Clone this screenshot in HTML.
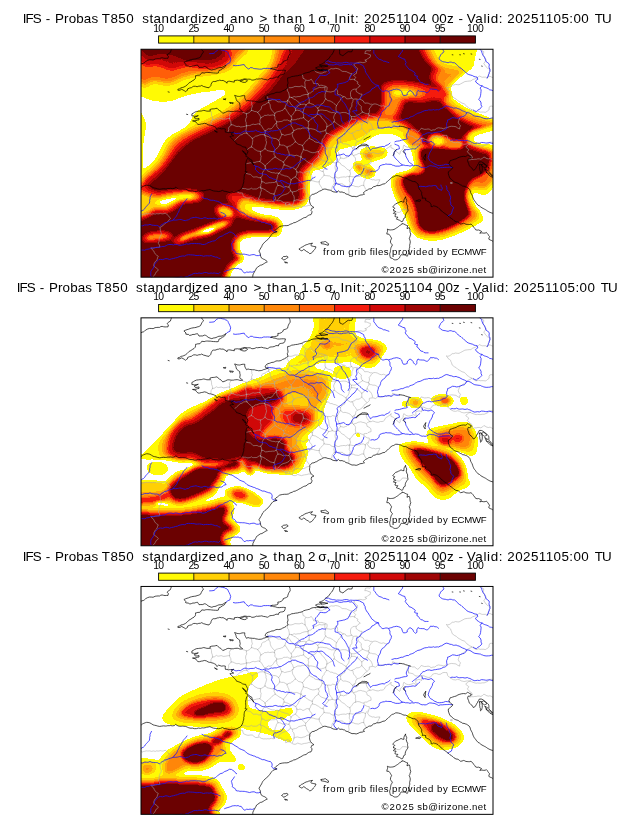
<!DOCTYPE html>
<html><head><meta charset="utf-8">
<style>
html,body{margin:0;padding:0;background:#fff;}
body{width:630px;height:828px;position:relative;overflow:hidden;font-family:"Liberation Sans",sans-serif;color:#000;}
.t{position:absolute;left:0;width:634px;text-align:center;font-size:13.2px;line-height:16px;white-space:pre;letter-spacing:0.62px;}
.tk{font-size:10.4px;}
.tt{font-size:13.4px;}
svg{position:absolute;left:0;top:0;will-change:transform;}
.wm{font-size:9.6px;}
</style></head><body>
<svg width="630" height="828" viewBox="0 0 630 828">
<defs>
<filter id="cm" color-interpolation-filters="sRGB" x="0" y="0" width="100%" height="100%" filterUnits="objectBoundingBox">
<feComponentTransfer>
<feFuncR type="discrete" tableValues="1.0000 1.0000 1.0000 1.0000 1.0000 1.0000 1.0000 1.0000 1.0000 1.0000 1.0000 1.0000 1.0000 1.0000 0.9608 0.9608 0.8157 0.8157 0.6196 0.4235"/>
<feFuncG type="discrete" tableValues="1.0000 1.0000 0.9804 0.9804 0.9804 0.8157 0.8157 0.8157 0.6471 0.6471 0.5294 0.5294 0.3725 0.3725 0.1098 0.1098 0.0314 0.0314 0.0157 0.0078"/>
<feFuncB type="discrete" tableValues="1.0000 1.0000 0.0196 0.0196 0.0196 0.0196 0.0196 0.0196 0.0392 0.0392 0.0392 0.0392 0.0392 0.0392 0.0549 0.0549 0.0314 0.0314 0.0157 0.0078"/>
</feComponentTransfer>
</filter>

<filter id="b1_0" color-interpolation-filters="sRGB" x="-50%" y="-50%" width="200%" height="200%"><feGaussianBlur stdDeviation="1.0"/></filter>
<filter id="b1_2" color-interpolation-filters="sRGB" x="-50%" y="-50%" width="200%" height="200%"><feGaussianBlur stdDeviation="1.2"/></filter>
<filter id="b1_4" color-interpolation-filters="sRGB" x="-50%" y="-50%" width="200%" height="200%"><feGaussianBlur stdDeviation="1.4"/></filter>
<filter id="b1_5" color-interpolation-filters="sRGB" x="-50%" y="-50%" width="200%" height="200%"><feGaussianBlur stdDeviation="1.5"/></filter>
<filter id="b1_6" color-interpolation-filters="sRGB" x="-50%" y="-50%" width="200%" height="200%"><feGaussianBlur stdDeviation="1.6"/></filter>
<filter id="b1_8" color-interpolation-filters="sRGB" x="-50%" y="-50%" width="200%" height="200%"><feGaussianBlur stdDeviation="1.8"/></filter>
<filter id="b2_0" color-interpolation-filters="sRGB" x="-50%" y="-50%" width="200%" height="200%"><feGaussianBlur stdDeviation="2.0"/></filter>
<filter id="b2_2" color-interpolation-filters="sRGB" x="-50%" y="-50%" width="200%" height="200%"><feGaussianBlur stdDeviation="2.2"/></filter>
<filter id="b2_3" color-interpolation-filters="sRGB" x="-50%" y="-50%" width="200%" height="200%"><feGaussianBlur stdDeviation="2.3"/></filter>
<filter id="b2_4" color-interpolation-filters="sRGB" x="-50%" y="-50%" width="200%" height="200%"><feGaussianBlur stdDeviation="2.4"/></filter>
<filter id="b2_5" color-interpolation-filters="sRGB" x="-50%" y="-50%" width="200%" height="200%"><feGaussianBlur stdDeviation="2.5"/></filter>
<clipPath id="cp"><rect x="0" y="0" width="352" height="227.9"/></clipPath>
<g id="ln" fill="none" stroke-linejoin="round" stroke-linecap="round">
<g stroke="#a8a8a8" stroke-width="0.55">
<path d="M161.2 25.3 L161.8 27.1 L162.0 29.0 L163.3 29.6 L164.7 30.8 L166.5 31.2 L168.3 31.1 L170.3 30.0 L171.1 31.2 L171.8 32.0 L172.6 34.3 L174.8 34.3 L177.1 34.4 L178.1 36.5 L179.6 36.0 L181.0 36.0 L182.4 36.5 L183.9 36.8 L185.1 37.3 L186.1 37.8 L186.1 39.9 L185.4 42.2 L187.7 42.5 L189.9 42.8 L191.8 42.2 L193.6 41.9 L194.2 40.6 L195.2 39.4 L196.4 41.1 L196.7 43.0 L196.4 44.9 L198.1 45.6 L199.7 45.6 L201.0 46.7 L201.9 47.1 L204.2 47.6 L205.3 49.4 L206.6 49.6 L207.9 49.5 L209.1 49.3 L210.5 48.7"/>
<path d="M210.5 48.7 L209.7 47.2 L209.5 45.6 L209.5 43.4 L210.2 41.8 L211.7 40.3 L213.5 39.9 L215.2 39.9 L215.1 41.2 L215.5 42.6 L216.6 43.2 L217.8 44.1 L219.4 44.8 L221.1 44.9 L220.6 46.2 L219.7 47.7 L218.8 49.9 L217.2 50.2 L215.5 49.7 L214.0 49.7 L212.5 50.0 L210.5 48.7"/>
<path d="M218.8 49.9 L220.4 50.6 L222.3 51.7 L222.8 52.8 L223.8 54.0 L225.1 53.8 L226.3 53.8 L227.7 54.1 L229.1 55.0 L230.4 54.9 L231.7 55.2 L233.0 54.7 L234.3 54.7 L236.4 55.2 L238.1 56.2 L240.4 56.9 L242.6 56.4 L244.6 57.3 L246.8 57.5"/>
<path d="M237.2 78.5 L235.8 79.7 L234.3 80.8 L232.9 80.1 L231.3 80.0 L229.8 80.2 L228.3 80.5 L228.3 82.8 L227.4 83.8 L226.1 85.0 L224.3 86.1 L223.0 87.6 L221.9 89.0 L221.0 90.1 L220.0 90.8 L218.5 91.7 L217.2 92.0 L215.9 92.6 L215.0 93.7 L214.6 95.0 L214.7 96.4 L213.5 97.8 L212.8 99.4 L212.6 100.5 L213.9 100.4 L215.2 100.3 L216.6 99.7 L217.8 98.7 L217.0 97.9"/>
<path d="M225.3 96.6 L225.3 98.5 L226.1 100.5 L227.1 102.1 L227.8 102.7 L228.9 103.7"/>
<path d="M228.9 103.7 L226.8 104.5 L225.3 105.8 L225.9 107.2 L226.1 108.5 L228.1 109.4 L229.8 110.8 L230.0 112.3 L230.1 113.8 L228.1 114.3 L227.0 114.8 L226.1 115.7 L224.4 115.6 L222.7 116.1 L223.4 117.7 L224.5 119.1 L226.3 120.0 L228.3 120.2 L228.3 122.2 L227.8 123.3 L227.5 124.7 L226.5 126.7 L227.5 128.1 L228.3 129.3 L229.9 129.9 L231.2 130.6 L232.8 130.4 L234.3 131.0 L236.6 130.6 L238.9 130.5 L238.3 132.0 L237.4 133.3 L237.0 134.5 L236.3 136.0"/>
<path d="M96.0 142.6 L97.1 143.0 L98.3 143.7 L100.0 143.7 L101.7 144.1 L101.9 145.6 L102.5 147.2 L104.1 148.0 L105.4 148.5 L107.0 148.9 L108.5 148.7 L110.0 148.5 L111.5 148.7 L112.7 149.7 L114.5 151.0 L116.4 151.1 L118.3 150.5 L119.4 151.3 L120.5 152.0 L122.8 152.5 L124.1 152.3 L125.5 152.5 L126.8 152.2 L128.1 152.5 L130.4 151.8 L132.6 152.5 L133.4 150.2 L135.6 151.0 L137.5 151.6 L139.4 151.3 L140.9 152.1 L142.1 153.1 L143.5 153.6 L144.7 154.0"/>
<path d="M144.7 154.0 L146.2 153.2 L147.5 153.6 L148.9 154.0 L148.9 155.5 L146.8 155.4 L144.7 156.3 L144.7 154.0"/>
<path d="M148.9 155.5 L150.7 156.8 L151.9 157.4 L153.0 157.8 L154.8 157.7 L156.7 156.6 L158.7 157.3 L160.5 157.8 L162.0 157.3 L163.5 157.0 L165.8 156.7 L168.0 156.0 L169.2 156.3 L170.6 156.6"/>
<path d="M173.5 21.1 L174.6 22.3 L175.6 22.9 L177.1 23.4 L178.7 23.9 L180.1 24.0 L181.6 23.7 L183.1 22.8 L184.5 22.7 L185.6 21.7 L186.9 21.1 L188.2 20.7 L189.1 19.9 L190.4 19.4 L191.7 19.6 L193.0 19.6 L194.4 19.1 L196.3 19.3 L198.2 19.9 L199.5 20.8 L201.2 22.1 L203.4 22.2 L205.7 22.5 L206.8 23.2 L208.1 23.7 L209.6 24.4 L211.0 24.4 L209.6 26.2 L208.7 28.2 L208.7 30.3 L209.9 30.4 L211.1 30.0 L212.3 30.1 L213.5 30.5"/>
<path d="M213.5 30.5 L213.9 29.4 L214.7 28.2 L213.9 27.3 L212.5 25.9 L214.1 24.8 L215.5 24.1 L215.5 22.8 L215.8 21.5 L216.5 20.4 L216.6 19.1 L215.7 18.5 L214.3 17.4 L213.5 16.4 L212.8 15.3 L214.3 14.2 L216.3 13.5 L218.2 13.0 L220.0 13.0 L221.9 13.5 L223.8 13.1 L225.7 12.0 L223.8 10.8 L225.1 10.6 L226.4 9.9 L227.6 8.7 L229.1 8.1 L229.4 6.8 L229.4 5.5 L228.0 5.2 L226.6 4.6 L225.2 4.1 L223.8 4.3 L224.2 2.9 L224.5 1.7 L226.8 1.4 L229.1 1.7 L230.0 0.6 L230.5 -0.5 L231.3 -2.1"/>
<path d="M213.5 30.5 L214.6 31.1 L215.4 32.0 L217.0 32.8 L216.3 34.3 L218.1 35.6 L219.3 36.8 L218.2 37.3 L217.0 38.2 L216.3 39.1 L215.2 39.9"/>
<path d="M237.2 78.5 L238.3 79.0 L239.5 79.3 L241.9 78.8 L243.2 78.7 L244.4 78.2 L246.7 77.9 L248.5 78.1 L250.2 78.5 L251.2 76.8 L251.7 75.2 L252.9 75.8 L254.1 76.4 L256.2 76.7 L258.5 77.0"/>
<path d="M268.2 79.4 L267.3 80.9 L266.7 82.8 L267.5 84.6 L267.5 86.4 L269.9 86.8 L272.0 87.3 L273.5 88.7 L275.0 89.6 L276.4 89.6 L277.8 89.6 L279.2 89.7 L280.6 89.3"/>
<path d="M269.5 79.7 L271.4 80.5 L273.5 80.5 L275.2 81.8 L276.5 82.8 L277.8 82.1 L278.7 80.9 L279.6 80.1 L280.3 79.0 L282.1 79.7 L283.7 80.1 L285.4 80.0 L287.1 79.7 L288.7 80.1 L290.1 81.3 L292.0 80.6 L293.9 80.6 L295.6 79.1 L297.6 78.5 L299.8 78.9 L301.0 78.9 L302.2 79.6 L303.2 79.2 L304.5 78.7 L306.7 78.2 L308.4 77.4 L310.4 77.0 L312.8 77.2 L315.0 77.5 L316.8 78.9 L318.7 79.7 L318.7 78.1 L319.5 76.4 L318.0 74.8 L317.2 72.9 L317.6 71.8 L318.1 70.6 L318.7 68.4 L320.1 67.8 L321.8 66.7 L322.6 66.1 L323.9 65.3 L325.5 63.8 L326.6 62.7 L327.7 62.2 L329.3 61.5 L330.8 60.5"/>
<path d="M330.8 60.5 L329.7 59.8 L328.6 59.3 L327.3 58.3 L326.3 57.8 L325.2 56.3 L324.4 55.6 L323.2 54.5 L321.0 53.9 L319.8 53.1 L318.7 52.5 L316.9 51.5 L315.3 49.9 L313.2 48.8 L312.0 47.8 L311.2 47.2 L310.5 44.9 L309.9 43.7 L309.7 42.6 L308.4 41.5 L307.0 40.6 L306.4 39.2 L305.2 38.1 L306.7 38.4 L308.2 38.1 L309.8 37.1 L311.2 35.8 L312.8 35.8 L314.5 35.1 L316.2 35.4 L318.0 35.5 L319.7 34.6 L321.0 33.9 L321.9 33.4 L323.9 32.3 L326.3 32.0 L328.1 31.8 L329.9 31.7 L331.7 30.3 L333.8 29.7 L335.8 28.6 L337.0 28.0 L338.3 26.7 L340.4 27.7 L341.6 28.0 L342.8 27.9 L344.6 27.9 L346.2 28.7"/>
<path d="M330.8 60.5 L332.6 61.6 L334.6 62.8 L336.0 62.9 L337.6 62.3 L339.1 62.9 L340.6 62.8 L342.4 62.8 L344.3 63.1 L345.5 62.6 L346.4 61.7 L348.1 60.5 L348.1 58.6 L348.9 57.0 L350.8 56.8 L352.7 57.6 L354.5 58.0 L355.0 57.9"/>
<path d="M346.2 28.7 L347.5 27.5 L348.9 27.0 L350.9 28.0 L352.3 28.4 L353.4 29.0 L354.9 29.8 L355.0 29.8"/>
<path d="M346.2 28.7 L347.1 26.6 L347.4 25.4 L348.1 24.4 L348.3 23.3 L349.0 22.1 L348.9 19.9 L346.7 19.1 L345.1 17.6 L343.9 15.9 L342.8 14.3 L344.1 12.5 L345.1 10.5 L344.4 9.6 L343.5 8.3 L342.8 7.0 L342.1 5.5 L342.6 4.0 L342.8 2.4 L341.1 1.4 L339.2 0.3 L337.5 -0.9 L336.1 -1.3"/>
<path d="M228.9 103.7 L230.2 103.8 L231.6 103.2 L233.0 103.5 L234.3 104.0 L236.0 104.4 L237.8 104.4 L239.3 103.7 L241.1 103.7 L242.4 103.3 L243.4 102.5 L244.1 100.7 L245.6 99.4 L246.5 98.9 L247.6 98.1 L249.2 97.0 L250.2 95.7 L249.8 97.2 L250.2 98.7 L252.3 99.3 L253.9 101.0 L255.4 102.5 L256.8 103.4 L258.5 105.0 L259.2 103.8 L259.2 102.5 L260.4 101.2 L261.2 100.3 L262.2 99.4 L262.2 97.6 L263.0 95.7 L264.2 97.1 L266.0 97.9 L267.6 98.2 L269.2 98.0 L271.0 97.5 L272.8 96.7 L274.2 97.9 L275.8 98.7 L275.3 97.5 L274.8 96.1 L274.8 94.7 L275.0 93.4 L276.4 93.4 L277.8 93.0 L279.2 93.3 L280.6 94.1 L280.7 92.9 L280.8 91.7 L281.0 90.5 L280.6 89.3"/>
<path d="M280.6 89.3 L282.8 89.3 L284.8 90.3 L287.1 91.0 L289.3 90.8 L290.8 89.0 L291.6 87.8 L293.7 87.1 L295.7 87.2 L297.8 88.0 L299.9 87.6 L301.3 86.5 L303.0 86.0 L304.5 86.1 L305.9 86.1 L306.3 87.6 L306.7 89.1 L307.6 90.2 L308.6 90.8 L310.4 92.2 L312.3 93.2 L314.5 93.5 L316.6 92.9 L318.7 93.4 L320.2 94.4 L321.4 94.7 L322.7 95.0 L323.9 95.0 L325.2 94.6 L326.6 94.5 L327.9 94.5 L329.3 94.6"/>
<path d="M329.3 94.6 L327.7 95.1 L326.6 96.1 L325.5 96.7 L324.8 97.9 L326.1 98.9 L327.8 100.2 L327.2 101.4 L326.3 102.5 L327.8 104.0 L328.8 105.3 L330.3 106.0 L331.0 107.3 L331.5 108.5 L329.6 108.5"/>
<path d="M329.3 94.6 L330.8 95.4 L332.0 95.8 L333.7 96.4 L335.2 96.8 L336.7 96.5 L338.2 96.7 L339.8 96.7 L341.3 96.4 L343.2 96.4 L345.1 95.6 L347.1 94.7 L347.8 93.7 L348.9 92.9 L350.8 92.9 L352.6 93.4 L354.6 93.3 L355.0 93.0"/>
<path d="M327.8 110.5 L329.3 110.5 L330.7 110.2 L332.3 110.3 L333.8 110.0 L335.3 110.0 L336.8 109.6 L338.4 109.6 L339.8 110.0 L341.6 109.0 L342.8 107.8 L344.0 108.1 L345.0 109.0 L347.3 109.7 L348.5 109.4 L349.7 109.6 L350.9 110.2 L351.9 110.8 L352.6 110.0 L353.5 109.0 L354.1 107.0 L355.0 106.3"/>
<path d="M-3.0 161.7 L-2.7 161.6 L-0.8 161.6 L-0.4 163.8 L0.8 165.8 L2.2 165.1 L3.8 164.8 L5.3 164.4 L6.8 164.6 L8.6 164.4 L10.5 164.9 L12.4 164.5 L14.3 164.9 L15.6 164.4 L16.9 164.6 L18.0 164.6 L19.4 164.1 L20.6 164.5 L21.7 164.6 L22.8 164.4 L24.1 163.8 L25.6 164.7 L27.1 166.3 L28.5 167.9 L29.4 169.2 L28.2 170.5 L27.4 171.6 L26.3 172.8 L24.9 173.7 L23.3 175.0 L22.0 176.2 L20.2 177.6 L18.8 178.2 L19.3 179.8 L19.3 181.4 L19.9 182.8 L20.3 184.3 L20.1 185.7 L19.3 186.8 L18.7 188.3 L18.1 189.6 L18.1 191.9 L17.3 194.2 L18.5 195.9 L18.8 197.9 L16.5 198.1 L14.3 198.4 L12.1 198.9 L9.8 198.7 L11.1 200.3 L12.8 201.7 L13.3 203.2 L14.5 205.0 L15.7 206.0 L17.3 207.0 L16.5 208.6 L16.2 210.0 L15.5 211.3 L14.3 212.3 L13.5 213.6 L13.0 214.6 L12.8 216.9 L14.1 217.8 L15.1 218.6 L16.3 219.4 L17.3 220.7 L16.5 221.9 L15.3 222.6 L14.3 224.5 L13.5 226.0 L11.8 227.5 L10.6 229.0 L9.8 230.5"/>
<path d="M309.7 133.5 L311.2 133.1 L311.2 134.3 L309.7 134.3 L309.7 133.5"/>
<path d="M266.0 83.2 L267.5 84.3 L267.5 86.4"/>
<path d="M225.4 84.5 L224.6 83.2 L223.0 81.8 L221.9 80.4 L220.7 79.2"/>
<path d="M216.1 92.1 L215.1 91.0 L214.6 89.8 L213.5 88.7 L212.8 88.0 L212.2 86.3 L212.0 85.0 L211.1 84.0"/>
<path d="M220.7 79.2 L219.6 80.4 L218.4 81.0 L217.1 81.4 L215.7 81.3 L214.8 81.8 L213.8 82.7 L212.4 83.2 L211.1 84.0"/>
<path d="M199.7 92.6 L199.6 91.1 L199.5 89.6"/>
<path d="M199.7 92.6 L200.8 93.9 L202.4 94.7 L204.0 94.5 L205.7 94.9 L207.2 95.4 L208.9 96.1 L209.9 97.4 L211.5 98.9"/>
<path d="M199.5 89.6 L200.5 88.5 L201.0 87.5 L202.5 86.7 L203.6 86.2 L203.9 85.0 L203.8 83.9 L204.3 82.6 L205.4 81.5"/>
<path d="M211.5 98.9 L212.7 98.1 L213.4 97.0"/>
<path d="M211.1 84.0 L209.4 84.1 L207.9 83.2 L206.8 82.6 L205.4 81.5"/>
<path d="M184.7 49.6 L184.0 48.1 L184.1 46.7 L184.0 45.2 L184.6 43.7 L184.7 42.2 L183.8 40.8 L183.8 39.4 L184.1 37.8"/>
<path d="M184.7 49.6 L186.2 50.9 L187.3 51.4 L189.1 51.7 L190.7 52.6 L191.8 53.1 L192.8 54.2 L194.4 55.3 L195.5 56.3"/>
<path d="M195.5 56.3 L196.4 55.2 L196.7 54.2 L197.5 53.4 L198.2 52.2 L199.4 51.0 L199.8 49.5 L201.0 48.3 L202.4 47.7"/>
<path d="M106.0 84.0 L104.4 83.9 L102.8 84.0 L101.1 85.3 L99.3 85.8 L98.4 86.6 L97.3 87.6 L95.8 88.9 L94.7 90.1 L93.7 91.0"/>
<path d="M106.0 84.0 L105.0 82.3 L105.0 80.3 L105.4 78.6 L105.6 76.6"/>
<path d="M105.6 76.6 L105.5 76.4"/>
<path d="M105.5 76.4 L103.7 77.2 L101.6 77.5 L99.7 77.8 L97.9 77.0 L95.9 77.3 L93.9 76.6 L92.0 75.6 L90.2 75.5"/>
<path d="M90.2 75.5 L89.6 76.5 L88.6 77.1 L87.5 78.8 L87.8 80.6 L87.0 82.5"/>
<path d="M224.6 105.4 L223.0 104.7 L221.3 104.5 L219.9 103.9 L218.4 104.2 L217.0 104.4 L215.8 105.3 L214.0 105.7 L212.4 106.5"/>
<path d="M222.6 117.4 L221.7 116.6 L220.6 116.2 L218.8 115.4 L216.7 115.1 L214.6 115.6"/>
<path d="M214.6 115.6 L214.7 114.4 L214.7 113.3 L214.3 112.1 L214.5 111.0 L214.6 109.8 L214.2 108.5 L213.5 107.5 L212.4 106.5"/>
<path d="M211.5 98.9 L211.9 100.5 L211.4 102.0 L211.8 103.6 L211.2 105.2"/>
<path d="M211.2 105.2 L212.4 106.5"/>
<path d="M222.7 136.2 L221.0 136.0 L219.3 136.8 L217.6 137.6 L215.9 137.4 L214.1 137.2 L212.4 136.4 L210.8 136.1 L209.1 136.2"/>
<path d="M222.7 136.2 L222.8 134.1 L222.9 132.9 L223.4 131.8 L224.1 130.7 L224.3 129.6 L224.4 128.3 L224.4 127.1"/>
<path d="M224.4 127.1 L222.4 126.1 L220.4 126.2 L218.5 127.1 L216.4 127.1 L214.5 127.5 L212.5 127.7 L210.5 127.4 L208.5 127.1"/>
<path d="M209.1 136.2 L208.9 135.1 L209.3 134.0 L209.0 133.0 L208.2 131.7 L208.5 129.6 L208.3 127.5"/>
<path d="M208.5 127.1 L208.3 127.5"/>
<path d="M225.2 140.3 L224.1 139.3 L223.7 138.0 L222.7 136.2"/>
<path d="M207.6 144.7 L208.1 143.0 L207.8 141.3 L207.6 139.6 L208.2 138.1"/>
<path d="M208.2 138.1 L209.1 136.2"/>
<path d="M226.5 124.5 L225.3 125.8 L224.4 127.1"/>
<path d="M214.6 115.6 L212.7 116.4 L211.4 118.2 L210.7 119.2 L209.9 120.0 L208.8 121.3"/>
<path d="M208.8 121.3 L209.0 122.7 L209.5 124.2 L209.2 125.7 L208.5 127.1"/>
<path d="M117.4 149.8 L117.9 148.6 L118.5 147.2 L119.3 145.7 L119.3 144.3 L119.5 143.0 L120.3 141.6 L120.2 140.1 L119.8 138.8"/>
<path d="M101.3 139.1 L103.4 139.4 L104.6 139.4 L105.8 139.9 L107.0 140.0 L108.1 139.9 L109.2 139.7 L110.3 138.9 L111.6 139.7 L112.7 139.8 L113.9 139.7 L115.1 139.8 L116.1 139.5 L117.0 138.8 L118.3 138.0 L119.5 137.9"/>
<path d="M119.8 138.8 L119.5 137.9"/>
<path d="M199.7 92.6 L198.4 94.3 L197.6 95.6 L197.2 96.5 L196.5 97.6"/>
<path d="M211.2 105.2 L209.7 105.6 L208.4 106.4 L206.8 107.4 L205.8 108.3 L204.2 108.8 L202.6 109.4 L201.0 108.9 L199.5 108.8"/>
<path d="M196.5 97.6 L196.6 99.0 L196.4 100.5 L196.6 102.0 L197.5 103.2 L197.8 104.8 L199.0 106.3 L199.2 107.5 L199.5 108.8"/>
<path d="M208.8 121.3 L207.6 120.7 L206.1 120.0 L205.3 119.1 L204.5 118.2 L203.1 117.0 L201.8 116.4 L200.4 115.6 L199.7 114.7 L199.2 113.7 L198.1 113.2 L197.2 112.7"/>
<path d="M199.5 108.8 L198.7 109.7 L198.0 110.5 L197.8 111.5 L197.2 112.7"/>
<path d="M193.0 72.4 L192.0 73.8 L190.6 74.8 L188.7 75.9 L187.2 76.9 L185.8 77.6"/>
<path d="M193.0 72.4 L194.2 72.9 L195.2 73.8 L196.8 75.1 L198.1 75.9 L199.4 76.7 L200.9 77.2 L202.4 78.3 L203.9 79.3 L205.1 80.1"/>
<path d="M199.5 89.6 L198.2 89.0 L196.4 87.9 L194.7 86.9 L192.7 86.6 L191.0 85.7 L189.4 85.7 L188.6 85.2 L187.3 84.2 L185.5 84.0"/>
<path d="M185.5 84.0 L184.8 82.3 L184.7 80.7"/>
<path d="M205.1 80.1 L205.4 81.5"/>
<path d="M185.8 77.6 L185.5 79.3 L184.7 80.7"/>
<path d="M185.5 84.0 L184.5 85.4 L183.3 87.0 L183.0 88.3 L182.0 89.3 L181.2 90.5 L181.1 91.6 L181.0 92.9 L180.8 94.3"/>
<path d="M196.5 97.6 L195.4 98.3 L194.0 98.3 L192.8 98.0 L191.6 97.7 L190.5 98.5 L189.1 98.9 L187.9 98.5 L186.7 98.9"/>
<path d="M186.7 98.9 L185.4 98.4 L184.3 98.6 L182.8 97.5 L181.3 96.8"/>
<path d="M181.3 96.8 L180.9 95.6 L180.8 94.3"/>
<path d="M220.7 79.2 L220.8 77.3 L220.8 75.4"/>
<path d="M205.1 80.1 L205.8 78.8 L207.0 77.5 L207.9 75.8 L208.2 74.1 L208.6 72.8 L209.0 71.7 L210.0 70.9 L210.6 69.8"/>
<path d="M220.8 75.4 L219.8 74.5 L218.6 73.5 L217.7 72.2 L216.1 71.4 L214.8 70.4 L213.2 69.9 L211.9 69.9 L210.6 69.8"/>
<path d="M231.4 79.2 L231.4 78.0 L230.9 76.7 L230.5 75.7 L229.8 74.4 L228.5 73.6 L227.8 72.6 L227.0 71.6 L226.1 70.8"/>
<path d="M220.8 75.4 L222.0 74.5 L223.1 73.8 L223.9 73.0 L224.7 72.4 L226.1 70.8"/>
<path d="M237.2 69.4 L236.5 69.0 L235.3 68.0 L234.3 67.5 L233.2 67.3 L231.8 67.3 L230.5 66.8 L229.3 66.7 L228.1 66.0"/>
<path d="M226.1 70.8 L226.4 69.7 L226.7 68.7 L227.8 67.4 L228.1 66.0"/>
<path d="M231.4 55.7 L230.3 56.8 L229.3 58.3 L228.0 59.9 L228.5 61.0 L228.4 62.2 L228.2 63.3 L227.5 64.5"/>
<path d="M228.1 66.0 L227.5 64.5"/>
<path d="M164.4 31.5 L163.7 33.3 L164.0 35.0 L164.0 36.7 L164.1 38.4"/>
<path d="M148.0 38.4 L150.0 38.5 L152.1 38.0 L154.0 37.1 L156.0 37.3 L158.0 37.4 L159.1 37.3 L160.1 36.7 L162.0 37.0 L162.8 38.0 L164.1 38.4"/>
<path d="M184.1 37.8 L182.2 38.4 L180.4 38.4 L178.5 38.1 L176.6 38.9 L175.1 39.7 L173.7 39.8 L172.5 40.8 L171.6 41.7 L170.6 42.9 L169.7 43.6 L168.5 43.8 L167.3 44.3"/>
<path d="M164.1 38.4 L164.8 39.7 L165.8 41.1 L166.3 42.7 L167.3 44.3"/>
<path d="M90.1 62.9 L89.0 64.5 L88.3 65.8 L88.8 67.5 L88.5 69.2"/>
<path d="M88.5 69.2 L87.4 69.2 L86.3 69.4 L84.2 69.8 L82.1 70.0 L80.9 69.3 L79.9 69.2 L78.8 69.5 L77.6 69.7 L76.6 69.6 L75.5 68.9 L74.6 69.5 L73.4 70.3 L71.5 70.6"/>
<path d="M70.0 62.2 L70.5 64.3 L70.6 66.5 L71.4 68.5 L71.5 70.6"/>
<path d="M105.5 64.5 L105.4 66.0 L105.8 67.6 L104.9 69.1 L104.6 70.5 L104.6 71.9 L105.2 73.4 L105.2 75.0 L105.5 76.4"/>
<path d="M105.5 64.5 L103.5 63.7 L101.8 63.1"/>
<path d="M90.2 75.5 L89.9 73.8 L89.8 72.1 L88.8 70.5 L88.5 69.2"/>
<path d="M69.9 75.4 L70.0 74.1 L70.1 72.8 L70.9 71.6 L71.5 70.6"/>
<path d="M120.8 132.4 L120.5 133.8 L119.7 135.3 L119.9 136.6 L119.5 137.9"/>
<path d="M120.8 132.4 L120.5 130.3 L119.7 128.4"/>
<path d="M119.7 128.4 L117.8 128.5 L116.0 127.6 L114.1 127.7 L112.3 127.9 L111.2 126.6 L110.4 126.0 L109.4 125.1 L107.4 124.8 L105.4 124.2"/>
<path d="M208.2 138.1 L206.2 137.5 L204.4 136.6 L202.7 135.7 L201.2 134.5 L199.2 134.5 L197.2 134.5 L195.2 134.6 L193.3 134.8"/>
<path d="M190.2 140.5 L191.0 139.2 L191.1 137.9 L191.7 136.4 L192.5 135.6 L193.3 134.8"/>
<path d="M194.6 64.0 L193.8 65.0 L193.2 66.3 L192.6 68.1 L192.8 69.3 L193.4 70.2 L193.5 71.3 L193.0 72.4"/>
<path d="M194.6 64.0 L193.5 63.5 L192.4 63.3 L190.3 63.4 L189.2 62.8 L187.9 62.6 L186.8 61.9 L185.7 61.3 L183.6 61.2 L181.5 60.8 L179.3 60.8 L177.3 61.3"/>
<path d="M185.8 77.6 L186.0 75.6 L185.5 74.5 L184.9 73.6 L184.0 72.1 L183.2 71.4 L182.5 70.4 L181.0 68.9 L180.3 67.9 L179.9 66.8 L178.7 66.2 L178.0 65.4 L176.4 65.1"/>
<path d="M176.4 65.1 L176.4 63.3 L177.3 61.3"/>
<path d="M194.6 64.0 L195.8 62.6"/>
<path d="M184.7 49.6 L183.8 50.8 L183.0 52.4 L181.8 54.2 L179.9 55.1 L179.4 56.1 L178.6 57.3 L177.6 58.3 L176.7 58.9"/>
<path d="M195.8 62.6 L195.0 61.0 L195.0 59.5 L195.0 57.9 L195.5 56.3"/>
<path d="M177.3 61.3 L177.2 60.1 L176.7 58.9"/>
<path d="M167.3 44.3 L167.0 45.2"/>
<path d="M167.0 45.2 L167.1 47.3 L167.6 48.6 L168.2 49.5 L168.2 51.6 L168.1 53.6"/>
<path d="M176.7 58.9 L175.6 58.0 L174.5 57.2 L173.8 56.5 L172.9 55.6 L171.6 55.0 L169.7 54.3 L168.1 53.6"/>
<path d="M212.0 50.6 L211.8 52.4 L210.9 53.9 L210.9 55.6 L210.7 57.3 L209.4 58.8 L209.2 59.9 L208.6 61.0 L208.8 62.8 L208.2 64.7"/>
<path d="M215.4 50.5 L216.0 51.3 L216.9 52.4 L217.2 54.4 L218.9 55.9 L220.5 57.3 L220.1 58.7 L220.3 60.1 L220.7 61.4 L221.6 62.8"/>
<path d="M221.6 62.8 L219.8 64.0 L218.1 65.3 L216.9 65.7 L215.4 66.6 L214.3 67.1 L212.9 67.4 L211.7 67.2 L210.4 67.5"/>
<path d="M208.2 64.7 L209.4 66.2 L210.4 67.5"/>
<path d="M195.8 62.6 L197.3 63.4 L199.0 63.9 L200.5 63.4 L202.2 63.2 L203.7 63.3 L205.1 63.4 L206.9 64.5 L208.2 64.7"/>
<path d="M227.5 64.5 L226.1 64.6 L224.7 64.2 L223.1 63.5 L221.6 62.8"/>
<path d="M210.6 69.8 L210.3 68.7 L210.4 67.5"/>
<path d="M146.7 51.2 L147.8 52.0 L149.1 53.1 L149.6 54.5 L150.9 55.8 L151.4 56.4 L152.4 57.5 L153.7 58.2 L154.5 59.5"/>
<path d="M146.7 51.2 L147.7 49.6 L148.4 47.8"/>
<path d="M148.4 47.8 L150.4 48.2"/>
<path d="M150.4 48.2 L151.8 48.9 L152.7 49.9 L154.3 50.3 L155.6 51.4 L156.4 52.0 L157.6 52.7 L158.4 54.0 L159.3 55.1"/>
<path d="M159.3 55.1 L158.0 56.1 L156.5 56.8 L155.6 58.5 L154.5 59.5"/>
<path d="M146.5 39.6 L146.3 40.7 L146.4 41.8 L147.4 42.8 L147.7 43.8 L148.2 45.9 L148.4 47.8"/>
<path d="M167.0 45.2 L165.0 45.2 L163.1 45.5 L161.3 46.1 L160.0 46.7 L159.1 47.3 L157.0 47.3 L155.8 47.5 L154.8 47.8 L153.7 47.3 L152.6 47.5 L151.5 48.1 L150.4 48.2"/>
<path d="M165.1 55.6 L166.4 54.4 L168.1 53.6"/>
<path d="M165.1 55.6 L163.7 54.9 L162.2 55.0 L160.8 55.1 L159.3 55.1"/>
<path d="M126.1 47.3 L126.8 48.5 L126.9 49.4"/>
<path d="M127.6 51.1 L127.7 51.3"/>
<path d="M110.4 52.3 L110.6 53.4 L110.8 54.5 L110.8 55.7 L111.4 56.7 L111.2 57.7 L110.5 58.9 L110.6 60.0 L110.4 61.2"/>
<path d="M110.4 61.2 L111.9 61.4 L113.7 62.3 L115.2 62.3 L116.6 63.1"/>
<path d="M116.6 63.1 L118.3 61.7 L119.6 60.6 L120.4 58.9 L120.7 57.0 L121.5 56.3 L122.5 55.7 L124.1 55.3 L125.6 54.1 L126.7 53.5 L127.7 53.2"/>
<path d="M127.7 51.3 L127.7 53.2"/>
<path d="M146.7 51.2 L146.6 51.3"/>
<path d="M146.6 51.3 L145.3 52.3 L144.2 52.6 L143.0 52.5 L141.8 52.5 L140.7 52.5 L139.5 52.8 L138.3 52.6 L137.1 52.7 L136.0 52.0 L135.0 51.1 L133.7 50.5 L132.4 50.5 L131.3 50.4 L130.1 50.9 L128.9 51.4 L127.7 51.3"/>
<path d="M105.5 64.5 L106.9 64.0 L108.2 63.4 L109.5 62.2 L110.4 61.2"/>
<path d="M146.6 51.3 L146.4 52.4 L146.3 53.5 L145.9 54.5 L145.0 55.6 L144.3 57.5 L143.8 59.2"/>
<path d="M143.8 59.2 L142.5 59.9 L141.7 61.2 L140.4 61.3 L139.1 62.0 L137.9 62.1 L136.5 62.5 L135.1 63.0 L133.8 64.1"/>
<path d="M133.8 64.1 L132.8 63.1 L131.7 62.2 L130.9 61.1 L130.0 59.8 L129.4 58.1 L129.2 56.8 L129.2 55.5 L128.5 54.6 L127.7 53.2"/>
<path d="M133.5 66.2 L131.9 65.6 L130.2 65.9 L128.6 66.1 L127.0 65.6 L125.3 66.2 L123.6 66.1 L122.6 67.0 L121.5 67.5 L119.9 68.5"/>
<path d="M133.5 66.2 L134.0 68.0 L133.8 69.8 L135.1 71.4 L135.7 72.6"/>
<path d="M135.2 74.1 L133.6 75.2 L132.6 76.9 L131.5 78.3 L130.7 79.2 L129.0 79.8 L127.2 79.4 L125.8 80.7 L124.1 81.5"/>
<path d="M135.2 74.1 L135.7 72.6"/>
<path d="M124.1 81.5 L122.7 80.3 L121.8 78.7 L121.1 77.6 L120.5 76.5 L119.8 75.7 L118.7 74.9"/>
<path d="M118.7 74.9 L119.2 73.3 L118.8 71.6 L119.1 70.1 L119.9 68.5"/>
<path d="M133.8 64.1 L133.5 66.2"/>
<path d="M116.6 63.1 L117.9 64.7 L119.0 66.3 L119.4 67.3 L119.9 68.5"/>
<path d="M105.6 76.6 L107.2 76.3 L108.8 76.4 L110.7 75.4 L112.2 74.9 L113.9 75.3 L115.5 75.0 L117.1 74.5 L118.7 74.9"/>
<path d="M120.8 132.4 L122.6 132.8 L124.4 134.0 L126.2 133.9 L128.0 133.5 L129.7 133.5 L131.5 133.3 L133.3 133.3 L135.1 132.4"/>
<path d="M119.8 138.8 L121.1 139.0 L122.5 139.7 L124.2 140.5 L125.1 141.4 L126.0 141.9 L127.8 143.0 L129.2 144.0 L131.2 144.5 L133.0 144.8"/>
<path d="M133.0 144.8 L133.6 143.8 L134.1 142.5 L134.3 141.2 L135.0 140.0 L135.4 138.2 L136.1 137.2 L137.0 136.3"/>
<path d="M135.1 132.4 L136.0 133.6 L136.3 134.5 L137.0 136.3"/>
<path d="M106.0 84.0 L107.0 85.2 L108.5 86.7 L110.1 87.8 L111.2 89.2"/>
<path d="M106.5 100.2 L108.1 98.8 L109.2 98.3 L110.3 97.7"/>
<path d="M111.2 89.2 L111.7 90.2 L111.8 91.4 L111.4 93.5 L111.3 95.5 L110.6 96.5 L110.3 97.7"/>
<path d="M124.1 81.5 L124.4 83.6 L123.6 85.6"/>
<path d="M111.2 89.2 L112.9 88.3 L114.0 87.4 L114.6 86.9 L115.9 86.8 L117.2 86.3 L118.9 85.5 L120.3 85.4 L121.9 85.3 L123.6 85.6"/>
<path d="M140.8 85.1 L140.5 86.5 L139.8 87.4 L139.3 88.5 L138.7 89.9 L137.6 91.0"/>
<path d="M140.8 85.1 L140.0 83.7 L139.4 82.2 L139.1 81.1 L138.2 80.1 L137.1 78.9 L136.4 78.0 L135.8 77.2 L135.9 75.6 L135.2 74.1"/>
<path d="M137.6 91.0 L135.9 89.8 L134.4 89.2 L132.9 89.1 L131.4 88.7 L129.2 88.4 L127.4 87.3 L125.6 86.8 L124.0 86.2"/>
<path d="M123.6 85.6 L124.0 86.2"/>
<path d="M119.7 128.4 L120.8 127.1 L121.4 126.1 L121.3 124.8 L121.5 123.5 L122.2 122.0 L123.3 121.1 L123.7 119.9 L124.5 118.9"/>
<path d="M135.1 132.4 L135.8 130.4 L136.1 128.6 L136.7 127.3 L136.6 126.1 L137.3 125.2 L137.6 124.1"/>
<path d="M137.6 124.1 L136.1 123.7 L134.6 124.0 L133.1 123.5 L131.7 123.5 L129.9 123.1 L128.1 122.2 L127.0 121.9 L125.8 120.9 L125.0 119.9 L124.5 118.9"/>
<path d="M177.4 102.4 L175.5 102.7 L173.7 103.3 L171.8 103.5 L169.9 103.0 L169.0 102.8 L167.9 102.2 L166.8 101.7 L165.9 101.1 L164.1 101.1 L162.4 100.1"/>
<path d="M177.4 102.4 L177.8 103.8 L178.3 105.1 L177.4 106.5 L177.4 107.7"/>
<path d="M177.4 107.7 L176.0 108.9 L174.9 109.4 L174.0 110.5 L173.0 111.9 L172.1 112.9 L171.3 114.9"/>
<path d="M171.3 114.9 L169.5 114.2 L167.9 113.5 L166.6 112.8 L165.5 111.6 L163.8 110.5 L162.6 109.7 L161.1 109.0 L160.0 107.6"/>
<path d="M160.0 107.6 L160.0 105.7 L160.8 103.8 L161.8 102.0 L162.4 100.1"/>
<path d="M182.0 122.2 L182.4 120.8 L183.6 119.5 L184.2 118.3 L185.4 117.1 L186.7 115.4 L187.7 113.7"/>
<path d="M182.0 122.2 L182.8 124.0 L183.1 125.9"/>
<path d="M183.1 125.9 L184.4 126.3 L185.7 126.4 L187.2 126.6 L188.6 126.7 L189.8 127.6 L190.9 128.4 L192.0 128.7 L193.3 128.6"/>
<path d="M187.7 113.7 L189.6 113.4 L191.3 112.8"/>
<path d="M194.4 127.5 L193.3 128.6"/>
<path d="M194.4 127.5 L194.6 125.7 L193.9 124.0 L194.7 122.1 L194.5 120.5 L194.1 118.7 L194.1 117.0 L194.5 116.0 L195.2 115.1 L195.3 113.5"/>
<path d="M195.3 113.5 L193.4 113.5 L191.3 112.8"/>
<path d="M171.5 117.4 L173.1 117.9 L174.6 118.2 L176.1 119.2 L177.6 119.9 L178.4 120.6 L179.8 121.6 L180.9 122.2 L182.0 122.2"/>
<path d="M171.5 117.4 L171.3 116.1 L171.3 114.9"/>
<path d="M177.4 107.7 L178.6 109.0 L179.3 110.0 L180.8 110.8 L182.2 111.3 L183.6 111.8 L185.1 112.2 L186.5 112.7 L187.7 113.7"/>
<path d="M181.4 139.5 L180.5 138.2 L179.4 136.4 L178.3 134.7 L178.2 132.6"/>
<path d="M178.2 132.6 L178.6 131.1 L179.8 129.6 L180.6 128.9 L181.7 127.7 L182.6 126.6 L183.1 125.9"/>
<path d="M193.3 134.8 L193.3 133.2 L192.8 131.7 L193.2 130.1 L193.3 128.6"/>
<path d="M186.7 98.9 L186.8 100.8 L187.7 102.4 L187.8 104.0 L188.0 105.6 L188.2 107.6 L189.2 109.3 L189.9 110.0 L190.7 111.0 L191.3 112.8"/>
<path d="M181.3 96.8 L180.5 98.3 L179.9 100.2 L178.4 101.6 L177.4 102.4"/>
<path d="M208.3 127.5 L206.5 127.1 L204.8 127.9 L203.1 127.6 L201.4 127.8 L199.6 128.0 L197.8 128.7 L196.3 128.5 L194.4 127.5"/>
<path d="M197.2 112.7 L195.3 113.5"/>
<path d="M161.9 63.1 L162.2 64.3 L162.6 65.6 L162.7 66.9 L162.6 68.3"/>
<path d="M161.9 63.1 L160.1 62.3 L158.5 61.3 L156.6 60.9 L154.6 61.1"/>
<path d="M162.6 68.3 L160.9 69.0 L159.4 68.9 L157.9 69.7 L156.3 69.7 L154.8 70.4 L153.3 70.5 L151.9 70.8 L150.5 70.3"/>
<path d="M154.6 61.1 L154.1 62.0 L153.3 63.0 L152.3 64.6 L151.3 66.0 L150.1 67.1"/>
<path d="M150.1 67.1 L150.8 68.6 L150.5 70.3"/>
<path d="M176.4 65.1 L175.3 66.1 L174.2 67.7 L172.7 68.1 L171.0 69.2 L169.9 70.1 L169.2 70.9 L168.5 71.5 L167.4 72.3"/>
<path d="M165.1 55.6 L164.4 57.2 L163.5 58.0 L163.1 59.2 L162.6 61.0 L161.9 63.1"/>
<path d="M167.4 72.3 L166.1 71.7 L165.3 70.8 L163.7 69.9 L162.6 68.3"/>
<path d="M154.5 59.5 L154.6 61.1"/>
<path d="M143.8 59.2 L145.2 60.1 L145.8 61.4 L146.3 62.3 L147.3 63.6 L147.8 64.7 L148.7 65.6 L150.1 67.1"/>
<path d="M149.8 71.8 L150.5 70.3"/>
<path d="M149.8 71.8 L148.2 71.7 L146.4 70.7 L144.5 70.9 L142.8 70.8 L141.7 71.7 L140.8 72.1 L139.1 72.3 L137.4 72.6 L135.7 72.6"/>
<path d="M154.4 92.5 L155.4 93.1 L156.2 93.9 L157.7 95.1 L159.4 95.4 L161.4 96.2"/>
<path d="M154.4 92.5 L154.1 91.5 L153.5 90.5 L152.9 89.4 L151.9 87.9 L151.5 86.7 L151.3 85.5 L151.2 84.2 L151.9 83.0"/>
<path d="M161.4 96.2 L162.0 95.6 L163.0 94.6 L163.6 93.5 L164.5 92.2 L166.0 91.1 L167.0 90.3 L168.2 88.9"/>
<path d="M151.9 83.0 L152.8 81.3"/>
<path d="M152.8 81.3 L154.4 80.7 L156.3 79.7 L158.0 79.5 L159.7 79.6 L161.6 78.8 L163.3 78.8 L165.2 78.7 L167.1 78.8"/>
<path d="M168.2 88.9 L168.6 87.8 L168.4 86.6 L168.4 85.5 L168.4 84.3 L168.1 83.1 L167.4 81.9 L167.7 80.7 L167.7 79.6"/>
<path d="M167.7 79.6 L167.1 78.8"/>
<path d="M180.8 94.3 L179.2 94.3 L177.6 93.3 L176.0 93.1 L174.3 92.7 L173.1 92.0 L172.2 91.0 L171.3 90.6 L169.9 90.0 L168.2 88.9"/>
<path d="M162.4 100.1 L162.2 98.0 L161.4 96.2"/>
<path d="M140.8 85.1 L142.2 85.3 L143.5 86.1 L145.0 85.8 L146.3 85.4 L147.9 85.1 L149.4 84.8 L150.9 83.5 L151.9 83.0"/>
<path d="M149.8 71.8 L150.1 73.0 L150.3 74.3 L150.0 75.5 L150.1 76.7 L151.3 78.0 L151.8 79.1 L152.1 80.2 L152.8 81.3"/>
<path d="M167.4 72.3 L167.2 73.9 L167.8 75.5 L167.4 77.0 L167.1 78.8"/>
<path d="M184.7 80.7 L182.9 81.8 L181.7 81.9 L180.6 82.4 L178.4 82.7 L176.3 82.0 L175.0 80.9 L174.2 80.4 L173.0 80.0 L171.9 79.8 L169.8 79.4 L167.7 79.6"/>
<path d="M137.6 91.0 L138.1 92.0 L138.5 93.3 L138.6 95.4"/>
<path d="M154.4 92.5 L153.3 93.3 L152.3 94.4 L151.6 95.3 L150.5 95.7 L149.5 96.6 L148.2 96.8 L147.0 97.3 L146.1 97.9"/>
<path d="M138.6 95.4 L140.5 95.9 L142.5 95.9 L144.1 96.7 L145.2 97.3 L146.1 97.9"/>
<path d="M159.9 107.7 L160.0 107.6"/>
<path d="M159.9 107.7 L158.3 107.1 L156.9 106.4 L155.4 106.0 L153.9 106.4 L152.5 106.1 L151.1 105.9 L149.7 105.7 L148.3 106.1"/>
<path d="M146.1 97.9 L146.1 98.9 L146.7 100.0 L147.0 101.2 L147.7 102.3 L148.1 104.1 L148.3 106.1"/>
<path d="M133.0 144.8 L133.4 146.1 L133.8 147.2 L134.3 148.5 L134.4 149.7"/>
<path d="M151.5 156.1 L151.9 154.8 L152.5 153.7 L153.0 151.6"/>
<path d="M168.0 148.6 L165.9 149.0 L164.1 150.3 L162.1 150.7 L160.1 151.3 L158.2 151.0 L156.6 150.5 L154.8 150.8 L153.0 151.6"/>
<path d="M171.5 117.4 L170.2 118.5 L169.6 120.1 L169.2 121.3 L168.2 122.6"/>
<path d="M178.2 132.6 L176.2 132.7 L174.2 132.3 L172.3 131.7 L170.3 131.3"/>
<path d="M170.3 131.3 L170.9 130.2 L171.1 129.0 L171.0 127.7 L170.5 126.6 L169.6 125.5 L168.8 124.6 L168.2 122.6"/>
<path d="M119.3 102.2 L121.4 101.6 L122.5 100.4 L124.0 99.5"/>
<path d="M119.3 102.2 L119.6 103.4 L119.3 104.6 L119.7 106.0 L120.2 107.2 L119.8 108.4 L119.8 109.6 L119.6 110.9 L118.7 112.2"/>
<path d="M124.0 99.5 L125.3 100.3 L126.1 101.3 L127.5 101.6 L128.9 101.9 L131.1 102.4 L133.1 102.2"/>
<path d="M118.7 112.2 L120.5 113.4 L121.7 114.6 L123.2 115.4 L124.1 116.9"/>
<path d="M124.1 116.9 L124.6 115.9 L125.5 115.0 L127.1 113.9 L128.2 112.7 L129.2 111.7 L130.3 110.9 L130.9 110.0 L132.1 109.1 L133.1 108.5 L134.2 107.7"/>
<path d="M133.1 102.2 L133.1 103.6 L133.0 105.1 L133.9 106.5 L134.2 107.7"/>
<path d="M110.3 97.7 L111.7 98.2 L112.7 99.2 L113.7 100.1 L114.5 100.6 L115.8 101.2 L116.8 101.9 L118.1 101.9 L119.3 102.2"/>
<path d="M124.0 86.2 L124.4 88.0 L125.1 89.5 L124.9 91.2 L125.6 92.8 L125.3 94.4 L124.8 95.9 L124.1 97.8 L124.0 99.5"/>
<path d="M105.9 114.3 L108.0 113.9 L109.1 113.6 L110.2 113.6"/>
<path d="M112.6 113.2 L114.0 113.2 L115.6 112.6 L117.1 112.4 L118.7 112.2"/>
<path d="M138.6 95.4 L138.1 96.5 L137.5 97.5 L136.6 98.4 L135.8 99.0 L135.2 99.8 L134.2 100.6 L133.1 102.2"/>
<path d="M124.5 118.9 L124.1 116.9"/>
<path d="M148.3 106.1 L147.3 106.8 L146.2 107.7 L145.4 109.2 L144.4 110.4 L143.4 111.6 L142.5 112.9"/>
<path d="M142.5 112.9 L141.2 112.4 L140.3 111.3 L139.1 111.0 L138.0 110.3 L136.3 109.1 L135.4 108.5 L134.2 107.7"/>
<path d="M137.6 124.1 L138.3 123.7"/>
<path d="M142.5 112.9 L143.0 114.3 L143.1 115.6"/>
<path d="M143.1 115.6 L142.1 117.3 L141.8 118.9 L140.8 119.8 L140.3 120.9 L139.7 122.1 L138.3 123.7"/>
<path d="M159.9 107.7 L159.5 109.2 L159.4 110.6 L158.9 112.2 L159.2 113.7 L158.3 114.5 L157.7 115.8 L156.8 117.7 L155.5 119.2 L154.8 120.2"/>
<path d="M143.1 115.6 L144.4 115.9 L145.6 116.4 L147.2 116.9 L148.5 117.7 L150.1 118.2 L151.5 118.1 L153.0 119.2 L154.8 120.2"/>
<path d="M168.2 122.6 L166.7 122.1 L165.2 122.4 L163.7 123.3 L162.0 124.1 L160.3 123.0 L158.9 122.6 L157.4 123.1 L155.8 122.6"/>
<path d="M154.8 120.2 L155.4 121.4 L155.8 122.6"/>
<path d="M147.8 137.8 L148.6 136.3 L149.3 134.6 L149.6 132.7 L150.1 130.7"/>
<path d="M147.8 137.8 L148.7 138.8 L149.1 139.8 L149.5 141.5"/>
<path d="M150.1 130.7 L150.9 129.7 L152.0 128.9 L153.2 128.3 L154.4 127.6"/>
<path d="M154.4 127.6 L155.4 128.6 L156.6 129.8 L157.8 130.9 L158.8 131.5 L159.9 132.4 L161.2 133.5 L162.6 135.0 L163.9 136.1 L164.7 136.8"/>
<path d="M164.3 139.2 L162.7 138.8 L161.1 139.4 L159.4 139.8 L157.9 140.1 L157.1 140.6 L156.1 141.5 L154.6 142.1 L153.0 142.3 L151.2 142.9"/>
<path d="M164.3 139.2 L164.6 138.0 L164.7 136.8"/>
<path d="M149.5 141.5 L150.4 142.0 L151.2 142.9"/>
<path d="M137.0 136.3 L138.2 136.2 L139.4 136.5 L140.9 137.2 L142.2 138.0 L143.6 137.6 L145.0 137.2 L146.3 137.8 L147.8 137.8"/>
<path d="M138.3 123.7 L139.6 124.9 L140.6 125.6 L142.1 125.9 L143.8 126.7 L145.5 126.9 L147.3 127.7 L148.9 129.0 L150.1 130.7"/>
<path d="M136.9 150.3 L137.8 149.0 L139.2 147.7 L140.9 146.4 L142.1 145.8 L143.2 145.5 L144.3 145.2 L146.3 144.5 L148.0 143.4 L148.9 142.4 L149.5 141.5"/>
<path d="M155.8 122.6 L155.9 123.7 L155.8 124.9 L155.3 126.2 L154.4 127.6"/>
<path d="M170.3 131.3 L168.7 132.5 L167.7 133.7 L167.1 134.3 L166.2 135.4 L164.7 136.8"/>
<path d="M168.4 146.9 L168.0 146.1 L167.1 145.1 L166.3 144.0 L165.4 142.4 L165.4 140.9 L164.3 139.2"/>
<path d="M153.0 151.6 L153.3 149.5 L153.1 147.5 L152.7 146.2 L151.5 145.1 L151.6 144.0 L151.2 142.9"/>
<path d="M252.4 162.3 L253.9 162.7 L255.5 162.7 L257.0 163.2 L258.5 163.1 L259.5 162.4 L260.3 161.8 L261.5 160.1 L262.7 160.2 L264.0 160.2 L265.2 160.4 L266.7 161.3"/>
</g><g stroke="#1414ff" stroke-width="0.75">
<path d="M90.4 83.2 L92.7 83.3 L94.0 84.1 L95.0 84.5 L97.3 84.0 L99.5 84.1 L100.6 83.4 L102.1 82.4 L103.6 81.8 L105.2 81.7 L106.4 82.2 L107.6 82.4 L109.9 82.0 L112.3 82.0 L113.5 81.7 L114.5 80.9 L116.4 82.0 L118.3 82.5 L120.0 83.3 L121.6 83.4 L123.0 82.8 L124.5 82.7 L125.9 82.4 L127.3 82.8 L128.8 82.2 L130.3 81.5 L131.7 81.8 L133.2 81.4 L135.4 81.4 L136.7 81.0 L137.9 80.5 L139.2 80.1 L140.5 79.9 L141.8 78.9 L142.9 78.4 L143.8 77.8 L145.0 77.1 L146.0 76.5 L146.9 75.5 L149.1 75.2 L150.3 74.4 L151.5 73.7 L152.9 73.8 L154.3 73.7 L156.0 74.7 L157.5 75.2 L158.8 75.8 L160.0 76.1 L161.3 76.5 L162.5 77.0 L163.4 77.9 L164.7 79.1 L165.6 80.1 L166.8 81.1 L167.8 83.0 L168.8 85.0 L169.6 86.5 L170.4 87.5 L171.6 88.1 L172.6 89.0 L173.8 89.5 L175.0 89.9 L176.2 91.0 L177.0 92.0 L178.0 92.7 L179.3 93.4 L181.3 94.1 L182.8 95.2 L183.2 96.9 L184.3 98.4 L184.1 100.1 L184.2 101.9 L184.3 103.2 L184.6 104.5 L185.2 105.8 L186.1 107.0 L186.3 108.5 L186.9 110.0 L185.6 112.0 L184.6 113.8 L183.9 115.0 L182.9 115.7 L181.6 116.9 L182.5 117.8 L183.6 118.9 L184.8 119.6 L186.1 119.9"/>
<path d="M125.8 50.2 L128.1 49.7 L130.4 49.7 L132.7 50.1 L134.9 50.6 L137.0 50.4 L139.1 50.3 L139.9 51.6 L140.9 52.5 L142.5 52.9 L143.9 53.2 L145.4 54.3 L146.2 55.8 L147.3 56.5 L148.7 57.2 L150.8 57.2 L153.0 57.3 L154.5 58.5 L156.4 58.7 L158.2 59.1 L159.3 60.6 L160.5 61.6 L161.4 62.7 L162.9 64.0 L165.1 64.7 L166.1 65.4 L167.3 66.4 L168.2 66.0 L169.4 65.3 L171.8 65.3 L173.6 65.5 L175.6 64.7 L177.8 65.1 L180.1 64.6 L181.2 64.9 L182.5 65.6 L183.3 66.4 L184.3 67.6 L185.4 68.7 L186.7 69.4 L188.4 70.6 L189.8 72.1 L190.7 73.3 L191.7 74.3 L192.4 75.9 L192.7 77.2 L193.0 78.4 L193.6 79.7"/>
<path d="M159.3 59.7 L160.9 59.5 L162.8 59.0 L164.6 57.9 L166.2 57.6 L168.3 57.9 L170.3 57.8 L172.1 57.4 L174.1 56.4 L176.3 55.7 L178.6 55.9 L180.5 56.2 L182.3 56.4 L184.0 57.1 L185.5 57.3 L187.0 57.6 L188.5 57.6 L190.1 59.4 L191.0 60.4 L191.8 61.2 L193.1 61.6 L194.5 62.3 L196.0 62.7 L197.4 62.5 L198.4 64.5 L199.7 66.1 L200.2 68.3 L200.3 70.5 L201.2 72.6 L202.1 73.4 L203.1 74.3"/>
<path d="M154.5 57.0 L155.9 56.2 L157.5 54.7 L158.9 54.0 L160.5 52.9 L161.8 52.5 L163.0 52.3 L163.9 51.3 L165.3 50.6 L166.6 49.7 L168.0 48.7 L169.2 48.7 L170.4 48.4 L171.6 48.0 L172.6 47.2 L174.0 46.3 L175.1 45.0 L176.4 44.4 L177.5 43.4 L179.3 43.1 L181.0 42.2 L182.9 42.6 L184.6 42.6"/>
<path d="M167.3 66.4 L168.3 67.0 L169.5 67.4 L170.9 68.1 L172.3 69.1 L173.4 70.9 L174.1 72.5 L175.1 73.8 L176.6 75.2 L176.8 76.7 L176.3 78.2 L175.9 80.3 L176.7 81.4 L177.7 82.0 L178.7 83.2 L180.1 84.3"/>
<path d="M112.7 115.7 L113.8 116.4 L114.8 117.0 L114.8 118.6 L114.2 120.0 L115.8 121.6 L116.8 122.9 L118.0 123.7 L119.1 124.4 L120.6 124.3 L122.2 124.9 L123.7 124.9 L125.2 125.2 L127.0 126.8 L128.1 128.2 L130.0 128.6 L131.1 129.1 L132.2 129.7 L134.3 130.1 L135.5 131.1 L136.4 131.6 L137.8 131.9 L139.4 132.2 L140.8 133.8 L141.5 134.8 L142.4 135.8 L143.1 137.5 L144.5 138.8 L143.2 140.1 L142.4 141.9 L141.2 143.4 L140.4 144.4 L139.3 145.0 L137.1 145.7 L135.5 146.4 L133.7 146.3 L132.9 147.3 L132.2 148.7 L132.8 150.3 L133.4 151.7"/>
<path d="M114.8 117.0 L116.8 117.4 L118.0 118.1 L119.2 118.8 L121.1 120.0 L122.8 120.2 L124.6 120.6 L126.4 120.2 L128.2 119.9 L130.1 119.9 L131.7 119.9 L133.2 119.2 L134.8 119.0 L136.4 119.6 L137.6 119.9 L138.8 119.7 L140.0 119.7 L141.2 120.2 L143.2 119.9 L145.1 119.1 L146.5 119.2 L147.8 119.7 L149.1 119.5 L150.4 118.8 L151.5 118.2 L152.6 117.3 L154.5 116.1 L155.6 114.6 L157.0 113.6 L158.7 112.3 L160.5 111.6 L162.2 110.1 L164.3 109.3"/>
<path d="M139.4 131.3 L141.2 131.4 L143.2 132.5 L144.9 133.1 L146.9 134.3 L148.8 134.7 L150.7 134.3 L152.9 134.6 L154.1 134.4 L155.2 133.8 L156.4 133.8 L157.8 133.2 L159.2 133.1 L160.5 132.8 L162.8 132.2 L164.8 131.7 L167.1 131.1 L169.2 131.3 L170.4 130.1 L171.4 129.0 L172.6 128.6 L174.1 127.8"/>
<path d="M124.0 84.1 L125.3 84.4 L126.4 84.7 L128.3 85.8 L129.6 87.3 L130.1 88.6 L131.1 90.0 L131.0 91.7 L130.4 93.4 L131.3 95.1 L131.9 96.4 L133.1 98.1 L133.7 99.4 L133.6 100.8 L132.9 102.3 L134.6 103.0 L136.4 104.3 L137.7 104.1 L139.1 104.4 L140.5 105.1 L141.8 105.0 L143.1 105.4 L144.3 106.0 L145.6 105.6 L146.9 105.8 L149.1 106.2 L150.2 106.3 L151.5 107.0 L153.7 107.8"/>
<path d="M195.6 106.3 L195.3 104.4 L194.4 102.5 L194.7 101.3 L194.6 100.0 L195.6 97.9 L195.8 96.0 L196.7 94.1 L196.7 92.4 L195.9 90.6 L197.5 89.1 L198.9 88.1 L200.1 87.2 L201.2 86.6 L202.4 85.2 L204.0 84.4 L204.7 83.3 L205.7 82.5 L206.4 81.6 L207.1 80.5 L208.9 79.3 L210.2 77.9 L211.5 76.2 L213.2 75.2 L214.3 73.8 L215.0 72.8 L215.8 71.7 L216.3 70.6"/>
<path d="M195.9 142.9 L195.0 141.4 L193.6 140.4 L193.1 139.1 L192.6 137.6 L193.7 136.5 L194.3 135.6 L195.2 133.5 L194.5 132.0 L194.4 130.7 L193.9 129.1 L193.6 127.5 L193.7 125.9 L194.0 124.3 L194.6 122.9 L195.9 121.4 L196.1 120.1 L196.4 118.7 L195.4 116.6 L195.2 114.6 L195.5 113.5 L196.1 112.3 L196.1 111.0 L196.2 109.7 L195.5 107.9 L195.6 106.3 L197.7 105.9 L199.7 105.5 L201.2 105.1 L202.7 104.7 L203.8 105.4 L205.0 106.7 L206.4 106.6 L208.0 107.0 L208.9 105.6 L210.2 104.7 L210.7 103.1 L211.4 102.0 L212.5 100.7 L213.8 99.7 L215.5 99.4"/>
<path d="M227.1 96.4 L227.4 97.5 L228.0 98.7 L229.0 99.9 L229.4 101.0 L230.4 100.2 L231.3 99.4 L232.6 99.0 L233.7 99.0 L236.0 98.7 L238.1 97.9 L239.4 97.6 L240.6 97.3 L242.0 97.2 L243.2 97.6 L244.8 96.3 L246.4 95.7 L247.7 95.0 L249.0 93.8"/>
<path d="M194.4 134.0 L195.5 134.2 L196.7 134.8 L198.8 135.4 L200.6 136.6 L202.7 137.0 L204.2 137.2 L205.7 137.5 L207.6 137.2 L209.5 136.9 L210.2 135.8 L211.0 134.3 L211.3 133.1 L212.0 132.0 L212.3 129.7 L213.5 128.5 L214.7 126.7 L216.3 126.5 L217.8 125.7 L219.4 125.2 L220.8 124.3 L221.2 122.9 L222.3 121.4 L222.9 119.1"/>
<path d="M184.6 13.8 L186.5 14.7 L188.1 15.6 L190.1 15.6 L192.1 15.8 L193.6 15.4 L195.2 15.1 L196.7 15.2 L198.2 15.8 L200.5 15.9 L202.7 15.3 L205.0 15.3 L207.2 15.0 L209.1 15.6 L211.0 15.3 L211.9 16.2 L213.2 17.6 L214.4 19.2 L215.8 21.1 L214.2 22.6 L212.9 23.8 L211.6 24.6 L210.2 25.9 L209.3 27.6 L208.6 29.0 L207.6 30.6 L206.8 32.2 L205.3 32.6 L203.8 33.4 L202.5 33.6 L201.2 34.0 L199.9 34.2 L198.6 34.4 L197.4 34.9 L196.2 34.9 L196.8 36.3 L196.8 37.9 L195.5 39.7 L194.9 41.2 L194.0 42.6 L194.1 44.0 L194.0 45.3 L195.7 45.9 L197.3 46.4 L198.6 47.6 L200.4 48.7 L200.8 50.2 L201.2 51.7 L202.8 53.3 L203.9 54.6 L204.8 56.2 L205.7 57.8 L206.3 59.2 L207.1 60.6 L207.8 62.1 L208.1 63.6 L208.4 65.3 L208.6 66.9 L208.3 68.3 L208.6 69.8 L207.9 71.2 L207.2 72.6"/>
<path d="M237.4 36.4 L235.2 37.0 L234.1 37.8 L232.8 38.8 L230.9 39.6 L229.9 41.4 L228.3 42.6 L226.7 43.4 L225.3 44.1 L224.2 44.9 L222.9 45.5 L221.5 46.5 L220.0 47.9 L218.8 49.9 L217.5 50.9 L215.8 51.5 L215.4 53.4 L216.0 55.2 L215.6 56.9 L214.7 58.5 L215.5 60.2 L216.0 61.7 L213.8 61.4 L211.6 61.9 L212.9 63.2 L214.7 64.6 L216.1 66.3 L217.8 67.6 L218.8 68.6 L220.0 69.6 L221.3 71.0 L223.0 72.2 L224.6 72.7 L226.5 73.8"/>
<path d="M184.6 11.8 L186.0 11.8 L187.4 11.6 L188.9 12.5 L190.3 12.8 L191.5 13.2 L192.7 13.2 L193.9 13.4 L195.2 13.8 L196.7 13.6 L198.2 13.7 L199.7 13.8 L201.2 13.8 L203.4 13.2 L205.7 13.1 L207.1 13.5 L208.4 13.9 L209.8 13.7 L211.3 13.8 L213.0 13.9 L214.7 13.8 L217.0 14.1 L218.5 14.4 L220.0 15.3 L221.2 15.9 L222.6 16.7 L223.1 18.6 L224.2 20.2 L224.2 21.6 L224.8 23.2 L225.5 24.5 L226.1 25.5 L227.1 26.3 L227.7 27.6 L228.7 29.2 L229.8 30.8 L230.6 32.3 L232.1 33.5 L233.4 34.6 L234.7 35.6 L236.0 35.9 L237.4 36.4 L237.8 37.6 L238.1 38.8 L239.6 40.6 L240.8 41.7 L241.9 42.3 L243.4 41.9 L244.9 41.5 L246.2 41.6 L247.4 41.9 L248.3 43.4 L249.0 44.9 L248.9 46.2 L249.0 47.5 L249.5 48.5 L250.5 49.6 L250.3 50.9 L250.0 52.2 L249.0 53.5 L248.7 54.7 L247.9 56.6 L246.6 57.1 L245.3 58.1 L244.3 59.8 L242.6 61.2 L241.2 62.1 L240.4 63.4 L239.7 64.5 L239.6 65.6 L238.9 67.6 L237.6 69.4 L237.1 71.7 L236.5 73.5 L236.6 75.2 L237.2 77.0 L237.2 78.8 L239.5 78.8 L241.9 78.8 L243.1 78.5 L244.2 78.0 L245.5 78.3 L246.7 77.9 L248.4 77.8 L250.2 78.5 L251.5 77.8 L252.9 76.7 L254.9 77.3 L256.9 77.5 L258.5 77.0"/>
<path d="M268.2 79.4 L267.5 81.3 L267.1 82.8 L266.0 84.3 L265.2 86.6 L265.6 88.1 L266.4 89.6 L264.7 90.2 L263.0 90.3 L260.7 90.9 L258.5 91.6 L256.3 91.9 L255.1 92.0 L253.9 92.6"/>
<path d="M247.9 41.9 L249.4 41.4 L250.9 41.1 L252.2 40.4 L253.6 40.2 L255.7 39.8 L257.7 40.3 L259.4 41.0 L260.7 42.2 L261.1 43.6 L261.5 44.9 L262.4 46.4 L264.4 46.3 L266.3 45.5 L266.2 44.2 L266.7 43.1 L268.0 42.0 L269.0 41.1 L270.0 41.8 L271.3 42.6 L272.1 43.7 L272.5 45.0 L273.7 46.2 L274.6 46.9 L275.9 45.8 L275.9 44.6 L275.8 43.4 L276.4 42.2 L277.0 41.1 L278.2 41.9 L279.5 42.1 L281.8 42.2 L283.1 42.2 L284.2 42.9 L285.4 43.4 L286.6 43.4 L287.5 42.4 L288.6 41.1 L289.6 39.6 L291.0 40.0 L292.4 39.7 L293.9 40.3 L295.4 40.3 L296.6 41.0 L297.6 41.9"/>
<path d="M250.9 72.9 L252.0 72.8 L253.2 72.2 L255.4 72.2 L256.9 72.0 L258.5 71.4 L260.1 70.8 L261.8 70.8 L263.3 70.0 L264.6 69.5 L266.0 69.0 L267.5 69.1 L268.9 67.9 L270.5 67.4 L271.8 67.0 L273.4 66.1 L274.4 65.2 L275.6 64.7 L276.8 63.9 L278.0 63.8 L279.8 63.2 L281.8 62.2 L283.4 61.5 L285.3 61.2 L286.5 61.1 L287.7 60.6 L290.1 60.8 L291.3 60.7 L292.5 60.3 L293.7 60.8 L294.9 60.6 L296.3 60.4 L297.7 60.6 L299.1 59.7 L300.6 59.3 L302.0 58.5 L303.0 57.7 L305.2 56.7 L307.1 57.0 L308.9 57.8 L310.6 58.0 L312.3 58.8 L313.7 58.8 L315.1 58.6 L316.7 59.3 L318.1 59.6 L320.0 60.7 L321.7 61.6 L323.7 62.3 L325.7 63.5 L327.9 63.6 L330.0 64.6 L331.1 65.4 L332.1 66.1 L333.8 66.9 L336.0 67.2 L338.2 67.5 L339.4 67.6 L340.6 68.3 L341.7 68.6 L342.8 69.1 L345.1 69.5 L347.4 69.4 L348.9 69.3 L350.3 68.8 L351.9 68.8 L353.4 68.4"/>
<path d="M325.7 63.5 L324.8 65.3 L323.3 66.9 L321.4 67.3 L319.2 68.2 L317.4 68.8 L315.7 69.1 L313.6 68.6 L311.5 68.4 L310.1 69.2 L309.0 69.8 L307.8 70.4 L306.7 70.6 L306.5 72.3 L305.6 74.3 L305.7 76.4 L306.2 78.5 L305.5 79.5 L304.5 80.2 L303.4 80.7 L302.2 80.9 L300.4 82.0 L298.7 82.5 L296.6 82.8 L294.6 83.2 L293.1 83.3 L291.6 83.8 L290.1 84.0 L288.6 83.5 L286.6 83.6 L284.8 84.3 L283.5 85.1 L282.1 85.2 L280.6 86.6 L279.5 88.1 L278.4 89.8 L276.5 91.1 L275.3 92.0 L273.5 93.4 L272.5 94.0 L271.3 95.2"/>
<path d="M301.4 -2.1 L301.9 0.0 L302.3 1.2 L302.9 2.4 L301.9 3.7 L300.7 4.4 L299.6 5.7 L299.1 7.0 L298.3 8.2 L298.1 9.6 L299.6 11.2 L301.4 12.3 L302.9 12.7 L304.2 12.8 L305.7 13.2 L307.1 13.5 L308.8 12.8 L310.3 12.9 L311.8 13.5 L313.5 13.5 L315.1 14.8 L316.5 16.1 L317.3 17.2 L318.7 18.2 L320.0 18.9 L320.9 19.8 L322.1 20.7 L323.3 22.0 L324.6 22.9 L325.8 24.3 L327.8 25.3 L329.9 25.9 L331.6 26.4 L333.0 27.3 L334.6 27.6 L336.1 27.9 L336.8 30.0 L335.4 31.0 L334.4 31.8 L335.8 33.8 L337.3 34.8 L338.5 35.7 L339.7 36.3 L340.9 36.5 L342.2 37.4 L343.3 38.0 L344.6 38.4 L345.9 38.8 L347.5 39.6 L348.7 40.6 L350.3 40.8 L351.9 41.4 L354.1 41.1 L355.0 41.2"/>
<path d="M340.9 36.5 L340.2 37.6 L339.1 38.8 L340.1 40.6 L340.0 42.4 L339.8 44.1 L339.6 46.0 L339.1 47.9 L338.4 49.2 L337.6 50.2 L339.2 51.6 L340.1 53.7 L340.0 55.6 L340.9 57.5 L340.0 58.5 L338.6 59.9 L336.7 61.0 L335.3 62.3 L333.6 61.6 L332.3 60.8"/>
<path d="M336.8 -2.1 L337.8 -1.6 L338.8 -0.5 L339.4 0.7 L340.6 1.7 L340.8 2.9 L341.2 4.1 L342.1 6.2 L343.5 7.9 L344.3 10.0 L345.1 12.3 L346.9 13.6 L348.1 14.6 L348.3 15.9 L348.0 17.2 L348.2 18.6 L348.9 19.9 L348.9 22.1 L348.3 23.2 L348.1 24.4 L347.5 25.6 L347.3 26.7 L346.2 28.7"/>
<path d="M261.9 -2.4 L261.8 -0.3 L261.5 1.8 L260.4 3.1 L259.2 4.7 L258.4 6.2 L257.2 7.1 L258.6 7.9 L260.0 8.5 L261.8 9.5 L263.9 10.0 L264.2 11.7 L265.2 13.1 L264.2 15.0 L265.1 16.3 L266.0 17.6 L267.4 18.8 L268.2 20.3 L270.1 20.8 L272.0 22.1 L273.1 22.8 L274.3 23.8 L273.5 25.9 L275.0 26.7 L276.5 26.7 L275.8 29.0 L277.2 29.8 L278.0 31.2 L279.0 32.1 L279.8 33.2 L281.9 33.6 L282.8 34.5 L284.1 35.0 L285.6 35.0 L287.1 35.0"/>
<path d="M232.1 -2.1 L232.6 -0.6 L232.8 0.9 L232.8 2.4 L232.8 4.0 L234.1 5.4 L235.1 7.0 L236.5 8.8 L238.1 10.0 L240.2 10.6 L241.5 11.3 L242.6 12.0 L244.0 11.9 L245.2 12.5 L246.6 12.9 L247.9 13.4"/>
<path d="M182.3 20.9 L184.6 21.5 L186.9 21.1 L187.8 22.5 L189.1 23.4 L187.4 24.3 L186.1 25.5 L184.2 26.3 L182.3 26.2 L180.6 26.0 L178.9 25.9 L178.1 27.4 L177.1 29.0 L176.0 30.0 L175.1 30.9 L174.1 32.8 L175.1 34.8 L175.9 36.4 L174.2 38.1 L172.9 38.6 L171.8 39.1 L172.5 40.5 L172.6 41.9"/>
<path d="M130.4 19.4 L128.5 19.2 L126.6 19.1 L124.7 19.2 L122.8 19.1 L120.6 19.9 L118.3 19.9 L116.1 19.6 L113.8 19.4 L112.5 19.2 L111.4 18.5 L109.3 18.4 L107.8 19.9 L105.9 18.6 L104.9 17.7 L104.0 16.8 L103.2 15.3 L101.0 15.6 L98.7 16.1 L96.5 16.3 L94.2 16.5 L92.4 16.1"/>
<path d="M85.1 15.8 L86.1 14.8 L87.1 14.2 L88.9 13.5 L89.2 11.8 L89.7 10.0 L89.0 8.0 L88.2 6.2 L87.3 4.6 L86.9 3.4 L85.9 2.4 L84.7 2.1 L83.5 1.3 L81.4 0.9 L79.6 0.5 L77.6 0.2 L76.4 1.1 L75.3 1.7 L74.1 3.1 L73.1 4.0 L70.9 4.3 L68.6 4.4"/>
<path d="M311.2 118.1 L309.7 118.2 L308.2 117.9 L306.7 118.1 L305.2 118.1 L303.2 118.2 L301.3 118.4 L299.4 118.4 L297.6 119.1 L296.3 118.3 L295.2 117.7 L293.1 116.9 L291.6 116.8 L290.1 116.5 L288.5 116.5 L287.1 117.2 L285.5 118.2 L284.0 118.5 L282.5 118.2 L281.1 118.4 L279.3 117.7 L277.4 116.5 L275.8 116.3 L274.3 116.1 L272.9 116.6 L271.6 116.4 L270.3 116.4 L269.0 116.9 L267.4 116.4 L265.9 116.3 L264.4 116.3 L263.0 115.8 L261.4 115.8 L259.9 116.3 L258.3 116.9 L256.9 116.9 L254.7 116.9 L252.4 116.1 L251.4 115.9 L250.2 115.1 L247.9 115.0 L246.4 115.0 L244.9 114.7 L243.4 115.3 L241.9 115.4 L240.3 116.0 L238.9 116.6 L238.2 117.8 L238.1 119.1 L237.2 120.4 L235.8 121.4 L233.6 122.2 L231.7 121.8 L229.8 122.2"/>
<path d="M261.5 115.7 L259.7 114.4 L258.5 113.4 L257.7 112.3 L256.7 111.4 L255.8 110.4 L254.6 109.4 L253.9 108.5 L253.2 107.5 L252.7 106.3 L252.9 104.8 L253.2 103.2 L254.3 101.4 L256.2 100.2 L258.5 99.4 L258.2 98.0 L257.7 96.4 L255.7 95.7 L253.9 94.9"/>
<path d="M271.7 115.7 L270.6 114.5 L269.4 113.9 L268.6 113.3 L267.5 112.3 L267.2 111.0 L266.4 109.9 L265.9 108.8 L265.2 107.8 L264.7 106.3 L264.5 104.7 L263.9 103.5 L263.0 102.5 L264.0 101.4 L264.5 100.2 L265.8 100.3 L267.1 100.4 L268.4 100.0 L269.8 99.9 L271.0 99.6 L272.4 99.5 L273.7 99.8 L275.0 99.4 L275.8 98.3 L276.9 97.4 L277.8 96.4 L278.8 95.7"/>
<path d="M308.2 115.4 L306.3 115.2 L304.5 115.0 L302.6 115.8 L300.6 116.1 L298.7 116.3 L296.7 116.2 L295.0 115.3 L293.1 114.6 L292.3 113.8 L291.2 113.0 L289.7 112.3 L288.6 111.1 L287.9 109.6 L287.1 108.5 L287.7 106.4 L288.1 105.3 L288.6 104.0 L289.1 102.7 L290.1 101.4 L290.6 100.2 L291.3 99.2 L291.6 97.2 L292.4 95.9 L293.6 94.9 L292.3 93.8 L290.9 92.3 L289.5 92.3 L288.2 92.9 L286.9 93.0 L285.6 92.6 L283.7 92.2 L281.8 92.6 L281.1 90.3"/>
<path d="M277.6 137.6 L279.7 137.0 L281.8 137.3 L283.2 137.2 L284.5 137.6 L285.7 137.3 L287.1 136.9 L288.4 136.6 L289.8 136.8 L291.0 136.7 L292.4 136.3 L293.9 136.3 L295.4 136.6 L296.0 138.0 L296.9 139.6 L298.9 140.3 L300.6 141.1 L301.4 138.8 L300.3 137.3 L299.9 135.8"/>
<path d="M307.0 166.6 L308.6 165.6 L310.4 164.6 L310.9 163.0 L311.2 161.6 L311.9 159.9 L312.7 158.5 L311.5 157.0 L309.7 155.5 L309.8 153.7 L308.9 151.7 L309.4 149.9 L309.7 147.9 L308.7 145.8 L308.2 144.7 L308.2 143.4 L307.3 142.1 L305.9 140.4 L305.9 138.5 L305.2 136.6"/>
<path d="M355.0 95.0 L354.6 94.8 L352.7 94.3 L350.8 94.0 L348.9 93.4 L347.3 93.4 L345.9 93.8 L344.4 93.7 L342.8 93.4 L340.5 93.2 L338.3 94.1 L336.6 93.8 L334.9 94.1 L333.2 94.2 L331.5 93.4 L330.3 92.8 L328.9 92.0 L327.7 91.8 L326.3 91.1 L324.0 91.6 L321.7 91.1 L320.2 91.2 L318.6 91.3 L317.2 91.1 L315.7 90.3 L314.2 90.9 L312.6 90.9 L311.1 90.7 L309.7 91.1"/>
<path d="M135.9 182.5 L133.8 182.5 L131.9 181.6 L130.7 180.5 L131.1 179.0 L131.1 177.5 L130.6 176.4 L129.6 175.2 L127.4 174.8 L126.3 174.4 L125.1 174.0 L123.2 173.2 L121.3 173.2 L119.5 172.3 L118.0 171.6 L116.6 170.9 L115.3 170.7 L113.7 169.7 L112.2 169.4 L111.0 168.8 L109.6 168.4 L108.2 167.8 L106.9 167.2 L105.7 166.4 L104.7 165.4 L103.2 164.1 L101.9 163.6 L100.2 162.9 L98.7 162.3 L97.6 161.5 L96.2 160.4 L94.2 159.3 L93.0 158.6 L92.1 157.8 L90.9 157.2 L89.7 157.0 L87.7 156.3 L85.9 156.0 L83.7 155.4 L81.4 154.8 L79.9 153.5 L78.4 152.9 L76.4 152.0 L74.6 151.7 L72.3 151.0 L70.1 151.0 L68.0 150.6 L66.9 149.7 L65.6 149.5 L63.2 149.3 L62.0 148.3 L61.0 147.9"/>
<path d="M-2.3 176.0 L-0.3 176.5 L1.5 176.6 L3.3 175.8 L5.3 175.7 L7.1 175.8 L9.0 175.0 L10.9 175.9 L12.8 176.0 L14.1 176.2 L15.4 176.1 L16.8 176.4 L18.4 177.5 L19.7 176.2 L21.1 175.2 L22.2 174.7 L23.7 173.5 L25.0 173.5 L26.4 172.9 L27.7 172.3 L29.2 171.8 L30.7 171.4 L32.4 170.7 L34.3 170.9 L36.2 170.7 L37.5 170.4 L38.8 170.1 L40.1 170.3 L41.4 170.7 L42.9 171.2 L44.5 171.4 L45.9 170.8 L47.5 170.7 L48.3 169.9 L49.6 169.0 L50.8 168.7 L52.0 168.4 L53.5 168.2 L55.0 167.9 L56.5 168.4 L58.0 168.8 L59.5 169.3 L61.1 169.4 L62.5 168.7 L64.0 168.4 L65.6 168.9 L67.1 169.5 L68.6 169.1 L70.1 169.2 L71.5 169.3 L73.0 168.8 L74.6 169.4 L76.1 169.9 L78.3 169.2 L80.6 169.2 L81.8 168.5 L82.7 167.6 L84.0 166.9 L85.1 166.9 L84.5 165.8 L83.6 164.6 L81.8 163.8 L79.9 163.1"/>
<path d="M32.4 170.7 L32.9 169.7 L34.0 168.5 L35.4 166.9 L36.2 165.4 L36.6 164.2 L37.4 163.0 L38.1 161.5 L38.4 160.1 L39.6 158.6 L40.6 156.9 L41.6 155.4 L42.2 154.0 L43.1 152.9 L44.2 151.8 L45.0 150.8 L46.0 149.5"/>
<path d="M-2.3 163.1 L-1.1 162.6 L-0.0 162.2 L1.0 161.3 L2.3 160.8 L3.7 159.5 L4.5 158.1 L5.6 156.9 L6.4 156.1 L7.2 155.2 L8.3 154.0 L8.7 152.5 L8.6 151.0 L9.1 149.4 L9.0 147.9 L9.7 146.5 L10.5 144.9"/>
<path d="M-2.3 201.7 L-0.8 201.1 L0.8 200.8 L2.3 200.8 L3.8 201.0 L5.4 200.1 L7.0 199.9 L8.3 199.7 L9.8 198.7 L11.7 198.8 L13.6 198.4 L15.5 198.0 L17.3 198.2 L18.9 197.7 L20.4 197.5 L21.9 197.2 L23.4 197.2 L25.4 196.3 L26.5 195.6 L27.8 195.3 L30.1 195.2 L32.4 195.7 L34.3 195.1 L36.2 195.3 L38.0 196.0 L39.9 196.0 L41.8 195.7 L43.6 195.3 L45.5 194.6 L47.5 194.9 L49.0 194.5 L50.5 194.3 L52.0 194.4 L53.5 194.2 L55.5 194.4 L57.5 194.4 L59.6 194.6 L61.8 195.4 L63.6 195.1 L65.5 194.5 L67.0 193.4 L68.6 192.9 L70.1 192.4 L71.7 191.8 L73.2 191.7 L74.6 191.1 L75.5 190.2 L76.4 189.3 L77.9 188.3 L79.1 187.3 L81.4 186.7 L82.5 185.9 L83.6 185.1 L85.9 184.3 L87.1 183.7 L88.2 182.8 L90.5 183.0 L91.5 183.7 L92.7 184.3 L94.0 186.0 L95.7 187.3"/>
<path d="M10.5 228.3 L9.7 226.0 L9.8 223.7 L9.9 222.2 L10.6 220.9 L11.9 219.3 L12.8 217.6 L13.4 216.4 L13.7 215.1 L14.4 213.8 L15.8 212.3 L16.8 211.4 L17.8 210.4 L19.6 210.1 L21.5 210.4 L23.1 209.9 L24.9 209.3 L26.8 209.6 L28.6 210.3 L30.5 209.6 L32.4 209.3 L34.4 208.7 L36.4 208.3 L38.0 207.5 L39.9 207.0 L41.9 206.7 L43.8 206.9 L45.6 205.8 L47.5 205.5 L49.4 205.6 L51.2 205.7 L53.1 205.8 L55.0 206.3 L56.9 206.2 L58.7 206.1 L60.7 206.4 L62.5 207.0 L64.4 206.6 L66.3 206.5 L68.2 206.7 L70.1 206.3 L71.5 206.9 L73.2 207.4 L74.6 207.9 L76.1 207.8 L77.6 208.9 L79.1 209.3"/>
<path d="M30.9 229.8 L32.3 229.0 L33.7 228.9 L35.4 228.2 L36.9 228.3 L38.5 228.1 L39.9 227.8 L41.4 228.0 L42.9 228.3 L44.8 227.5 L46.8 227.2 L48.8 226.0 L50.5 225.5 L52.3 224.4 L54.4 224.0 L56.3 224.3 L58.0 223.7 L59.9 224.2 L61.8 223.9 L63.7 223.3 L65.6 223.4 L67.2 224.0 L68.6 224.0 L70.1 223.8 L71.6 224.0 L73.1 223.7 L74.6 224.0 L76.0 224.1 L77.6 224.5 L79.1 223.0"/>
<path d="M119.4 205.8 L117.3 206.4 L115.3 206.3 L113.1 205.3 L110.8 205.5 L108.5 206.1 L106.2 205.5 L104.7 205.2 L103.2 204.9 L101.7 204.9 L100.2 204.8 L98.9 204.9 L97.6 204.5 L96.3 204.5 L94.9 204.0 L94.5 202.8 L93.5 201.6 L92.2 201.0 L91.2 200.2 L91.5 198.9 L91.1 197.6 L90.8 196.2 L90.4 194.9 L91.0 193.6 L92.0 192.7 L92.6 191.7 L93.4 190.4"/>
<path d="M113.0 222.2 L111.6 222.9 L110.3 222.9 L109.0 222.6 L107.8 223.0 L105.5 222.8 L104.3 223.5 L103.2 223.7 L102.3 222.7 L101.6 221.9 L100.2 219.9 L98.6 219.9 L97.1 219.1 L95.7 219.4 L94.2 219.2 L92.7 219.3 L91.2 219.5 L89.8 220.1 L88.2 220.7 L86.1 221.3 L84.9 221.7 L83.6 222.2"/>
</g><g stroke="#000" stroke-width="0.7">
<path d="M-3.0 15.9 L-2.3 15.8 L-1.3 15.3 L-0.1 15.0 L1.0 14.3 L2.3 14.1 L3.4 13.4 L4.5 12.3 L6.3 11.3 L8.3 10.6 L10.2 10.6 L12.1 10.8 L14.1 9.8 L15.8 9.6 L17.1 9.5 L18.4 9.6 L19.7 8.8 L21.1 8.5 L22.6 8.9 L24.1 9.1 L25.5 9.0 L27.0 9.0 L27.4 7.0 L26.1 5.8 L26.8 4.9 L27.8 4.2 L29.4 3.2 L29.8 1.9 L30.3 0.5 L30.6 -0.8 L30.9 -2.1"/>
<path d="M61.0 -2.1 L60.3 -0.3 L61.2 1.2 L62.5 2.4 L61.9 3.6 L61.0 4.7 L60.3 6.1 L59.5 7.8 L58.2 8.5 L57.2 8.9 L56.1 9.1 L55.0 9.6 L53.5 9.8 L52.0 10.0 L50.5 10.3 L49.1 10.7 L47.5 11.4 L46.0 11.8 L44.4 12.4 L42.9 13.1 L44.0 14.2 L45.2 15.3 L44.5 16.1 L45.9 16.6 L47.5 16.5 L48.5 17.6 L50.3 17.2 L52.0 16.5 L53.1 16.7 L54.2 16.3 L55.4 16.0 L56.5 15.8 L57.3 17.0 L58.0 18.2 L59.9 18.1 L61.8 18.1 L63.3 17.3 L64.5 17.5 L65.6 18.1 L67.1 19.4 L69.1 20.3 L70.8 20.8 L72.9 20.0 L73.9 20.0 L75.0 19.7 L76.4 19.0 L77.9 18.4 L80.0 18.3 L81.1 18.1 L82.1 17.6 L83.6 16.6 L85.1 15.8 L84.3 16.9 L83.3 18.4 L82.3 19.0 L81.4 19.4 L79.8 20.6 L77.9 21.4 L77.7 22.5 L77.3 23.7 L76.0 23.9 L74.6 23.8 L72.5 23.7 L70.5 23.5 L69.3 23.3 L68.0 23.3 L66.8 23.2 L65.6 23.2 L64.3 23.4 L63.1 23.8 L62.0 23.5 L60.7 23.5 L60.0 24.6 L59.2 25.6 L58.1 26.0 L56.9 25.9 L55.8 26.3 L54.6 26.4 L54.5 27.9 L54.3 29.3 L53.0 30.7 L51.2 31.7 L49.9 32.7 L48.2 33.5 L47.4 34.4 L46.3 35.5 L44.6 36.9 L42.9 37.8 L41.6 38.2 L40.2 38.5 L38.6 39.5 L36.9 40.0 L36.8 40.9 L38.0 41.1 L39.2 40.8 L40.7 40.0 L42.1 40.8 L43.4 41.5 L44.5 42.5 L45.3 41.6 L46.4 41.1 L46.7 39.6 L48.6 38.8 L50.5 38.4 L51.7 37.5 L52.7 37.0 L54.4 37.0 L56.1 37.5 L57.8 36.9 L59.5 36.8 L60.7 36.2 L62.4 37.2 L64.0 37.6 L65.9 38.2 L68.0 38.5 L68.8 37.5 L69.8 36.5 L70.1 35.0 L70.7 33.8 L71.6 32.5 L72.7 32.2 L73.8 32.3 L75.0 32.1 L76.1 31.5 L77.4 31.4 L78.7 30.9 L80.4 31.3 L82.1 31.2 L83.9 32.2 L85.4 33.1 L85.9 34.0 L86.2 32.5 L87.4 32.1 L88.7 32.0 L90.0 32.3 L91.2 32.5 L93.3 32.9 L93.4 31.2 L95.0 31.1 L96.4 30.9 L98.0 31.2 L99.5 30.8 L101.4 30.2 L103.2 29.7 L104.8 29.7 L106.2 30.0 L107.8 29.9 L109.3 30.0 L110.9 30.9 L112.0 30.8 L113.1 30.7 L114.2 30.3 L115.3 29.7 L116.6 29.9 L118.0 29.7 L119.4 29.6 L120.7 29.4 L122.6 30.0 L124.3 30.2 L126.4 30.8 L127.6 30.2 L128.8 29.3 L130.2 29.1 L131.6 29.0 L133.2 28.7 L134.9 27.8 L136.1 27.7 L137.4 28.1 L137.9 26.4 L139.2 25.7 L140.6 25.5 L141.9 25.3 L143.2 24.7 L143.9 23.4 L144.1 22.3 L144.5 21.1 L142.4 20.9 L140.3 21.0 L138.3 21.2 L136.4 21.1 L135.2 20.7 L134.1 20.3 L132.6 20.2 L131.1 19.6 L129.6 19.6 L131.1 18.8 L132.4 18.8 L133.7 18.7 L135.4 18.4 L137.1 17.6 L136.8 15.6 L138.5 15.5 L140.2 14.9 L141.2 14.0 L142.1 13.4 L142.1 12.3 L143.1 11.8 L144.2 11.5 L145.4 11.0 L146.6 10.3 L146.9 8.8 L147.4 7.3 L148.1 5.9 L149.2 4.3 L149.1 3.1 L149.0 2.0 L148.4 0.6 L147.7 -0.6"/>
<path d="M99.2 31.8 L101.2 31.4 L102.2 30.8 L103.2 30.2 L104.9 30.5 L106.5 31.4 L105.2 32.8 L103.2 33.2 L101.2 32.8 L100.1 32.2 L99.2 31.8"/>
<path d="M193.6 -2.1 L193.2 -0.4 L193.0 1.2 L192.3 2.9 L191.4 4.6 L190.5 5.8 L189.2 7.1 L188.3 8.6 L187.2 10.0 L185.8 10.9 L184.6 11.8 L183.4 12.9 L182.3 14.1 L181.3 14.6 L180.3 15.0 L178.6 15.8 L179.7 16.8 L180.8 17.6 L179.7 17.5 L178.6 17.7 L177.4 17.6 L176.3 17.9 L174.5 18.7 L175.6 19.4 L177.1 20.3 L178.3 20.5 L179.7 21.1 L180.4 21.0"/>
<path d="M180.4 21.0 L181.0 21.0 L182.3 20.9 L180.7 21.0 L180.4 21.0"/>
<path d="M180.4 21.0 L179.0 21.3 L177.3 20.8 L175.6 20.9 L173.5 21.1 L172.3 21.2 L171.0 21.5 L169.9 21.9 L168.9 22.7 L166.8 23.2 L165.5 23.5 L164.2 23.8 L162.5 24.4 L161.2 25.3 L160.0 25.7 L158.7 25.9 L156.6 26.5 L154.5 26.7 L152.6 27.1 L150.7 27.3 L149.6 27.9 L148.6 28.4 L146.6 28.7 L146.6 30.8 L146.7 32.0 L147.0 33.3 L146.9 34.5 L146.3 35.8 L146.6 37.2 L147.2 38.5 L146.2 38.8 L145.0 40.0 L143.5 40.9 L141.5 41.7 L140.3 42.5 L139.1 42.9 L137.7 43.1 L136.2 43.0 L134.9 43.2 L133.4 44.0 L132.2 44.5 L130.9 44.5 L129.6 45.0 L128.4 45.5 L127.0 45.8 L125.4 46.7 L124.6 47.8 L124.0 49.1 L125.1 49.9 L126.2 50.3 L127.3 50.3 L126.3 50.6 L125.2 50.9 L123.9 51.5 L122.7 51.7 L121.5 52.3 L120.3 52.7 L119.1 52.8 L117.6 52.9 L116.3 52.6 L114.8 52.4 L113.5 51.9 L111.8 51.9 L110.2 51.7 L108.6 51.6 L107.0 51.1 L105.5 51.9 L104.5 50.1 L104.0 49.2 L103.7 48.1 L103.8 46.4 L102.4 46.4 L101.0 46.5 L99.7 46.9 L98.4 47.2 L97.3 47.1 L96.1 47.0 L94.8 46.4 L93.6 46.1 L94.3 47.4 L94.9 48.7 L95.2 50.1 L95.7 51.4 L97.3 52.7 L98.7 53.7 L98.8 55.4 L99.2 57.0 L99.0 58.2 L98.7 59.4 L99.5 60.9 L100.7 61.5 L101.7 62.3 L100.1 62.6 L98.7 62.5 L97.4 62.0 L96.2 61.8 L94.9 61.9 L93.6 62.0 L92.4 62.3 L91.2 62.3 L90.1 62.3 L88.9 62.1 L87.9 61.9 L86.2 62.1 L84.4 63.1 L83.0 63.6 L81.8 64.1 L80.7 62.9 L79.9 62.0 L78.5 61.3 L77.2 60.3 L76.1 59.0 L74.8 59.2 L73.5 59.5 L72.2 59.6 L70.8 59.7 L68.9 60.3 L69.3 61.9 L68.2 61.9 L67.0 61.9 L65.9 61.9 L64.8 61.6 L62.8 61.1 L61.5 61.4 L60.2 61.8 L58.9 61.8 L57.6 62.0 L55.5 62.2 L53.5 63.1 L52.3 63.9 L50.9 64.6 L50.9 66.7 L52.2 66.7 L53.5 67.0 L55.4 66.8 L57.3 66.4 L56.2 66.9 L55.0 67.6 L53.2 67.9 L54.3 69.6 L56.2 69.5 L58.0 69.1 L58.0 70.6 L56.5 70.8 L55.0 71.4 L53.3 71.5 L51.5 71.6 L53.0 72.0 L54.4 72.2 L55.5 73.8 L57.0 75.2 L58.6 75.2 L60.3 74.7 L61.8 74.5 L63.3 74.0 L65.3 74.4 L67.1 75.5 L68.4 75.9 L69.7 76.0 L70.9 76.4 L72.2 76.7 L73.4 77.3 L74.6 77.8 L75.2 78.8 L75.8 80.0 L76.8 79.4 L77.6 78.7 L79.1 79.2 L80.6 79.7 L82.5 79.4 L84.4 79.7 L84.2 81.3 L84.4 82.9 L85.9 83.0 L87.4 83.4 L88.5 83.2 L89.7 83.2 L91.2 83.3 L92.7 82.8 L91.4 83.8 L90.1 84.7 L91.2 85.8 L92.7 86.6 L90.8 86.8 L88.9 87.3 L90.4 88.8 L91.8 90.4 L92.6 91.0 L93.4 91.9 L94.8 93.3 L95.7 94.9 L96.8 95.0 L97.9 95.5 L99.1 95.8 L100.2 96.4 L101.3 97.3 L103.0 97.8 L104.7 97.9 L105.0 99.0 L105.5 100.0 L106.2 101.2 L107.0 102.5 L106.2 104.0 L105.5 105.6 L104.7 107.0 L105.9 107.5 L107.3 108.2 L108.8 109.8 L109.9 110.3 L110.8 110.8 L111.1 112.1 L111.4 113.4 L112.2 114.6 L112.7 115.7 L111.5 113.8 L110.0 112.6 L108.9 111.3 L108.1 110.3 L106.8 109.0 L105.9 110.3 L105.3 111.6 L105.1 113.0 L104.6 114.6 L104.7 116.1 L104.7 117.6 L104.8 118.8 L104.8 119.9 L104.6 121.1 L104.0 122.2 L105.1 122.5 L106.2 122.5 L105.3 123.3 L104.0 124.4 L103.4 125.8 L103.2 127.2 L103.0 128.5 L103.2 129.7 L102.7 131.1 L102.8 132.4 L102.5 133.8 L102.0 135.1 L101.9 136.2 L101.3 137.5 L100.9 138.4 L100.2 139.6 L99.2 140.5 L98.2 141.2 L97.1 141.5 L96.0 142.3 L94.4 142.5 L93.0 143.1 L91.8 142.9 L90.6 142.8 L89.3 143.2 L88.2 143.2 L86.6 142.6 L84.9 142.2 L83.1 142.0 L81.4 141.1 L79.4 142.0 L77.6 142.3 L75.9 142.0 L74.2 141.9 L72.6 141.7 L70.8 141.1 L68.9 140.2 L67.2 140.6 L65.6 140.8 L64.1 141.3 L62.5 141.5 L61.1 141.4 L59.5 141.9 L57.4 141.6 L55.4 142.2 L53.3 142.2 L51.2 141.6 L50.0 141.8 L48.9 141.6 L47.7 141.3 L46.6 140.8 L44.8 140.0 L42.9 139.8 L41.6 139.7 L40.2 139.8 L38.9 139.8 L37.5 139.6 L35.9 138.9 L34.7 137.9 L33.5 139.1 L31.4 139.4 L29.4 139.1 L28.1 139.3 L26.9 139.2 L25.7 139.5 L24.4 139.6 L22.5 139.4 L20.6 139.7 L18.7 140.0 L16.7 139.6 L15.1 139.1 L13.6 138.8 L12.1 138.4 L10.6 137.4 L8.8 136.4 L7.1 136.0 L5.6 135.9 L4.2 136.3 L2.8 136.9 L1.5 137.3 L0.7 138.2 L-0.1 139.1 L-1.3 139.6 L-2.3 140.4"/>
<path d="M110.8 229.8 L111.3 228.4 L111.8 227.1 L111.9 225.7 L112.6 224.2 L113.4 222.7 L114.5 220.8 L115.1 219.7 L115.6 218.6 L116.8 217.8 L118.0 216.9 L119.3 216.0 L120.9 215.7 L122.2 214.9 L123.6 214.0 L124.9 213.2 L126.3 212.6 L125.5 211.9 L124.6 210.8 L123.7 210.3 L122.5 209.9 L121.6 209.4 L120.6 208.9 L119.8 207.4 L119.4 205.8 L119.1 203.7 L118.4 202.8 L118.0 201.7 L118.9 200.3 L119.8 198.7 L120.6 197.5 L121.2 196.1 L121.9 194.8 L122.8 193.9 L124.2 192.4 L125.8 191.1 L126.8 190.3 L127.5 189.4 L128.8 187.9 L129.9 186.3 L130.9 185.0 L131.9 184.0 L133.0 183.4 L134.0 183.1 L135.9 182.5 L134.7 181.8 L133.7 181.3 L134.9 180.1 L136.6 179.0 L137.6 178.1 L138.6 177.3 L140.1 176.9 L141.7 176.6 L143.7 176.4 L145.9 176.4 L147.8 176.0 L148.8 175.2 L149.9 174.8 L151.4 174.3 L152.6 173.5 L154.2 173.3 L155.7 172.5 L156.7 172.1 L157.9 171.3 L159.7 170.4 L161.2 169.5 L162.5 168.7 L163.7 168.3 L165.0 168.1 L166.1 167.1 L167.3 166.2 L168.7 165.6 L170.0 165.4 L170.8 163.8 L171.0 162.3 L170.0 161.3 L170.3 160.3 L170.7 159.1 L171.9 158.7 L172.9 158.2 L171.6 157.3 L170.6 156.4 L169.5 155.2 L169.0 153.8 L168.6 152.5 L168.5 151.0 L168.8 149.5 L168.8 147.6 L169.9 146.4 L170.6 145.5 L171.8 145.0 L173.0 145.0 L174.2 144.2 L175.6 143.8 L177.2 142.7 L178.6 141.9 L180.4 141.2 L182.0 140.1 L183.5 139.8 L185.1 139.9 L186.2 140.4 L187.2 140.6 L188.4 140.8 L189.6 141.1 L191.0 141.9 L192.1 142.5 L194.0 142.8 L195.9 142.9 L197.4 141.6 L198.9 142.9 L200.0 142.8 L201.1 142.7 L202.2 143.3 L203.4 143.4 L205.0 144.8 L206.1 144.9 L207.2 145.4 L209.1 146.3 L211.0 147.2 L213.1 147.1 L215.2 147.5 L217.1 146.9 L218.8 146.0 L220.0 145.7 L221.2 145.7 L222.3 145.2 L223.5 144.9 L222.3 143.8 L223.5 142.5 L224.4 141.6 L226.4 140.8 L227.4 140.0 L228.6 139.6 L230.3 139.6 L231.1 138.6 L232.4 137.5 L234.1 137.2 L235.8 136.3 L238.0 136.4 L240.1 135.7 L241.9 134.8 L243.8 134.6 L245.1 133.3 L246.7 132.0 L247.7 131.0 L248.8 130.1 L249.8 129.2 L250.6 128.2 L251.7 127.8 L252.7 127.6 L253.8 126.9 L254.7 126.4 L256.0 126.4 L257.4 126.6 L259.4 127.1 L260.6 127.6 L261.6 128.2 L263.1 128.7 L264.5 128.7 L266.3 129.5 L267.3 130.3 L268.2 130.7 L269.7 131.2 L271.1 132.0 L272.5 132.3 L274.0 132.3 L275.3 133.3 L276.2 134.1 L277.1 134.8 L277.2 136.2 L277.6 137.6 L278.0 139.6 L279.0 140.4 L279.7 141.4 L280.1 142.4 L280.8 143.4 L280.6 144.5 L280.7 145.6 L281.2 146.8 L281.5 147.9 L281.1 149.0 L282.9 148.8 L284.8 149.1 L284.5 151.0 L285.6 151.5 L286.5 152.1 L287.6 152.5 L288.6 153.1 L289.5 154.3 L290.1 155.5 L290.1 157.3 L291.6 157.3 L292.4 156.6 L293.5 156.8 L294.6 157.1 L295.7 157.5 L296.9 158.2 L297.7 159.0 L298.7 159.8 L299.7 160.6 L300.3 161.7 L301.4 162.3 L302.4 163.2 L303.5 164.0 L304.4 164.6 L305.7 165.5 L307.0 166.6 L308.0 167.4 L308.8 168.2 L310.4 169.2 L311.8 170.2 L313.0 171.4 L314.0 171.9 L315.0 172.6 L316.1 172.6 L317.2 172.9 L318.5 174.0 L319.5 174.8 L321.0 174.6 L322.5 174.0 L323.7 174.3 L324.9 175.0 L326.1 175.1 L327.3 175.2 L328.7 175.2 L330.0 174.8 L330.9 175.6 L331.7 176.4 L332.7 177.9 L333.8 179.2 L334.6 180.5 L336.1 180.9 L337.6 180.7 L339.2 181.4 L340.6 182.2 L339.6 182.9 L338.8 184.0 L340.8 183.6 L342.8 183.9 L344.2 183.8 L345.4 183.2 L346.1 184.1 L347.0 185.0 L347.6 186.2 L348.6 187.3 L348.0 188.7 L347.8 189.9 L349.1 190.7 L350.3 191.1 L351.6 191.9 L353.1 192.9 L354.7 192.6 L355.0 192.5"/>
<path d="M355.0 164.1 L354.5 164.0 L353.4 163.8 L352.3 164.0 L351.2 163.9 L350.0 163.5 L348.9 163.1 L347.8 162.5 L346.8 162.0 L345.7 161.2 L344.7 160.5 L343.3 159.8 L342.2 159.2 L341.0 158.6 L339.8 157.8 L338.6 156.7 L337.1 156.0 L335.8 154.5 L335.0 153.6 L334.5 152.7 L333.7 151.8 L332.9 150.7 L332.5 149.8 L332.0 148.7 L331.6 147.4 L331.1 145.9 L330.4 144.7 L329.7 143.4 L329.2 141.6 L328.8 140.5 L328.1 139.6 L326.6 138.5 L325.3 137.7 L324.2 137.4 L323.0 136.9 L321.7 136.9 L320.8 136.1 L319.7 135.7 L318.3 134.9 L317.2 134.0 L316.1 133.7 L314.8 133.3 L313.6 132.8 L312.3 131.9 L311.3 131.1 L310.6 130.2 L308.9 129.0 L308.4 127.7 L307.9 126.4 L307.3 124.5 L307.4 122.5 L308.4 121.8 L309.7 120.7 L310.9 119.7 L311.9 118.4 L310.7 117.5 L309.7 116.9 L308.6 115.6 L307.9 114.3 L308.6 112.7 L309.2 111.3 L310.3 111.1 L311.4 110.7 L313.5 110.0 L315.1 109.6 L316.9 108.5 L318.8 107.8 L320.7 107.3 L322.6 107.1 L324.5 107.3 L325.7 106.6 L326.7 105.8 L327.7 106.3 L328.6 107.0 L330.3 107.8 L329.7 109.3 L328.5 109.7 L327.3 109.6 L326.6 111.1 L326.9 112.6 L327.6 114.1 L327.9 115.3 L328.2 116.4 L329.1 117.1 L329.8 118.1 L330.8 118.7 L331.5 119.6 L332.3 121.1 L333.8 120.4 L334.5 119.5 L335.2 118.3 L335.6 117.3 L336.4 116.4 L336.7 115.3 L337.5 114.3 L338.3 112.6 L340.4 112.6 L342.2 113.5 L343.6 114.6 L344.6 115.3 L345.7 116.2 L346.5 117.0 L347.4 117.8 L347.8 118.9 L347.9 120.0 L347.8 122.2 L348.8 123.5 L350.2 124.6 L351.1 125.6 L351.9 126.7 L353.1 127.5 L354.4 128.4 L355.0 128.8"/>
<path d="M340.6 115.4 L341.8 114.9 L342.8 114.3 L343.8 115.1 L344.5 116.0 L345.9 117.2 L344.7 117.9 L343.6 118.4 L342.4 117.7 L341.3 117.2 L340.6 115.4"/>
<path d="M338.3 115.4 L339.8 114.9 L340.2 115.9 L341.0 117.0 L341.3 119.1 L341.2 121.2 L340.9 122.3 L340.6 123.4 L339.5 124.4 L339.4 123.3 L339.4 122.2 L338.9 121.0 L338.8 119.9 L338.6 118.8 L338.8 117.6 L338.7 116.5 L338.3 115.4"/>
<path d="M344.0 119.9 L345.3 120.6 L346.6 121.4 L345.1 122.2 L344.5 121.1 L344.0 119.9"/>
<path d="M345.1 122.9 L346.5 123.6 L347.9 124.0 L349.1 125.1 L350.4 126.0 L351.0 127.0 L351.9 128.2 L350.4 127.5 L348.9 126.7 L347.9 125.7 L347.2 124.8 L346.3 124.0 L345.1 122.9"/>
<path d="M264.5 147.8 L264.8 149.3 L265.7 151.0 L265.6 152.1 L265.2 153.2 L265.8 155.3 L266.7 157.0 L266.5 158.2 L266.6 159.3 L266.9 160.5 L266.9 161.6 L266.2 162.4 L265.6 163.4 L265.0 164.3 L264.5 165.4 L264.2 166.9 L264.2 168.4 L262.7 169.2 L262.3 170.5 L261.8 171.9 L261.0 172.6 L259.8 171.9 L258.5 171.0 L256.9 170.4 L255.4 169.9 L256.0 169.0 L256.9 167.9 L255.4 167.8 L253.9 167.2 L254.3 166.0 L255.1 164.6 L253.8 164.6 L252.4 164.2 L253.4 163.0 L254.7 162.3 L253.4 161.5 L252.0 160.8 L253.0 160.0 L253.9 159.0 L252.7 158.4 L251.7 157.8 L252.4 157.0 L253.2 156.0 L254.7 154.5 L256.1 154.1 L257.4 153.4 L258.6 152.9 L260.0 152.0 L261.4 152.7 L263.0 152.8 L262.9 151.1 L263.4 149.5 L264.5 147.8"/>
<path d="M261.2 174.5 L262.8 174.7 L264.2 175.5 L265.4 176.1 L266.7 176.4 L266.3 177.9 L266.0 179.5 L267.1 178.8 L268.2 178.4 L268.9 180.2 L269.0 182.0 L269.2 183.4 L269.8 184.8 L269.1 186.8 L268.9 187.9 L268.2 188.9 L268.9 190.8 L269.3 192.6 L269.0 194.5 L268.6 196.1 L268.8 197.7 L268.3 199.3 L268.2 201.0 L268.1 202.9 L267.2 204.8 L266.8 205.9 L266.3 207.0 L264.6 206.1 L263.0 205.5 L261.6 205.6 L260.3 205.4 L259.1 207.1 L258.5 208.6 L257.2 209.6 L256.2 210.4 L254.7 210.6 L253.2 210.5 L252.2 209.9 L251.4 209.2 L249.4 208.6 L249.0 207.0 L248.7 205.5 L248.8 204.0 L249.4 202.5 L249.4 201.4 L249.6 200.3 L249.8 199.1 L250.2 197.9 L250.9 196.8 L251.4 195.7 L250.2 194.3 L249.4 192.9 L249.7 191.0 L250.2 190.0 L250.6 188.9 L249.9 187.9 L249.4 187.0 L248.8 186.1 L247.9 184.9 L245.8 184.8 L246.0 183.5 L246.5 182.2 L246.6 181.0 L246.4 179.8 L247.9 180.5 L249.4 180.7 L250.6 180.6 L251.8 180.5 L253.0 180.2 L254.2 179.6 L255.3 178.8 L256.5 178.1 L257.4 177.4 L258.5 176.4 L259.9 175.6 L261.2 174.5"/>
<path d="M275.0 151.7 L276.5 151.1 L278.0 150.5 L280.0 151.0 L278.8 152.2 L276.9 151.9 L275.0 151.7"/>
<path d="M171.2 194.0 L169.8 195.7 L170.6 196.9 L171.7 196.9 L172.8 197.2 L175.0 197.6 L174.4 199.1 L173.5 200.4 L172.4 201.5 L171.5 202.9 L170.2 203.9 L168.8 204.5 L167.3 203.1 L165.5 202.2 L164.0 201.0 L162.8 200.1 L161.8 201.0 L160.8 201.6 L159.3 200.9 L157.9 199.8 L159.4 199.0 L160.5 197.9 L161.8 197.5 L163.4 196.4 L165.2 195.5 L166.3 195.3 L167.3 194.8 L169.3 194.3 L171.2 194.0"/>
<path d="M180.1 193.1 L181.2 192.8 L182.3 192.8 L183.4 192.4 L184.6 192.3 L186.2 193.6 L187.6 194.5 L187.2 196.1 L185.2 195.4 L183.1 194.8 L181.8 194.6 L180.4 194.5 L180.1 193.1"/>
<path d="M140.9 209.0 L141.5 208.2 L142.4 207.3 L144.1 207.3 L145.9 206.9 L147.2 208.1 L145.6 209.1 L144.4 210.1 L142.4 210.8 L141.7 209.8 L140.9 209.0"/>
<path d="M143.9 212.8 L145.3 213.0 L146.6 213.6 L145.5 213.5 L144.4 213.7 L143.9 212.8"/>
<path d="M198.9 -2.1 L198.5 0.0 L198.6 2.1 L198.6 3.7 L198.9 5.2 L200.4 5.8 L201.9 6.5 L203.3 5.3 L205.0 4.0 L206.0 3.2 L207.2 2.4 L209.1 2.6 L211.0 2.4 L211.4 0.9 L211.7 -0.6 L210.2 -1.3 L208.7 -2.1"/>
<path d="M101.7 101.7 L103.0 102.6 L104.4 103.7 L104.7 105.5 L103.8 104.3 L102.8 103.5 L101.7 101.7"/>
<path d="M73.8 81.6 L75.2 82.2 L76.4 82.8 L75.3 82.9 L73.8 81.6"/>
<path d="M88.9 53.2 L90.6 53.3 L92.4 53.5 L91.9 54.4 L90.6 54.1 L89.2 54.3 L88.9 53.2"/>
<path d="M82.6 49.9 L83.7 49.7 L84.8 49.4 L84.4 50.6 L82.6 49.9"/>
<path d="M27.1 42.6 L28.2 42.9"/>
<path d="M45.5 65.0 L46.7 65.3"/>
<path d="M178.6 15.8 L179.7 16.0 L180.9 16.2 L182.0 16.2 L183.1 16.1 L185.0 16.6 L186.9 16.8 L185.0 17.1 L183.1 17.6 L182.0 17.6 L180.8 17.6"/>
<path d="M177.1 20.3 L178.2 20.5 L179.3 20.5 L180.4 20.3 L181.6 19.9 L182.8 20.1 L183.9 20.7 L185.0 20.6 L186.1 20.6 L186.9 21.1 L185.7 21.0 L184.6 21.1 L183.5 21.1 L182.3 20.9"/>
<path d="M215.5 99.4 L216.5 98.3 L217.8 96.9 L218.7 96.5 L219.8 95.9 L221.5 94.9 L222.7 95.0 L223.8 94.9 L224.9 95.2 L226.1 95.3 L227.1 96.4 L225.3 96.6 L224.2 96.3 L223.0 96.4 L221.9 96.4 L220.8 96.4 L218.8 96.9 L217.0 97.9 L215.5 99.4"/>
<path d="M258.5 77.0 L260.0 77.0 L261.5 77.3 L263.0 77.5 L264.5 78.2 L266.3 78.7 L268.2 79.4 L269.5 79.7"/>
<path d="M252.1 106.3 L252.9 104.7 L253.2 103.2 L254.2 101.6 L255.4 100.2"/>
<path d="M264.5 104.7 L263.3 103.7 L262.2 102.5 L262.7 101.4 L263.7 100.2"/>
<path d="M284.1 110.8 L283.2 109.7 L282.6 108.5 L283.5 106.6 L284.2 105.7 L284.8 104.7 L284.5 106.7 L284.4 108.5 L284.0 109.6 L284.1 110.8"/>
<path d="M223.0 90.3 L224.4 89.6 L226.1 88.5 L227.7 87.9 L229.1 87.0"/>
<path d="M311.2 5.5 L311.9 5.6"/>
<path d="M318.7 5.5 L319.5 5.6"/>
<path d="M322.5 4.4 L323.3 4.6"/>
<path d="M330.0 4.7 L330.8 4.9"/>
<path d="M338.3 10.0 L339.1 10.2"/>
<path d="M340.6 16.8 L341.3 17.0"/>
</g></g>
</defs>
<g transform="translate(141,49.25)">
<g clip-path="url(#cp)">
<g filter="url(#cm)">
<rect x="-40" y="-40" width="432" height="307.9" fill="#ffffff"/>
<path d="M-6.0 9.2 C-3.7 -12.6 4.3 7.9 8.0 7.2 C11.7 6.5 13.3 5.5 16.0 5.2 C18.7 4.9 21.3 5.0 24.0 5.2 C26.7 5.4 29.3 5.5 32.0 6.2 C34.7 6.9 37.7 8.2 40.0 9.2 C42.3 10.2 44.0 11.9 46.0 12.2 C48.0 12.5 50.0 11.5 52.0 11.2 C54.0 10.9 55.7 10.2 58.0 10.2 C60.3 10.2 63.7 11.2 66.0 11.2 C68.3 11.2 70.0 10.9 72.0 10.2 C74.0 9.5 76.3 8.4 78.0 7.2 C79.7 6.0 81.2 5.4 82.0 3.2 C82.8 1.0 70.2 -4.3 83.0 -5.8 C95.8 -7.3 146.5 -8.1 159.0 -5.8 C171.5 -3.5 159.2 4.5 158.0 8.2 C156.8 11.9 154.0 13.9 152.0 16.2 C150.0 18.5 148.0 20.2 146.0 22.2 C144.0 24.2 142.0 25.9 140.0 28.2 C138.0 30.5 136.0 33.7 134.0 36.2 C132.0 38.7 130.3 41.2 128.0 43.2 C125.7 45.2 122.3 46.4 120.0 48.2 C117.7 50.0 116.0 51.9 114.0 53.8 C112.0 55.7 110.3 57.6 108.0 59.6 C105.7 61.6 102.7 63.8 100.0 65.6 C97.3 67.4 94.7 68.9 92.0 70.6 C89.3 72.3 86.7 74.1 84.0 75.6 C81.3 77.1 78.7 78.3 76.0 79.6 C73.3 80.9 70.7 81.9 68.0 83.2 C65.3 84.5 62.7 86.0 60.0 87.2 C57.3 88.4 54.3 89.2 52.0 90.6 C49.7 92.0 48.0 93.9 46.0 95.6 C44.0 97.3 42.0 98.8 40.0 100.6 C38.0 102.4 36.0 104.3 34.0 106.6 C32.0 108.9 30.0 111.9 28.0 114.6 C26.0 117.3 24.0 120.3 22.0 122.6 C20.0 124.9 18.0 126.8 16.0 128.6 C14.0 130.4 13.7 132.0 10.0 133.6 C6.3 135.2 -3.3 158.9 -6.0 138.2 C-8.7 117.5 -8.3 31.0 -6.0 9.2Z" fill="#e6e6e6" filter="url(#b2_0)"/>
<path d="M-6.0 20.2 C-4.0 0.9 2.7 18.0 6.0 17.2 C9.3 16.4 11.3 15.2 14.0 15.2 C16.7 15.2 19.3 16.4 22.0 17.2 C24.7 18.0 27.3 20.0 30.0 20.2 C32.7 20.4 35.3 18.9 38.0 18.2 C40.7 17.5 43.3 16.4 46.0 16.2 C48.7 16.0 51.3 16.7 54.0 17.2 C56.7 17.7 59.3 18.9 62.0 19.2 C64.7 19.5 67.3 19.5 70.0 19.2 C72.7 18.9 75.7 18.0 78.0 17.2 C80.3 16.4 82.3 15.4 84.0 14.2 C85.7 13.0 87.0 11.7 88.0 10.2 C89.0 8.7 89.5 7.9 90.0 5.2 C90.5 2.5 82.3 -4.0 91.0 -5.8 C99.7 -7.6 133.7 -8.1 142.0 -5.8 C150.3 -3.5 141.8 4.2 141.0 8.2 C140.2 12.2 138.5 15.2 137.0 18.2 C135.5 21.2 133.8 23.5 132.0 26.2 C130.2 28.9 128.2 31.5 126.0 34.2 C123.8 36.9 121.3 39.7 119.0 42.2 C116.7 44.7 114.3 46.9 112.0 49.2 C109.7 51.5 107.5 53.7 105.0 55.8 C102.5 57.9 99.7 59.9 97.0 61.8 C94.3 63.7 91.7 65.5 89.0 67.2 C86.3 68.9 83.7 70.4 81.0 71.8 C78.3 73.2 75.7 74.5 73.0 75.8 C70.3 77.1 67.7 78.4 65.0 79.6 C62.3 80.8 59.8 81.8 57.0 83.2 C54.2 84.6 50.8 86.5 48.0 88.2 C45.2 89.9 42.3 91.4 40.0 93.2 C37.7 95.0 35.7 97.2 34.0 99.2 C32.3 101.2 31.5 103.0 30.0 105.2 C28.5 107.4 26.7 110.0 25.0 112.2 C23.3 114.4 22.0 116.3 20.0 118.2 C18.0 120.1 15.2 122.1 13.0 123.8 C10.8 125.5 10.2 126.6 7.0 128.2 C3.8 129.8 -3.8 151.2 -6.0 133.2 C-8.2 115.2 -8.0 39.5 -6.0 20.2Z" fill="#9e9e9e" filter="url(#b2_5)"/>
<path d="M-6.0 40.8 C-4.3 25.1 1.3 37.6 4.0 36.2 C6.7 34.8 7.7 32.9 10.0 32.2 C12.3 31.5 15.3 31.9 18.0 32.2 C20.7 32.5 23.3 33.9 26.0 33.8 C28.7 33.7 31.7 32.6 34.0 31.8 C36.3 31.0 37.7 29.7 40.0 28.8 C42.3 27.9 45.7 27.3 48.0 26.6 C50.3 25.9 52.0 25.0 54.0 24.6 C56.0 24.2 57.7 24.6 60.0 24.4 C62.3 24.2 65.3 23.8 68.0 23.4 C70.7 23.0 73.3 22.8 76.0 22.2 C78.7 21.6 81.7 20.9 84.0 20.0 C86.3 19.1 88.3 18.2 90.0 16.8 C91.7 15.4 92.7 13.4 94.0 11.6 C95.3 9.8 96.3 7.8 98.0 6.2 C99.7 4.6 102.3 4.2 104.0 2.2 C105.7 0.2 103.2 -4.5 108.0 -5.8 C112.8 -7.1 128.8 -8.1 133.0 -5.8 C137.2 -3.5 133.5 4.5 133.0 8.2 C132.5 11.9 131.2 13.9 130.0 16.2 C128.8 18.5 127.3 20.5 126.0 22.2 C124.7 23.9 123.7 24.2 122.0 26.2 C120.3 28.2 118.2 31.5 116.0 34.2 C113.8 36.9 111.5 39.5 109.0 42.2 C106.5 44.9 103.7 47.7 101.0 50.2 C98.3 52.7 95.7 55.0 93.0 57.2 C90.3 59.4 87.7 61.4 85.0 63.2 C82.3 65.0 79.7 66.4 77.0 67.8 C74.3 69.2 71.7 70.6 69.0 71.8 C66.3 73.0 63.7 74.0 61.0 75.2 C58.3 76.4 55.7 78.0 53.0 79.2 C50.3 80.4 47.7 81.3 45.0 82.6 C42.3 83.9 39.3 85.6 37.0 87.2 C34.7 88.8 32.7 90.4 31.0 92.2 C29.3 94.0 28.2 96.2 27.0 98.2 C25.8 100.2 25.2 102.2 24.0 104.2 C22.8 106.2 21.3 108.3 20.0 110.2 C18.7 112.1 17.7 114.0 16.0 115.8 C14.3 117.6 12.0 119.5 10.0 121.2 C8.0 122.9 6.7 124.7 4.0 126.2 C1.3 127.7 -4.3 144.4 -6.0 130.2 C-7.7 116.0 -7.7 56.5 -6.0 40.8Z" fill="#333333" filter="url(#b2_5)"/>
<path d="M-6.0 52.6 C-3.3 41.1 5.7 51.2 10.0 51.2 C14.3 51.2 16.7 52.5 20.0 52.6 C23.3 52.7 26.7 52.5 30.0 51.8 C33.3 51.1 36.7 49.3 40.0 48.2 C43.3 47.1 46.7 46.0 50.0 45.2 C53.3 44.4 56.7 43.7 60.0 43.2 C63.3 42.7 66.7 42.6 70.0 42.2 C73.3 41.8 77.5 40.8 80.0 40.6 C82.5 40.4 84.0 40.8 85.0 41.2 C86.0 41.6 86.3 42.4 86.0 43.2 C85.7 44.0 84.3 45.2 83.0 46.2 C81.7 47.2 79.8 48.1 78.0 49.2 C76.2 50.3 74.0 51.4 72.0 52.6 C70.0 53.8 68.0 55.1 66.0 56.2 C64.0 57.3 61.8 58.1 60.0 59.2 C58.2 60.3 56.4 61.3 55.0 62.6 C53.6 63.9 52.6 65.4 51.6 67.2 C50.6 69.0 50.4 71.2 49.0 73.2 C47.6 75.2 45.7 77.4 43.0 79.2 C40.3 81.0 36.0 82.4 33.0 84.2 C30.0 86.0 27.0 88.2 25.0 90.2 C23.0 92.2 22.1 94.2 21.0 96.2 C19.9 98.2 19.5 100.0 18.4 102.2 C17.3 104.4 15.8 107.1 14.4 109.2 C13.0 111.3 11.7 113.0 10.0 114.6 C8.3 116.2 6.7 117.7 4.0 118.6 C1.3 119.5 -4.3 131.2 -6.0 120.2 C-7.7 109.2 -8.7 64.1 -6.0 52.6Z" fill="#000000" filter="url(#b2_5)"/>
<path d="M-4.0 64.2 C-2.9 55.4 0.9 65.4 2.4 67.2 C3.9 69.0 4.7 72.4 5.0 75.2 C5.3 78.0 4.4 81.0 4.0 84.2 C3.6 87.4 2.7 90.2 2.4 94.2 C2.1 98.2 2.1 104.2 2.0 108.2 C1.9 112.2 2.6 116.2 1.6 118.2 C0.6 120.2 -3.1 129.2 -4.0 120.2 C-4.9 111.2 -5.1 73.0 -4.0 64.2Z" fill="#333333" filter="url(#b1_5)"/>
<path d="M286.0 -5.8 C273.3 -3.5 283.3 4.9 284.0 8.2 C284.7 11.5 288.3 12.2 290.0 14.2 C291.7 16.2 294.0 18.2 294.0 20.2 C294.0 22.2 290.3 24.2 290.0 26.2 C289.7 28.2 290.7 30.5 292.0 32.2 C293.3 33.9 296.3 34.9 298.0 36.2 C299.7 37.5 301.7 38.2 302.0 40.2 C302.3 42.2 299.8 45.9 300.0 48.2 C300.2 50.5 301.3 52.2 303.0 54.2 C304.7 56.2 307.8 58.2 310.0 60.2 C312.2 62.2 314.0 64.5 316.0 66.2 C318.0 67.9 319.7 68.9 322.0 70.2 C324.3 71.5 327.3 73.0 330.0 74.2 C332.7 75.4 335.3 76.4 338.0 77.2 C340.7 78.0 342.3 78.8 346.0 79.2 C349.7 79.6 357.7 94.0 360.0 79.8 C362.3 65.6 372.3 8.5 360.0 -5.8 C347.7 -20.1 298.7 -8.1 286.0 -5.8Z" fill="#b8b8b8" filter="url(#b2_5)"/>
<path d="M291.0 -5.8 C279.3 -3.5 288.9 4.8 289.6 8.2 C290.3 11.6 293.1 12.8 295.0 14.6 C296.9 16.4 300.7 17.3 301.0 19.2 C301.3 21.1 297.7 24.0 297.0 26.2 C296.3 28.4 296.2 30.4 297.0 32.2 C297.8 34.0 300.8 35.4 302.0 37.2 C303.2 39.0 304.1 41.0 304.4 43.2 C304.7 45.4 303.2 48.0 303.6 50.2 C304.0 52.4 305.3 54.2 307.0 56.2 C308.7 58.2 311.7 60.4 314.0 62.2 C316.3 64.0 318.7 65.8 321.0 67.2 C323.3 68.6 325.5 69.6 328.0 70.6 C330.5 71.6 333.0 72.3 336.0 73.2 C339.0 74.1 342.0 75.2 346.0 75.8 C350.0 76.4 357.7 90.2 360.0 76.6 C362.3 63.0 371.5 7.9 360.0 -5.8 C348.5 -19.5 302.7 -8.1 291.0 -5.8Z" fill="#808080" filter="url(#b2_3)"/>
<path d="M295.0 -5.8 C284.0 -3.5 293.3 4.7 294.0 8.2 C294.7 11.7 296.7 13.5 299.0 15.2 C301.3 16.9 304.8 17.4 308.0 18.2 C311.2 19.0 315.7 19.2 318.0 20.2 C320.3 21.2 322.3 22.7 322.0 24.2 C321.7 25.7 318.0 27.5 316.0 29.2 C314.0 30.9 311.7 32.4 310.0 34.2 C308.3 36.0 306.6 38.0 306.0 40.2 C305.4 42.4 305.6 44.9 306.4 47.2 C307.2 49.5 309.1 51.9 311.0 53.8 C312.9 55.7 315.7 57.1 318.0 58.6 C320.3 60.1 322.7 61.4 325.0 62.6 C327.3 63.8 329.5 64.8 332.0 65.8 C334.5 66.8 336.7 67.5 340.0 68.6 C343.3 69.7 348.3 71.5 351.6 72.2 C354.9 72.9 358.6 85.6 360.0 72.6 C361.4 59.6 370.8 7.3 360.0 -5.8 C349.2 -18.9 306.0 -8.1 295.0 -5.8Z" fill="#333333" filter="url(#b2_5)"/>
<path d="M338.0 -5.8 C334.0 -4.5 336.7 -0.1 336.0 2.2 C335.3 4.5 334.5 5.9 334.0 8.2 C333.5 10.5 333.7 14.2 333.0 16.2 C332.3 18.2 331.5 18.9 330.0 20.2 C328.5 21.5 326.0 22.9 324.0 24.2 C322.0 25.5 320.0 26.5 318.0 28.2 C316.0 29.9 313.5 32.2 312.0 34.2 C310.5 36.2 309.3 38.2 309.0 40.2 C308.7 42.2 309.2 44.4 310.0 46.2 C310.8 48.0 312.3 49.7 314.0 51.2 C315.7 52.7 318.0 53.9 320.0 55.2 C322.0 56.5 324.0 58.0 326.0 59.2 C328.0 60.4 329.7 61.2 332.0 62.2 C334.3 63.2 337.3 64.2 340.0 65.2 C342.7 66.2 344.7 67.4 348.0 68.2 C351.3 69.0 358.0 82.5 360.0 70.2 C362.0 57.9 363.7 6.9 360.0 -5.8 C356.3 -18.5 342.0 -7.1 338.0 -5.8Z" fill="#000000" filter="url(#b2_0)"/>
<path d="M242.6 35.6 C244.9 34.1 250.5 32.9 255.0 32.5 C259.5 32.2 265.0 33.1 269.5 33.6 C273.9 34.1 278.1 34.8 281.8 35.6 C285.6 36.5 288.4 37.9 292.2 38.7 C295.9 39.6 301.8 39.6 304.5 40.8 C307.3 42.0 309.4 44.4 308.7 46.0 C308.0 47.5 303.5 49.4 300.4 50.1 C297.3 50.8 293.2 49.7 290.1 50.1 C287.0 50.4 284.9 52.0 281.8 52.2 C278.7 52.3 274.6 51.1 271.5 51.1 C268.4 51.1 265.2 50.6 263.3 52.2 C261.4 53.7 261.6 57.5 260.2 60.4 C258.8 63.3 257.3 66.9 255.0 69.7 C252.8 72.4 249.5 74.9 246.8 76.9 C244.0 79.0 241.6 81.0 238.5 82.1 C235.4 83.1 230.6 84.0 228.2 83.1 C225.8 82.2 223.4 79.0 224.1 76.9 C224.8 74.9 229.7 73.1 232.3 70.7 C234.9 68.3 238.0 65.6 239.5 62.5 C241.1 59.4 241.3 55.6 241.6 52.2 C241.9 48.7 241.4 44.6 241.6 41.8 C241.8 39.1 240.4 37.2 242.6 35.6Z" fill="#bfbfbf" filter="url(#b2_2)"/>
<path d="M246.8 39.8 C248.7 38.2 253.3 37.0 257.1 36.7 C260.9 36.4 265.7 37.4 269.5 38.1 C273.2 38.8 277.4 39.8 279.8 40.8 C282.2 41.8 284.3 42.8 283.9 43.9 C283.6 45.0 280.1 46.9 277.7 47.6 C275.3 48.3 272.2 47.8 269.5 48.0 C266.7 48.3 263.3 47.9 261.2 49.1 C259.1 50.3 258.5 52.7 257.1 55.2 C255.7 57.8 254.7 61.8 253.0 64.5 C251.2 67.3 249.2 69.5 246.8 71.8 C244.4 74.0 241.1 76.7 238.5 77.9 C235.9 79.2 232.0 79.8 231.3 79.0 C230.6 78.1 232.7 75.0 234.4 72.8 C236.1 70.6 239.8 68.3 241.6 65.6 C243.4 62.8 244.4 59.5 245.1 56.3 C245.8 53.0 245.5 48.7 245.7 46.0 C246.0 43.2 244.9 41.3 246.8 39.8Z" fill="#808080" filter="url(#b2_0)"/>
<path d="M250.9 41.8 C251.7 40.6 256.0 39.9 259.1 39.8 C262.2 39.7 266.9 40.5 269.5 41.2 C272.0 41.9 274.8 43.1 274.6 43.9 C274.4 44.7 270.8 45.5 268.4 46.0 C266.0 46.4 262.6 46.2 260.2 46.4 C257.8 46.5 255.5 47.8 254.0 47.0 C252.4 46.2 250.0 43.0 250.9 41.8Z" fill="#333333" filter="url(#b1_8)"/>
<path d="M160.0 148.0 C160.5 144.8 159.0 138.3 159.0 134.0 C159.0 129.7 158.8 125.2 160.0 122.0 C161.2 118.8 163.7 117.2 166.0 115.0 C168.3 112.8 171.8 111.5 174.0 109.0 C176.2 106.5 177.3 103.2 179.0 100.0 C180.7 96.8 182.2 92.7 184.0 90.0 C185.8 87.3 187.7 85.8 190.0 84.0 C192.3 82.2 195.3 80.7 198.0 79.0 C200.7 77.3 203.3 75.5 206.0 74.0 C208.7 72.5 211.0 71.2 214.0 70.0 C217.0 68.8 220.7 67.7 224.0 67.0 C227.3 66.3 230.7 66.2 234.0 66.0 C237.3 65.8 240.7 65.5 244.0 66.0 C247.3 66.5 250.7 67.8 254.0 69.0 C257.3 70.2 261.0 71.3 264.0 73.0 C267.0 74.7 269.5 76.7 272.0 79.0 C274.5 81.3 277.0 84.2 279.0 87.0 C281.0 89.8 282.5 92.8 284.0 96.0 C285.5 99.2 285.7 103.2 288.0 106.0 C290.3 108.8 284.3 111.8 298.0 113.0 C311.7 114.2 358.0 90.2 370.0 113.0 C382.0 135.8 417.8 227.2 370.0 250.0 C322.2 272.8 130.8 253.5 83.0 250.0 C35.2 246.5 82.5 234.0 83.0 229.0 C83.5 224.0 84.8 222.5 86.0 220.0 C87.2 217.5 88.2 215.7 90.0 214.0 C91.8 212.3 96.5 211.8 97.0 210.0 C97.5 208.2 93.8 205.8 93.0 203.0 C92.2 200.2 91.3 195.8 92.0 193.0 C92.7 190.2 94.0 187.7 97.0 186.0 C100.0 184.3 105.2 183.5 110.0 183.0 C114.8 182.5 122.2 183.3 126.0 183.0 C129.8 182.7 131.7 182.5 133.0 181.0 C134.3 179.5 135.2 175.5 134.0 174.0 C132.8 172.5 129.3 172.7 126.0 172.0 C122.7 171.3 117.7 170.7 114.0 170.0 C110.3 169.3 107.0 168.8 104.0 168.0 C101.0 167.2 97.7 166.8 96.0 165.0 C94.3 163.2 95.3 159.5 94.0 157.0 C92.7 154.5 89.3 151.7 88.0 150.0 C86.7 148.3 85.0 148.0 86.0 147.0 C87.0 146.0 91.0 144.2 94.0 144.0 C97.0 143.8 100.7 145.0 104.0 146.0 C107.3 147.0 110.3 149.0 114.0 150.0 C117.7 151.0 122.7 151.5 126.0 152.0 C129.3 152.5 131.3 152.7 134.0 153.0 C136.7 153.3 139.3 153.8 142.0 154.0 C144.7 154.2 147.7 154.2 150.0 154.0 C152.3 153.8 154.3 154.0 156.0 153.0 C157.7 152.0 159.5 151.2 160.0 148.0Z" fill="#bfbfbf" filter="url(#b2_5)"/>
<path d="M165.0 148.0 C165.3 145.0 164.0 138.0 164.0 134.0 C164.0 130.0 164.0 126.7 165.0 124.0 C166.0 121.3 167.8 120.0 170.0 118.0 C172.2 116.0 175.8 114.5 178.0 112.0 C180.2 109.5 181.3 106.2 183.0 103.0 C184.7 99.8 186.2 95.7 188.0 93.0 C189.8 90.3 191.7 88.8 194.0 87.0 C196.3 85.2 199.3 83.7 202.0 82.0 C204.7 80.3 207.3 78.5 210.0 77.0 C212.7 75.5 215.0 74.0 218.0 73.0 C221.0 72.0 224.7 71.5 228.0 71.0 C231.3 70.5 234.7 70.0 238.0 70.0 C241.3 70.0 245.0 70.3 248.0 71.0 C251.0 71.7 253.3 72.8 256.0 74.0 C258.7 75.2 261.7 76.3 264.0 78.0 C266.3 79.7 268.2 81.8 270.0 84.0 C271.8 86.2 273.5 88.5 275.0 91.0 C276.5 93.5 277.7 96.2 279.0 99.0 C280.3 101.8 280.2 105.2 283.0 108.0 C285.8 110.8 281.5 114.7 296.0 116.0 C310.5 117.3 357.7 93.7 370.0 116.0 C382.3 138.3 417.3 227.7 370.0 250.0 C322.7 272.3 133.3 253.5 86.0 250.0 C38.7 246.5 85.5 233.8 86.0 229.0 C86.5 224.2 87.8 223.2 89.0 221.0 C90.2 218.8 91.2 217.7 93.0 216.0 C94.8 214.3 99.5 213.2 100.0 211.0 C100.5 208.8 96.8 205.8 96.0 203.0 C95.2 200.2 94.3 196.5 95.0 194.0 C95.7 191.5 97.3 189.4 100.0 188.0 C102.7 186.6 106.7 185.9 111.0 185.5 C115.3 185.1 121.8 185.9 126.0 185.5 C130.2 185.1 134.2 185.1 136.0 183.0 C137.8 180.9 138.7 175.2 137.0 173.0 C135.3 170.8 129.8 170.5 126.0 169.5 C122.2 168.5 117.5 167.8 114.0 167.0 C110.5 166.2 107.5 166.0 105.0 165.0 C102.5 164.0 100.2 162.7 99.0 161.0 C97.8 159.3 97.2 156.8 98.0 155.0 C98.8 153.2 101.3 150.3 104.0 150.0 C106.7 149.7 110.3 152.2 114.0 153.0 C117.7 153.8 122.7 154.5 126.0 155.0 C129.3 155.5 131.3 155.7 134.0 156.0 C136.7 156.3 139.3 156.8 142.0 157.0 C144.7 157.2 147.3 157.2 150.0 157.0 C152.7 156.8 156.0 156.8 158.0 156.0 C160.0 155.2 160.8 153.3 162.0 152.0 C163.2 150.7 164.7 151.0 165.0 148.0Z" fill="#404040" filter="url(#b2_0)"/>
<path d="M168.0 145.0 C168.5 141.3 168.3 135.0 169.0 131.0 C169.7 127.0 169.8 123.0 172.0 121.0 C174.2 119.0 178.3 120.7 182.0 119.0 C185.7 117.3 191.7 114.0 194.0 111.0 C196.3 108.0 194.7 103.0 196.0 101.0 C197.3 99.0 199.7 99.7 202.0 99.0 C204.3 98.3 207.3 97.7 210.0 97.0 C212.7 96.3 215.3 96.0 218.0 95.0 C220.7 94.0 223.7 92.3 226.0 91.0 C228.3 89.7 229.7 88.2 232.0 87.0 C234.3 85.8 237.3 84.5 240.0 84.0 C242.7 83.5 245.3 83.7 248.0 84.0 C250.7 84.3 253.7 85.0 256.0 86.0 C258.3 87.0 260.0 88.3 262.0 90.0 C264.0 91.7 266.3 93.7 268.0 96.0 C269.7 98.3 270.7 101.3 272.0 104.0 C273.3 106.7 273.0 109.5 276.0 112.0 C279.0 114.5 274.3 117.8 290.0 119.0 C305.7 120.2 356.7 97.2 370.0 119.0 C383.3 140.8 417.0 228.2 370.0 250.0 C323.0 271.8 135.0 253.5 88.0 250.0 C41.0 246.5 87.5 233.8 88.0 229.0 C88.5 224.2 89.8 223.3 91.0 221.0 C92.2 218.7 93.0 216.8 95.0 215.0 C97.0 213.2 102.3 212.2 103.0 210.0 C103.7 207.8 99.8 204.7 99.0 202.0 C98.2 199.3 97.5 196.2 98.0 194.0 C98.5 191.8 99.7 190.2 102.0 189.0 C104.3 187.8 108.0 187.3 112.0 187.0 C116.0 186.7 121.7 187.2 126.0 187.0 C130.3 186.8 135.5 188.3 138.0 186.0 C140.5 183.7 142.0 176.2 141.0 173.0 C140.0 169.8 135.2 168.2 132.0 167.0 C128.8 165.8 125.3 166.8 122.0 166.0 C118.7 165.2 114.3 163.3 112.0 162.0 C109.7 160.7 107.7 158.9 108.0 158.0 C108.3 157.1 111.0 156.5 114.0 156.5 C117.0 156.5 122.7 157.6 126.0 158.0 C129.3 158.4 131.3 158.7 134.0 159.0 C136.7 159.3 139.3 159.8 142.0 160.0 C144.7 160.2 147.0 160.3 150.0 160.0 C153.0 159.7 157.3 159.2 160.0 158.0 C162.7 156.8 164.7 155.2 166.0 153.0 C167.3 150.8 167.5 148.7 168.0 145.0Z" fill="#000000" filter="url(#b2_0)"/>
<path d="M275.0 98.0 C271.3 99.3 273.2 105.0 273.0 108.0 C272.8 111.0 275.0 113.7 274.0 116.0 C273.0 118.3 269.7 120.7 267.0 122.0 C264.3 123.3 260.7 123.0 258.0 124.0 C255.3 125.0 252.2 125.7 251.0 128.0 C249.8 130.3 250.4 134.7 251.0 138.0 C251.6 141.3 253.0 144.6 254.5 148.0 C256.0 151.4 258.2 155.2 260.0 158.5 C261.8 161.8 263.7 164.9 265.0 168.0 C266.3 171.1 266.5 174.0 268.0 177.0 C269.5 180.0 271.2 183.7 274.0 186.0 C276.8 188.3 280.8 189.9 285.0 190.7 C289.2 191.5 294.7 191.3 299.0 190.7 C303.3 190.1 307.2 188.3 311.0 187.0 C314.8 185.7 318.7 184.1 322.0 182.6 C325.3 181.1 328.3 179.3 331.0 178.0 C333.7 176.7 336.0 175.9 338.0 174.6 C340.0 173.3 342.8 171.9 343.0 170.0 C343.2 168.1 341.0 165.3 339.4 163.0 C337.8 160.7 335.0 158.7 333.6 156.0 C332.2 153.3 331.5 149.3 331.3 147.0 C331.1 144.7 331.6 142.4 332.5 142.0 C333.4 141.6 335.2 143.8 337.0 144.5 C338.8 145.2 341.0 146.2 343.0 146.0 C345.0 145.8 347.3 144.5 349.0 143.0 C350.7 141.5 350.8 138.3 353.0 137.0 C355.2 135.7 360.5 142.5 362.0 135.0 C363.5 127.5 365.7 99.8 362.0 92.0 C358.3 84.2 346.2 88.0 340.0 88.0 C333.8 88.0 330.0 90.0 325.0 92.0 C320.0 94.0 315.0 98.7 310.0 100.0 C305.0 101.3 300.8 100.3 295.0 100.0 C289.2 99.7 278.7 96.7 275.0 98.0Z" fill="#333333" filter="url(#b2_0)"/>
<path d="M278.0 98.0 C274.8 99.5 276.1 104.9 276.0 108.0 C275.9 111.1 278.4 114.0 277.5 116.5 C276.6 119.0 273.2 121.4 270.5 123.0 C267.8 124.6 263.7 125.0 261.0 126.0 C258.3 127.0 255.7 127.0 254.5 129.0 C253.3 131.0 253.5 134.9 254.0 138.0 C254.5 141.1 256.0 144.2 257.5 147.5 C259.0 150.8 261.2 154.2 263.0 157.5 C264.8 160.8 266.7 163.9 268.0 167.0 C269.3 170.1 269.7 173.2 271.0 176.0 C272.3 178.8 273.4 182.2 276.0 184.0 C278.6 185.8 282.7 186.6 286.5 187.0 C290.3 187.4 295.1 187.2 299.0 186.5 C302.9 185.8 306.5 184.3 310.0 183.0 C313.5 181.7 317.0 180.0 320.0 178.5 C323.0 177.0 325.7 175.4 328.0 174.0 C330.3 172.6 332.5 171.3 334.0 170.0 C335.5 168.7 337.2 167.7 337.0 166.0 C336.8 164.3 334.3 162.0 333.0 160.0 C331.7 158.0 330.0 156.2 329.0 154.0 C328.0 151.8 326.8 149.5 327.0 147.0 C327.2 144.5 328.5 140.5 330.0 139.0 C331.5 137.5 333.8 138.0 336.0 138.0 C338.2 138.0 340.8 139.5 343.0 139.0 C345.2 138.5 347.3 136.8 349.0 135.0 C350.7 133.2 351.8 131.3 353.0 128.0 C354.2 124.7 355.8 119.7 356.0 115.0 C356.2 110.3 355.8 103.7 354.0 100.0 C352.2 96.3 349.0 94.2 345.0 93.0 C341.0 91.8 335.5 92.2 330.0 93.0 C324.5 93.8 317.8 97.0 312.0 98.0 C306.2 99.0 300.7 99.0 295.0 99.0 C289.3 99.0 281.2 96.5 278.0 98.0Z" fill="#999999" filter="url(#b2_0)"/>
<path d="M281.0 99.0 C278.1 100.7 278.3 104.5 278.6 108.0 C278.9 111.5 283.3 117.2 283.0 120.0 C282.7 122.8 279.0 123.8 277.0 124.5 C275.0 125.2 273.1 123.9 271.0 124.2 C268.9 124.5 266.2 125.5 264.5 126.5 C262.8 127.5 261.0 128.9 260.5 130.5 C260.0 132.1 260.7 134.1 261.3 136.0 C261.9 137.9 263.0 140.1 264.3 142.2 C265.6 144.2 268.0 146.3 269.4 148.3 C270.8 150.3 271.5 152.2 272.4 154.4 C273.2 156.6 274.0 159.1 274.5 161.5 C275.0 163.9 275.2 166.4 275.5 168.6 C275.8 170.8 275.8 172.8 276.5 174.7 C277.2 176.5 278.1 178.3 279.5 179.7 C280.9 181.0 282.4 182.1 284.6 182.8 C286.8 183.5 290.0 184.0 292.7 183.8 C295.4 183.6 298.2 182.6 300.8 181.8 C303.4 181.0 305.6 180.4 308.4 179.2 C311.2 178.0 314.9 176.1 317.6 174.6 C320.3 173.1 322.6 171.5 324.5 170.0 C326.4 168.5 328.6 167.7 329.0 165.4 C329.4 163.1 327.6 159.4 326.8 156.3 C326.1 153.2 324.5 150.1 324.5 147.0 C324.5 143.9 325.7 140.7 326.8 138.0 C327.9 135.3 329.0 132.9 331.3 131.0 C333.6 129.1 337.8 128.3 340.5 126.4 C343.2 124.5 345.9 122.2 347.4 119.5 C348.9 116.8 349.7 113.3 349.7 110.3 C349.7 107.2 348.5 103.9 347.4 101.2 C346.2 98.5 344.7 96.0 342.8 94.3 C340.9 92.6 339.5 91.2 336.0 90.8 C332.5 90.4 326.3 90.8 322.0 92.0 C317.7 93.2 314.3 97.0 310.0 98.0 C305.7 99.0 300.8 97.8 296.0 98.0 C291.2 98.2 283.9 97.3 281.0 99.0Z" fill="#ffffff" filter="url(#b1_5)"/>
<path d="M265.0 84.0 C266.0 82.3 269.7 81.7 272.0 82.0 C274.3 82.3 277.8 84.0 279.0 86.0 C280.2 88.0 280.2 92.2 279.0 94.0 C277.8 95.8 274.2 97.3 272.0 97.0 C269.8 96.7 267.2 94.2 266.0 92.0 C264.8 89.8 264.0 85.7 265.0 84.0Z" fill="#8c8c8c" filter="url(#b1_8)"/>
<path d="M288.0 88.0 C289.2 86.3 293.2 85.0 296.0 85.0 C298.8 85.0 302.3 87.0 305.0 88.0 C307.7 89.0 309.5 90.3 312.0 91.0 C314.5 91.7 318.5 90.8 320.0 92.0 C321.5 93.2 322.3 96.8 321.0 98.0 C319.7 99.2 315.0 99.2 312.0 99.0 C309.0 98.8 305.7 97.3 303.0 97.0 C300.3 96.7 298.3 97.3 296.0 97.0 C293.7 96.7 290.3 96.5 289.0 95.0 C287.7 93.5 286.8 89.7 288.0 88.0Z" fill="#808080" filter="url(#b1_8)"/>
<path d="M292.0 90.0 C292.8 89.1 296.2 88.3 298.0 88.5 C299.8 88.7 302.8 89.9 303.0 91.0 C303.2 92.1 300.7 94.5 299.0 95.0 C297.3 95.5 294.2 94.8 293.0 94.0 C291.8 93.2 291.2 90.9 292.0 90.0Z" fill="#1a1a1a" filter="url(#b1_4)"/>
<path d="M360.0 72.2 C357.7 67.5 350.3 74.9 346.0 76.2 C341.7 77.5 337.3 78.8 334.0 80.2 C330.7 81.6 327.9 83.0 326.0 84.6 C324.1 86.2 322.3 87.9 322.4 89.8 C322.5 91.7 324.1 94.4 326.4 96.2 C328.7 98.0 332.7 99.4 336.0 100.6 C339.3 101.8 342.0 102.6 346.0 103.2 C350.0 103.8 357.7 109.4 360.0 104.2 C362.3 99.0 362.3 76.9 360.0 72.2Z" fill="#b8b8b8" filter="url(#b2_0)"/>
<path d="M360.0 76.2 C356.7 72.4 345.0 78.0 340.0 79.2 C335.0 80.4 332.3 81.5 330.0 83.2 C327.7 84.9 326.4 87.3 326.4 89.2 C326.4 91.1 328.1 93.2 330.0 94.6 C331.9 96.0 335.3 96.9 338.0 97.8 C340.7 98.7 342.3 99.1 346.0 99.8 C349.7 100.5 357.7 105.7 360.0 101.8 C362.3 97.9 363.3 80.0 360.0 76.2Z" fill="#333333" filter="url(#b1_8)"/>
<path d="M360.0 81.2 C357.0 79.4 346.3 83.2 342.0 84.2 C337.7 85.2 335.7 86.2 334.0 87.2 C332.3 88.2 331.7 89.2 332.0 90.2 C332.3 91.2 334.0 92.5 336.0 93.2 C338.0 93.9 340.0 94.3 344.0 94.6 C348.0 94.9 357.3 97.4 360.0 95.2 C362.7 93.0 363.0 83.0 360.0 81.2Z" fill="#000000" filter="url(#b1_5)"/>
<path d="M-6.0 136.6 C-3.7 131.3 4.3 139.1 8.0 140.2 C11.7 141.3 13.0 142.9 16.0 143.2 C19.0 143.5 22.7 142.5 26.0 142.2 C29.3 141.9 32.7 141.4 36.0 141.2 C39.3 141.0 42.7 141.0 46.0 141.2 C49.3 141.4 53.3 141.4 56.0 142.2 C58.7 143.0 61.7 144.7 62.0 146.2 C62.3 147.7 60.0 150.2 58.0 151.2 C56.0 152.2 52.7 151.9 50.0 152.2 C47.3 152.5 44.3 152.4 42.0 153.2 C39.7 154.0 38.0 155.9 36.0 157.2 C34.0 158.5 32.3 160.2 30.0 161.2 C27.7 162.2 24.7 163.0 22.0 163.2 C19.3 163.4 16.3 161.7 14.0 162.2 C11.7 162.7 10.3 165.0 8.0 166.2 C5.7 167.4 2.3 168.2 0.0 169.2 C-2.3 170.2 -5.0 177.6 -6.0 172.2 C-7.0 166.8 -8.3 141.9 -6.0 136.6Z" fill="#b8b8b8" filter="url(#b2_0)"/>
<path d="M-6.0 144.2 C-4.0 140.9 2.3 145.5 6.0 146.2 C9.7 146.9 12.7 148.1 16.0 148.2 C19.3 148.3 22.3 147.2 26.0 146.6 C29.7 146.0 34.0 145.0 38.0 144.6 C42.0 144.2 46.8 143.9 50.0 144.2 C53.2 144.5 56.8 145.7 57.0 146.6 C57.2 147.5 53.8 148.7 51.0 149.4 C48.2 150.1 43.2 149.7 40.0 150.6 C36.8 151.5 34.3 153.3 32.0 154.6 C29.7 155.9 28.2 157.5 26.0 158.2 C23.8 158.9 21.3 158.4 19.0 158.6 C16.7 158.8 14.2 158.4 12.0 159.2 C9.8 160.0 9.0 162.0 6.0 163.2 C3.0 164.4 -4.0 169.4 -6.0 166.2 C-8.0 163.0 -8.0 147.5 -6.0 144.2Z" fill="#404040" filter="url(#b2_0)"/>
<path d="M18.0 151.2 C19.7 150.2 24.3 149.4 28.0 148.6 C31.7 147.8 36.3 147.0 40.0 146.6 C43.7 146.2 47.9 145.9 50.0 146.0 C52.1 146.1 52.7 147.0 52.4 147.4 C52.1 147.8 50.4 148.2 48.0 148.6 C45.6 149.0 41.0 148.9 38.0 149.8 C35.0 150.7 32.5 152.7 30.0 153.8 C27.5 154.9 25.0 156.1 23.0 156.2 C21.0 156.3 18.8 155.4 18.0 154.6 C17.2 153.8 16.3 152.2 18.0 151.2Z" fill="#0d0d0d" filter="url(#b1_5)"/>
<path d="M33.0 190.8 C34.3 189.4 38.8 186.7 42.0 185.2 C45.2 183.7 48.8 183.0 52.0 181.8 C55.2 180.6 58.0 179.4 61.0 178.2 C64.0 177.0 66.8 176.0 70.0 174.8 C73.2 173.6 77.0 172.1 80.0 171.2 C83.0 170.3 86.2 169.3 88.0 169.6 C89.8 169.9 91.3 171.9 91.0 173.2 C90.7 174.5 88.0 176.0 86.0 177.2 C84.0 178.4 81.3 179.0 79.0 180.2 C76.7 181.4 74.5 183.1 72.0 184.2 C69.5 185.3 66.7 186.1 64.0 186.8 C61.3 187.5 58.7 187.6 56.0 188.2 C53.3 188.8 50.7 189.4 48.0 190.2 C45.3 191.0 42.3 192.6 40.0 193.2 C37.7 193.8 35.2 194.2 34.0 193.8 C32.8 193.4 31.7 192.2 33.0 190.8Z" fill="#b8b8b8" filter="url(#b2_0)"/>
<path d="M39.0 190.2 C39.5 189.5 43.3 187.4 46.0 186.2 C48.7 185.0 52.2 184.3 55.0 183.2 C57.8 182.1 60.3 180.7 63.0 179.6 C65.7 178.5 68.2 177.4 71.0 176.4 C73.8 175.4 77.5 174.1 80.0 173.6 C82.5 173.1 85.7 172.7 86.0 173.2 C86.3 173.7 83.8 175.7 82.0 176.8 C80.2 177.9 77.2 178.5 75.0 179.6 C72.8 180.7 71.5 182.3 69.0 183.2 C66.5 184.1 63.0 184.6 60.0 185.2 C57.0 185.8 53.8 186.0 51.0 186.8 C48.2 187.6 45.0 189.6 43.0 190.2 C41.0 190.8 38.5 190.9 39.0 190.2Z" fill="#333333" filter="url(#b1_8)"/>
<path d="M61.0 182.2 C61.3 181.5 64.0 179.9 66.0 179.2 C68.0 178.5 71.6 177.7 73.0 177.8 C74.4 177.9 74.9 178.9 74.4 179.6 C73.9 180.3 71.7 181.5 70.0 182.2 C68.3 182.9 65.5 183.6 64.0 183.6 C62.5 183.6 60.7 182.9 61.0 182.2Z" fill="#000000" filter="url(#b1_2)"/>
<path d="M2.0 188.2 C2.5 187.0 5.7 185.6 8.0 184.8 C10.3 184.0 13.3 183.5 16.0 183.2 C18.7 182.9 21.5 182.8 24.0 183.2 C26.5 183.6 30.3 184.7 31.0 185.8 C31.7 186.9 29.8 188.8 28.0 189.6 C26.2 190.4 22.7 190.5 20.0 190.8 C17.3 191.1 14.5 191.4 12.0 191.6 C9.5 191.8 6.7 192.8 5.0 192.2 C3.3 191.6 1.5 189.4 2.0 188.2Z" fill="#b8b8b8" filter="url(#b2_0)"/>
<path d="M6.0 188.2 C6.7 187.5 9.7 186.3 12.0 185.8 C14.3 185.3 17.5 185.0 20.0 185.2 C22.5 185.4 26.7 186.2 27.0 186.8 C27.3 187.4 24.2 188.3 22.0 188.8 C19.8 189.3 16.3 189.4 14.0 189.6 C11.7 189.8 9.3 190.4 8.0 190.2 C6.7 190.0 5.3 188.9 6.0 188.2Z" fill="#808080" filter="url(#b1_8)"/>
<path d="M74.4 159.2 C75.4 157.8 79.2 155.7 82.0 155.6 C84.8 155.5 88.8 157.2 91.0 158.8 C93.2 160.4 95.3 163.4 95.0 165.2 C94.7 167.0 91.5 169.2 89.0 169.6 C86.5 170.0 82.2 168.5 80.0 167.6 C77.8 166.7 76.9 165.6 76.0 164.2 C75.1 162.8 73.4 160.6 74.4 159.2Z" fill="#b8b8b8" filter="url(#b2_0)"/>
<path d="M78.0 160.2 C78.3 159.0 81.2 158.0 83.0 158.2 C84.8 158.4 87.7 160.0 89.0 161.2 C90.3 162.4 91.3 164.3 91.0 165.2 C90.7 166.1 88.7 166.8 87.0 166.8 C85.3 166.8 82.5 166.3 81.0 165.2 C79.5 164.1 77.7 161.4 78.0 160.2Z" fill="#404040" filter="url(#b1_8)"/>
<path d="M220.0 101.2 C221.0 99.4 225.0 98.6 228.0 98.2 C231.0 97.8 235.0 98.1 238.0 98.6 C241.0 99.1 245.0 99.8 246.0 101.2 C247.0 102.6 245.7 105.7 244.0 107.2 C242.3 108.7 238.7 109.4 236.0 110.2 C233.3 111.0 230.3 112.4 228.0 112.2 C225.7 112.0 223.3 111.0 222.0 109.2 C220.7 107.4 219.0 103.0 220.0 101.2Z" fill="#4c4c4c" filter="url(#b2_0)"/>
<path d="M223.0 105.2 C223.3 104.1 227.5 102.9 229.0 103.2 C230.5 103.5 232.3 106.1 232.0 107.2 C231.7 108.3 228.5 110.1 227.0 109.8 C225.5 109.5 222.7 106.3 223.0 105.2Z" fill="#8c8c8c" filter="url(#b1_5)"/>
<path d="M212.4 114.2 C213.4 112.7 217.4 111.9 220.0 112.2 C222.6 112.5 225.7 114.7 228.0 116.2 C230.3 117.7 233.3 119.4 234.0 121.2 C234.7 123.0 233.5 126.0 232.0 127.2 C230.5 128.4 227.2 128.9 225.0 128.6 C222.8 128.3 220.8 126.4 219.0 125.2 C217.2 124.0 215.1 123.0 214.0 121.2 C212.9 119.4 211.4 115.7 212.4 114.2Z" fill="#4c4c4c" filter="url(#b2_0)"/>
<path d="M215.0 116.2 C215.3 115.2 218.0 114.5 219.0 115.2 C220.0 115.9 221.3 119.2 221.0 120.2 C220.7 121.2 218.0 121.9 217.0 121.2 C216.0 120.5 214.7 117.2 215.0 116.2Z" fill="#8c8c8c" filter="url(#b1_5)"/>
<path d="M224.0 120.2 C224.7 119.3 228.8 119.1 230.0 119.8 C231.2 120.5 231.7 123.3 231.0 124.2 C230.3 125.1 227.2 125.9 226.0 125.2 C224.8 124.5 223.3 121.1 224.0 120.2Z" fill="#8c8c8c" filter="url(#b1_5)"/>
</g>
<use href="#ln"/>
<text class="wm" x="181.9" y="205.6" textLength="21.6" lengthAdjust="spacing">from</text>
<text class="wm" x="207.2" y="205.6" textLength="17.9" lengthAdjust="spacing">grib</text>
<text class="wm" x="228.7" y="205.6" textLength="18.8" lengthAdjust="spacing">files</text>
<text class="wm" x="251.1" y="205.6" textLength="41.2" lengthAdjust="spacing">provided</text>
<text class="wm" x="295.9" y="205.6" textLength="11.0" lengthAdjust="spacing">by</text>
<text class="wm" x="310.5" y="205.6" textLength="35.0" lengthAdjust="spacing">ECMWF</text>
<text class="wm" x="240.4" y="223.9" textLength="32.4" lengthAdjust="spacing">©2025</text>
<text class="wm" x="276.3" y="223.9" textLength="68.8" lengthAdjust="spacing">sb@irizone.net</text>
</g>
<rect x="0" y="0" width="352" height="227.9" fill="none" stroke="#000" stroke-width="1"/>
</g>
<rect x="158.60" y="35.90" width="35.30" height="7.2" fill="rgb(255,250,5)"/>
<rect x="193.80" y="35.90" width="35.30" height="7.2" fill="rgb(255,208,5)"/>
<rect x="229.00" y="35.90" width="35.30" height="7.2" fill="rgb(255,165,10)"/>
<rect x="264.20" y="35.90" width="35.30" height="7.2" fill="rgb(255,135,10)"/>
<rect x="299.40" y="35.90" width="35.30" height="7.2" fill="rgb(255,95,10)"/>
<rect x="334.60" y="35.90" width="35.30" height="7.2" fill="rgb(245,28,14)"/>
<rect x="369.80" y="35.90" width="35.30" height="7.2" fill="rgb(208,8,8)"/>
<rect x="405.00" y="35.90" width="35.30" height="7.2" fill="rgb(158,4,4)"/>
<rect x="440.20" y="35.90" width="35.30" height="7.2" fill="rgb(108,2,2)"/>
<line x1="193.80" y1="35.90" x2="193.80" y2="43.10" stroke="#000" stroke-width="0.8"/>
<line x1="229.00" y1="35.90" x2="229.00" y2="43.10" stroke="#000" stroke-width="0.8"/>
<line x1="264.20" y1="35.90" x2="264.20" y2="43.10" stroke="#000" stroke-width="0.8"/>
<line x1="299.40" y1="35.90" x2="299.40" y2="43.10" stroke="#000" stroke-width="0.8"/>
<line x1="334.60" y1="35.90" x2="334.60" y2="43.10" stroke="#000" stroke-width="0.8"/>
<line x1="369.80" y1="35.90" x2="369.80" y2="43.10" stroke="#000" stroke-width="0.8"/>
<line x1="405.00" y1="35.90" x2="405.00" y2="43.10" stroke="#000" stroke-width="0.8"/>
<line x1="440.20" y1="35.90" x2="440.20" y2="43.10" stroke="#000" stroke-width="0.8"/>
<rect x="158.60" y="35.90" width="316.8" height="7.2" fill="none" stroke="#000" stroke-width="0.9"/>
<g transform="translate(141,317.85)">
<g clip-path="url(#cp)">
<g filter="url(#cm)">
<rect x="-40" y="-40" width="432" height="307.9" fill="#000000"/>
<path d="M-5.0 138.0 C-3.8 137.2 0.2 137.4 2.0 136.5 C3.8 135.6 4.3 134.2 6.0 132.5 C7.7 130.8 10.0 128.5 12.0 126.5 C14.0 124.5 16.0 122.5 18.0 120.5 C20.0 118.5 22.0 116.5 24.0 114.5 C26.0 112.5 28.2 110.5 30.0 108.5 C31.8 106.5 33.3 104.5 35.0 102.5 C36.7 100.5 38.2 98.2 40.0 96.5 C41.8 94.8 43.7 93.8 46.0 92.5 C48.3 91.2 51.0 89.8 54.0 88.5 C57.0 87.2 59.7 86.5 64.0 84.5 C68.3 82.5 75.0 79.0 80.0 76.5 C85.0 74.0 89.3 71.7 94.0 69.5 C98.7 67.3 103.7 65.2 108.0 63.5 C112.3 61.8 116.0 61.2 120.0 59.5 C124.0 57.8 127.7 54.7 132.0 53.0 C136.3 51.3 142.7 51.0 146.0 49.5 C149.3 48.0 149.7 45.2 152.0 44.0 C154.3 42.8 157.3 41.8 160.0 42.0 C162.7 42.2 165.7 43.6 168.0 45.0 C170.3 46.4 171.7 49.2 174.0 50.5 C176.3 51.8 179.3 51.7 182.0 52.5 C184.7 53.3 188.2 54.2 190.0 55.5 C191.8 56.8 193.5 58.7 193.0 60.5 C192.5 62.3 187.8 64.2 187.0 66.5 C186.2 68.8 188.6 72.2 188.4 74.5 C188.2 76.8 186.7 78.2 186.0 80.5 C185.3 82.8 184.7 86.5 184.0 88.5 C183.3 90.5 182.2 90.5 182.0 92.5 C181.8 94.5 183.3 98.2 183.0 100.5 C182.7 102.8 181.5 104.8 180.0 106.5 C178.5 108.2 175.8 109.2 174.0 110.5 C172.2 111.8 170.3 113.0 169.0 114.5 C167.7 116.0 166.8 117.8 166.0 119.5 C165.2 121.2 164.0 122.7 164.0 124.5 C164.0 126.3 165.5 128.5 166.0 130.5 C166.5 132.5 167.3 134.5 167.0 136.5 C166.7 138.5 164.8 140.5 164.0 142.5 C163.2 144.5 162.7 146.7 162.0 148.5 C161.3 150.3 161.7 152.2 160.0 153.5 C158.3 154.8 154.7 156.2 152.0 156.5 C149.3 156.8 147.0 155.8 144.0 155.5 C141.0 155.2 137.0 154.9 134.0 154.5 C131.0 154.1 129.2 153.7 126.0 153.0 C122.8 152.3 118.5 151.2 115.0 150.5 C111.5 149.8 108.3 149.4 105.0 149.0 C101.7 148.6 98.3 148.4 95.0 148.0 C91.7 147.6 89.2 147.0 85.0 146.5 C80.8 146.0 75.0 145.4 70.0 145.0 C65.0 144.6 60.0 144.2 55.0 144.0 C50.0 143.8 45.0 143.8 40.0 143.5 C35.0 143.2 30.0 142.3 25.0 142.0 C20.0 141.7 15.0 141.7 10.0 141.5 C5.0 141.3 -2.5 141.6 -5.0 141.0 C-7.5 140.4 -6.2 138.8 -5.0 138.0Z" fill="#383838" filter="url(#b2_4)"/>
<path d="M22.3 138.4 C27.5 138.9 45.7 138.8 52.0 139.5 C58.3 140.2 54.7 141.5 60.0 142.5 C65.3 143.5 77.3 145.3 84.0 145.5 C90.7 145.7 93.0 142.3 100.0 143.5 C107.0 144.7 120.0 150.8 126.0 152.5 C132.0 154.2 132.7 153.3 136.0 153.5 C139.3 153.7 143.0 154.0 146.0 153.5 C149.0 153.0 151.7 152.0 154.0 150.5 C156.3 149.0 158.7 146.8 160.0 144.5 C161.3 142.2 162.0 138.8 162.0 136.5 C162.0 134.2 161.0 132.5 160.0 130.5 C159.0 128.5 156.3 126.3 156.0 124.5 C155.7 122.7 157.0 121.2 158.0 119.5 C159.0 117.8 160.3 116.0 162.0 114.5 C163.7 113.0 166.3 112.2 168.0 110.5 C169.7 108.8 170.7 108.2 172.0 104.5 C173.3 100.8 173.8 92.8 176.0 88.5 C178.2 84.2 183.2 81.8 185.0 78.5 C186.8 75.2 187.2 71.5 187.0 68.5 C186.8 65.5 186.2 62.5 184.0 60.5 C181.8 58.5 178.0 57.3 174.0 56.5 C170.0 55.7 164.7 55.5 160.0 55.5 C155.3 55.5 153.0 54.7 146.0 56.5 C139.0 58.3 122.7 64.3 118.0 66.2 C113.3 68.0 119.6 67.0 118.0 67.5 C116.4 68.0 112.5 68.1 108.5 69.3 C104.5 70.5 102.9 70.6 94.0 74.5 C85.1 78.4 62.8 89.2 55.0 92.9 C47.2 96.6 49.3 95.5 47.0 96.9 C44.7 98.3 45.2 97.4 41.0 101.5 C36.8 105.6 25.4 116.4 21.9 121.6 C18.5 126.7 20.6 129.8 20.5 132.2 C20.4 134.6 20.9 135.1 21.2 136.2 C21.5 137.2 17.2 137.8 22.3 138.4Z" fill="#808080" filter="url(#b2_5)"/>
<path d="M78.3 79.3 C71.4 83.2 57.5 95.7 51.7 99.4 C45.9 103.1 46.1 100.4 43.5 101.6 C40.9 102.8 38.4 104.5 36.1 106.6 C33.9 108.7 31.6 111.3 30.1 114.0 C28.6 116.7 27.6 119.5 26.9 122.6 C26.1 125.6 25.6 130.3 25.5 132.3 C25.4 134.4 25.7 134.1 26.1 134.9 C26.4 135.7 26.4 136.0 27.7 136.9 C29.1 137.9 31.5 139.9 34.2 140.7 C36.9 141.5 41.3 141.9 43.8 142.0 C46.4 142.1 46.3 140.3 49.4 141.2 C52.6 142.0 59.3 145.9 63.0 146.9 C66.7 147.9 67.5 146.5 71.7 147.0 C75.8 147.5 83.1 150.0 87.8 150.0 C92.5 150.0 95.8 146.9 99.8 147.2 C103.9 147.5 110.0 163.9 112.0 151.6 C114.0 139.4 115.1 86.5 112.0 73.9 C108.9 61.3 99.0 75.1 93.4 76.0 C87.8 76.9 85.3 75.4 78.3 79.3Z" fill="#d1d1d1" filter="url(#b2_3)"/>
<path d="M143.0 76.5 C144.8 74.7 150.5 73.7 154.0 73.5 C157.5 73.3 161.5 74.0 164.0 75.5 C166.5 77.0 168.5 80.0 169.0 82.5 C169.5 85.0 168.8 88.8 167.0 90.5 C165.2 92.2 161.2 92.5 158.0 92.5 C154.8 92.5 150.5 91.8 148.0 90.5 C145.5 89.2 143.8 86.8 143.0 84.5 C142.2 82.2 141.2 78.3 143.0 76.5Z" fill="#5c5c5c" filter="url(#b2_0)"/>
<path d="M86.0 79.5 C85.7 78.2 88.7 77.7 92.0 76.5 C95.3 75.3 101.3 73.7 106.0 72.5 C110.7 71.3 115.3 69.8 120.0 69.5 C124.7 69.2 130.5 69.7 134.0 70.5 C137.5 71.3 139.5 72.7 141.0 74.5 C142.5 76.3 143.8 79.3 143.0 81.5 C142.2 83.7 137.8 85.5 136.0 87.5 C134.2 89.5 132.5 91.0 132.0 93.5 C131.5 96.0 133.7 100.2 133.0 102.5 C132.3 104.8 129.7 105.7 128.0 107.5 C126.3 109.3 124.5 111.5 123.0 113.5 C121.5 115.5 120.8 118.7 119.0 119.5 C117.2 120.3 113.8 121.3 112.0 118.5 C110.2 115.7 109.7 107.5 108.0 102.5 C106.3 97.5 104.3 91.5 102.0 88.5 C99.7 85.5 96.7 86.0 94.0 84.5 C91.3 83.0 86.3 80.8 86.0 79.5Z" fill="#dbdbdb" filter="url(#b2_2)"/>
<path d="M80.0 84.5 C83.0 83.3 88.7 82.3 94.0 81.5 C99.3 80.7 106.7 80.3 112.0 79.5 C117.3 78.7 122.0 77.3 126.0 76.5 C130.0 75.7 134.0 73.8 136.0 74.5 C138.0 75.2 138.7 78.8 138.0 80.5 C137.3 82.2 135.0 83.5 132.0 84.5 C129.0 85.5 123.8 85.5 120.0 86.5 C116.2 87.5 111.3 88.5 109.0 90.5 C106.7 92.5 106.3 95.5 106.0 98.5 C105.7 101.5 106.3 105.5 107.0 108.5 C107.7 111.5 108.2 114.7 110.0 116.5 C111.8 118.3 115.3 119.0 118.0 119.5 C120.7 120.0 123.3 119.7 126.0 119.5 C128.7 119.3 131.3 118.3 134.0 118.5 C136.7 118.7 140.0 119.5 142.0 120.5 C144.0 121.5 145.5 122.8 146.0 124.5 C146.5 126.2 144.3 128.8 145.0 130.5 C145.7 132.2 148.5 133.2 150.0 134.5 C151.5 135.8 153.5 136.8 154.0 138.5 C154.5 140.2 154.0 142.7 153.0 144.5 C152.0 146.3 150.2 148.3 148.0 149.5 C145.8 150.7 142.7 151.2 140.0 151.5 C137.3 151.8 134.3 151.5 132.0 151.5 C129.7 151.5 128.3 152.0 126.0 151.5 C123.7 151.0 120.7 149.7 118.0 148.5 C115.3 147.3 113.0 145.7 110.0 144.5 C107.0 143.3 102.7 141.8 100.0 141.5 C97.3 141.2 96.0 142.4 94.0 142.9 C92.0 143.4 90.3 144.6 88.0 144.5 C85.7 144.4 82.7 143.0 80.0 142.5 C77.3 142.0 74.7 141.7 72.0 141.5 C69.3 141.3 66.3 142.0 64.0 141.5 C61.7 141.0 60.3 139.5 58.0 138.5 C55.7 137.5 52.3 135.8 50.0 135.5 C47.7 135.2 46.3 136.5 44.0 136.5 C41.7 136.5 38.2 136.2 36.0 135.5 C33.8 134.8 31.7 134.3 31.0 132.5 C30.3 130.7 31.3 127.2 32.0 124.5 C32.7 121.8 33.7 118.8 35.0 116.5 C36.3 114.2 38.2 112.2 40.0 110.5 C41.8 108.8 43.7 107.5 46.0 106.5 C48.3 105.5 51.7 105.5 54.0 104.5 C56.3 103.5 57.7 102.2 60.0 100.5 C62.3 98.8 65.3 96.5 68.0 94.5 C70.7 92.5 74.0 90.2 76.0 88.5 C78.0 86.8 77.0 85.7 80.0 84.5Z" fill="#ffffff" filter="url(#b2_2)"/>
<path d="M142.0 92.5 C144.7 90.8 151.5 90.3 156.0 90.5 C160.5 90.7 166.2 91.8 169.0 93.5 C171.8 95.2 173.0 98.2 173.0 100.5 C173.0 102.8 171.5 106.0 169.0 107.5 C166.5 109.0 161.8 109.5 158.0 109.5 C154.2 109.5 149.0 109.0 146.0 107.5 C143.0 106.0 140.7 103.0 140.0 100.5 C139.3 98.0 139.3 94.2 142.0 92.5Z" fill="#bfbfbf" filter="url(#b2_0)"/>
<path d="M151.0 96.5 C152.0 95.0 155.7 95.0 158.0 94.9 C160.3 94.8 163.4 95.2 165.0 96.1 C166.6 97.0 167.6 99.0 167.6 100.5 C167.6 102.0 166.6 104.0 165.0 104.9 C163.4 105.8 160.2 106.2 158.0 106.1 C155.8 106.0 153.2 105.7 152.0 104.1 C150.8 102.5 150.0 98.0 151.0 96.5Z" fill="#ededed" filter="url(#b1_6)"/>
<path d="M163.0 119.5 C163.6 118.9 166.3 119.4 167.0 120.1 C167.7 120.8 167.6 122.9 167.0 123.5 C166.4 124.1 164.3 124.2 163.6 123.5 C162.9 122.8 162.4 120.1 163.0 119.5Z" fill="#333333" filter="url(#b1_0)"/>
<path d="M215.0 115.5 C215.6 114.9 218.3 115.4 219.0 116.1 C219.7 116.8 219.6 118.9 219.0 119.5 C218.4 120.1 216.3 120.2 215.6 119.5 C214.9 118.8 214.4 116.1 215.0 115.5Z" fill="#333333" filter="url(#b1_0)"/>
<path d="M176.0 -3.5 C182.4 -5.5 205.8 -5.5 212.0 -3.5 C218.2 -1.5 212.7 5.2 213.0 8.5 C213.3 11.8 212.8 14.5 214.0 16.5 C215.2 18.5 217.3 19.5 220.0 20.5 C222.7 21.5 227.0 22.0 230.0 22.5 C233.0 23.0 235.7 22.7 238.0 23.5 C240.3 24.3 242.7 26.2 244.0 27.5 C245.3 28.8 246.7 29.8 246.0 31.5 C245.3 33.2 241.3 35.5 240.0 37.5 C238.7 39.5 239.0 41.7 238.0 43.5 C237.0 45.3 236.0 47.5 234.0 48.5 C232.0 49.5 228.7 49.7 226.0 49.5 C223.3 49.3 220.3 48.5 218.0 47.5 C215.7 46.5 214.0 44.2 212.0 43.5 C210.0 42.8 208.0 43.3 206.0 43.5 C204.0 43.7 202.0 44.3 200.0 44.5 C198.0 44.7 196.3 44.6 194.0 44.5 C191.7 44.4 188.7 44.0 186.0 44.1 C183.3 44.2 180.3 44.4 178.0 44.9 C175.7 45.4 174.0 46.3 172.0 46.9 C170.0 47.5 168.3 47.9 166.0 48.5 C163.7 49.1 160.7 50.2 158.0 50.5 C155.3 50.8 152.0 50.8 150.0 50.5 C148.0 50.2 146.2 49.7 146.0 48.5 C145.8 47.3 147.7 44.8 149.0 43.5 C150.3 42.2 152.3 41.7 154.0 40.5 C155.7 39.3 157.9 38.2 159.0 36.5 C160.1 34.8 159.2 32.5 160.4 30.5 C161.6 28.5 164.2 26.8 166.0 24.5 C167.8 22.2 169.7 19.2 171.0 16.5 C172.3 13.8 172.8 11.8 173.6 8.5 C174.4 5.2 169.6 -1.5 176.0 -3.5Z" fill="#404040" filter="url(#b2_2)"/>
<path d="M194.0 49.5 C195.6 48.3 199.5 48.3 202.0 48.5 C204.5 48.7 207.7 48.8 209.0 50.5 C210.3 52.2 210.4 56.8 209.6 58.5 C208.8 60.2 206.3 60.6 204.0 60.9 C201.7 61.2 197.9 61.0 196.0 60.1 C194.1 59.2 192.7 57.3 192.4 55.5 C192.1 53.7 192.4 50.7 194.0 49.5Z" fill="#333333" filter="url(#b1_8)"/>
<path d="M175.0 21.5 C177.2 20.5 182.2 19.7 186.0 19.5 C189.8 19.3 194.0 20.2 198.0 20.5 C202.0 20.8 207.3 20.5 210.0 21.5 C212.7 22.5 214.7 24.8 214.0 26.5 C213.3 28.2 209.3 30.5 206.0 31.5 C202.7 32.5 197.7 32.2 194.0 32.5 C190.3 32.8 187.0 33.8 184.0 33.5 C181.0 33.2 177.8 31.8 176.0 30.5 C174.2 29.2 173.2 27.0 173.0 25.5 C172.8 24.0 172.8 22.5 175.0 21.5Z" fill="#666666" filter="url(#b2_2)"/>
<path d="M186.0 4.5 C187.3 3.2 191.6 2.3 194.0 2.5 C196.4 2.7 199.6 4.0 200.4 5.5 C201.2 7.0 200.4 10.3 199.0 11.5 C197.6 12.7 194.2 13.1 192.0 12.9 C189.8 12.7 187.0 11.9 186.0 10.5 C185.0 9.1 184.7 5.8 186.0 4.5Z" fill="#616161" filter="url(#b1_8)"/>
<path d="M183.0 25.5 C183.9 24.8 186.8 24.0 188.0 24.5 C189.2 25.0 190.3 27.5 190.0 28.5 C189.7 29.5 187.3 30.4 186.0 30.5 C184.7 30.6 182.9 29.7 182.4 28.9 C181.9 28.1 182.1 26.2 183.0 25.5Z" fill="#999999" filter="url(#b1_5)"/>
<path d="M214.0 27.5 C215.3 26.0 219.0 25.8 222.0 25.5 C225.0 25.2 229.2 24.8 232.0 25.5 C234.8 26.2 237.7 27.8 239.0 29.5 C240.3 31.2 240.7 33.5 240.0 35.5 C239.3 37.5 237.3 40.2 235.0 41.5 C232.7 42.8 228.8 43.7 226.0 43.5 C223.2 43.3 220.0 42.0 218.0 40.5 C216.0 39.0 214.7 36.7 214.0 34.5 C213.3 32.3 212.7 29.0 214.0 27.5Z" fill="#8c8c8c" filter="url(#b2_0)"/>
<path d="M220.0 29.5 C221.5 28.5 225.7 27.8 228.0 28.1 C230.3 28.4 233.0 29.9 234.0 31.5 C235.0 33.1 235.0 36.0 234.0 37.5 C233.0 39.0 230.0 40.3 228.0 40.5 C226.0 40.7 223.5 39.6 222.0 38.5 C220.5 37.4 219.3 35.6 219.0 34.1 C218.7 32.6 218.5 30.5 220.0 29.5Z" fill="#d9d9d9" filter="url(#b1_8)"/>
<path d="M223.0 32.1 C223.7 31.1 227.0 30.8 228.4 31.1 C229.8 31.4 231.2 33.1 231.2 34.1 C231.2 35.1 229.5 36.8 228.4 37.3 C227.3 37.8 225.3 37.8 224.4 36.9 C223.5 36.0 222.3 33.1 223.0 32.1Z" fill="#e6e6e6" filter="url(#b1_2)"/>
<path d="M286.0 114.5 C286.8 112.7 289.3 111.5 292.0 110.5 C294.7 109.5 298.7 109.2 302.0 108.5 C305.3 107.8 309.0 107.2 312.0 106.5 C315.0 105.8 317.3 104.7 320.0 104.5 C322.7 104.3 326.0 104.5 328.0 105.5 C330.0 106.5 330.7 108.3 332.0 110.5 C333.3 112.7 335.3 115.5 336.0 118.5 C336.7 121.5 336.3 125.5 336.0 128.5 C335.7 131.5 335.3 135.0 334.0 136.5 C332.7 138.0 330.3 138.0 328.0 137.5 C325.7 137.0 322.7 134.5 320.0 133.5 C317.3 132.5 315.0 132.2 312.0 131.5 C309.0 130.8 305.3 130.2 302.0 129.5 C298.7 128.8 294.5 128.8 292.0 127.5 C289.5 126.2 288.0 123.7 287.0 121.5 C286.0 119.3 285.2 116.3 286.0 114.5Z" fill="#404040" filter="url(#b2_0)"/>
<path d="M294.0 116.5 C295.2 114.7 299.0 113.5 302.0 112.5 C305.0 111.5 308.7 111.0 312.0 110.5 C315.3 110.0 319.2 109.2 322.0 109.5 C324.8 109.8 327.5 110.7 329.0 112.5 C330.5 114.3 331.0 117.7 331.0 120.5 C331.0 123.3 330.5 127.7 329.0 129.5 C327.5 131.3 324.8 131.5 322.0 131.5 C319.2 131.5 315.3 130.2 312.0 129.5 C308.7 128.8 304.8 128.5 302.0 127.5 C299.2 126.5 296.3 125.3 295.0 123.5 C293.7 121.7 292.8 118.3 294.0 116.5Z" fill="#8c8c8c" filter="url(#b2_0)"/>
<path d="M298.0 118.5 C299.0 117.3 302.0 116.6 304.0 116.5 C306.0 116.4 308.8 116.9 310.0 118.1 C311.2 119.3 311.5 121.9 311.0 123.5 C310.5 125.1 308.7 126.9 307.0 127.5 C305.3 128.1 302.5 127.6 301.0 126.9 C299.5 126.2 298.5 124.9 298.0 123.5 C297.5 122.1 297.0 119.7 298.0 118.5Z" fill="#cccccc" filter="url(#b1_5)"/>
<path d="M312.0 118.1 C313.0 116.9 317.3 116.5 319.0 116.9 C320.7 117.3 322.4 119.2 322.4 120.5 C322.4 121.8 320.6 123.9 319.0 124.5 C317.4 125.1 314.2 125.2 313.0 124.1 C311.8 123.0 311.0 119.3 312.0 118.1Z" fill="#cccccc" filter="url(#b1_5)"/>
<path d="M258.0 127.5 C258.8 126.0 261.7 126.0 264.0 125.5 C266.3 125.0 269.0 124.5 272.0 124.5 C275.0 124.5 278.7 125.0 282.0 125.5 C285.3 126.0 288.7 126.8 292.0 127.5 C295.3 128.2 299.0 128.7 302.0 129.5 C305.0 130.3 307.7 131.2 310.0 132.5 C312.3 133.8 314.0 135.5 316.0 137.5 C318.0 139.5 320.5 142.0 322.0 144.5 C323.5 147.0 324.3 149.8 325.0 152.5 C325.7 155.2 325.7 158.3 326.4 160.5 C327.1 162.7 329.0 164.0 329.0 165.5 C329.0 167.0 327.9 168.5 326.4 169.5 C324.9 170.5 322.1 170.5 320.0 171.5 C317.9 172.5 316.0 174.0 314.0 175.5 C312.0 177.0 310.3 179.5 308.0 180.5 C305.7 181.5 302.7 182.0 300.0 181.5 C297.3 181.0 294.3 179.5 292.0 177.5 C289.7 175.5 287.7 171.4 286.0 169.5 C284.3 167.6 283.7 167.4 282.0 166.1 C280.3 164.8 277.7 163.4 276.0 161.5 C274.3 159.6 273.3 156.7 272.0 154.5 C270.7 152.3 269.5 150.5 268.0 148.5 C266.5 146.5 264.5 144.8 263.0 142.5 C261.5 140.2 259.8 137.0 259.0 134.5 C258.2 132.0 257.2 129.0 258.0 127.5Z" fill="#404040" filter="url(#b2_0)"/>
<path d="M265.0 129.5 C265.9 128.1 269.2 127.7 272.0 127.5 C274.8 127.3 278.7 127.7 282.0 128.1 C285.3 128.5 288.7 129.4 292.0 130.1 C295.3 130.8 299.1 131.6 302.0 132.5 C304.9 133.4 307.3 134.2 309.6 135.5 C311.9 136.8 313.8 138.6 315.6 140.5 C317.4 142.4 319.3 144.6 320.4 146.9 C321.5 149.2 322.1 152.1 322.4 154.5 C322.7 156.9 323.1 159.7 322.4 161.5 C321.7 163.3 319.7 164.2 318.0 165.5 C316.3 166.8 314.0 168.2 312.0 169.5 C310.0 170.8 307.8 172.6 306.0 173.5 C304.2 174.4 302.8 175.2 301.0 174.9 C299.2 174.6 296.8 173.2 295.0 171.5 C293.2 169.8 291.8 166.5 290.0 164.5 C288.2 162.5 285.8 161.2 284.0 159.5 C282.2 157.8 280.6 156.3 279.0 154.5 C277.4 152.7 275.9 150.5 274.4 148.5 C272.9 146.5 271.3 144.6 270.0 142.5 C268.7 140.4 267.2 138.3 266.4 136.1 C265.6 133.9 264.1 130.9 265.0 129.5Z" fill="#999999" filter="url(#b2_0)"/>
<path d="M272.0 131.5 C273.4 130.8 277.0 130.3 280.0 130.5 C283.0 130.7 286.7 131.7 290.0 132.5 C293.3 133.3 297.0 134.5 300.0 135.5 C303.0 136.5 305.7 137.2 308.0 138.5 C310.3 139.8 312.3 141.7 314.0 143.5 C315.7 145.3 317.1 147.3 318.0 149.5 C318.9 151.7 320.1 154.5 319.6 156.5 C319.1 158.5 316.8 160.0 315.0 161.5 C313.2 163.0 311.2 164.3 309.0 165.5 C306.8 166.7 304.2 168.5 302.0 168.5 C299.8 168.5 297.7 166.9 296.0 165.5 C294.3 164.1 293.5 161.9 292.0 160.1 C290.5 158.3 288.7 156.4 287.0 154.5 C285.3 152.6 283.5 150.3 282.0 148.5 C280.5 146.7 279.3 145.2 278.0 143.5 C276.7 141.8 275.1 140.0 274.0 138.5 C272.9 137.0 271.7 135.7 271.4 134.5 C271.1 133.3 270.6 132.2 272.0 131.5Z" fill="#ffffff" filter="url(#b1_8)"/>
<path d="M267.0 81.5 C267.8 80.0 271.7 79.3 274.0 79.5 C276.3 79.7 280.0 81.0 281.0 82.5 C282.0 84.0 281.2 87.2 280.0 88.5 C278.8 89.8 275.8 90.1 274.0 90.1 C272.2 90.1 270.2 89.9 269.0 88.5 C267.8 87.1 266.2 83.0 267.0 81.5Z" fill="#4c4c4c" filter="url(#b1_6)"/>
<path d="M271.6 83.5 C272.0 82.8 274.0 82.3 275.0 82.5 C276.0 82.7 277.5 84.1 277.6 84.9 C277.7 85.7 276.5 87.0 275.6 87.3 C274.7 87.6 273.1 87.5 272.4 86.9 C271.7 86.3 271.2 84.2 271.6 83.5Z" fill="#808080" filter="url(#b1_2)"/>
<path d="M290.0 81.5 C290.2 80.0 293.3 78.2 296.0 77.5 C298.7 76.8 303.3 76.8 306.0 77.5 C308.7 78.2 311.3 79.8 312.0 81.5 C312.7 83.2 311.7 86.3 310.0 87.5 C308.3 88.7 304.5 89.1 302.0 88.9 C299.5 88.7 297.0 87.7 295.0 86.5 C293.0 85.3 289.8 83.0 290.0 81.5Z" fill="#4c4c4c" filter="url(#b1_6)"/>
<path d="M299.6 80.5 C300.1 79.5 302.9 79.2 304.4 79.5 C305.9 79.8 308.1 81.1 308.4 82.1 C308.7 83.1 307.5 84.9 306.4 85.5 C305.3 86.1 302.7 86.3 301.6 85.5 C300.5 84.7 299.1 81.5 299.6 80.5Z" fill="#b2b2b2" filter="url(#b1_2)"/>
<path d="M261.0 83.5 C261.9 82.7 266.0 82.7 267.0 83.5 C268.0 84.3 267.9 87.7 267.0 88.5 C266.1 89.3 262.6 89.3 261.6 88.5 C260.6 87.7 260.1 84.3 261.0 83.5Z" fill="#333333" filter="url(#b1_0)"/>
<path d="M319.6 79.5 C320.5 78.3 324.9 78.4 326.0 79.5 C327.1 80.6 327.3 84.9 326.4 86.1 C325.5 87.3 321.5 87.6 320.4 86.5 C319.3 85.4 318.7 80.7 319.6 79.5Z" fill="#333333" filter="url(#b1_0)"/>
<path d="M48.3 153.4 C51.9 152.4 55.1 149.7 59.1 148.6 C63.1 147.4 68.4 147.1 72.4 146.6 C76.4 146.1 78.4 146.2 83.2 145.4 C88.1 144.6 98.3 140.6 101.3 141.8 C104.3 143.0 102.9 150.4 101.3 152.7 C99.7 154.9 94.5 154.5 91.7 155.1 C88.9 155.7 86.0 154.9 84.4 156.3 C82.8 157.7 83.3 161.3 82.0 163.5 C80.7 165.7 78.1 167.5 76.7 169.5 C75.3 171.6 75.8 173.7 73.6 175.6 C71.3 177.5 67.2 179.2 63.2 180.9 C59.2 182.6 53.8 184.5 49.5 185.7 C45.2 186.9 40.9 188.1 37.4 188.1 C33.9 188.1 31.0 187.6 28.5 185.7 C25.9 183.8 23.1 179.9 22.2 176.8 C21.3 173.7 21.6 169.9 22.9 167.1 C24.2 164.3 27.7 162.0 30.2 159.9 C32.6 157.8 34.4 155.4 37.4 154.3 C40.4 153.3 44.6 154.3 48.3 153.4Z" fill="#666666" filter="url(#b2_0)"/>
<path d="M-4.8 172.0 C-2.8 169.3 3.2 170.8 7.2 170.8 C11.3 170.8 16.1 171.0 19.3 172.0 C22.5 173.0 25.9 174.8 26.5 176.8 C27.1 178.8 25.3 182.3 22.9 184.0 C20.5 185.7 16.7 186.8 12.1 187.2 C7.4 187.6 -2.0 189.0 -4.8 186.4 C-7.6 183.9 -6.8 174.6 -4.8 172.0Z" fill="#4c4c4c" filter="url(#b1_8)"/>
<path d="M-5.0 174.0 C-2.5 171.2 5.5 173.7 10.0 173.0 C14.5 172.3 18.8 170.7 22.0 170.0 C25.2 169.3 27.3 167.3 29.0 169.0 C30.7 170.7 32.7 177.3 32.0 180.0 C31.3 182.7 28.0 183.6 25.0 185.0 C22.0 186.4 19.0 187.7 14.0 188.5 C9.0 189.3 -1.8 192.4 -5.0 190.0 C-8.2 187.6 -7.5 176.8 -5.0 174.0Z" fill="#737373" filter="url(#b1_8)"/>
<path d="M-5.0 180.0 C-2.8 178.8 4.3 179.4 8.0 179.0 C11.7 178.6 14.2 178.2 17.0 177.5 C19.8 176.8 23.2 174.8 25.0 175.0 C26.8 175.2 28.5 177.8 28.0 179.0 C27.5 180.2 24.5 181.6 22.0 182.5 C19.5 183.4 15.8 184.0 13.0 184.5 C10.2 185.0 8.0 185.2 5.0 185.5 C2.0 185.8 -3.3 186.9 -5.0 186.0 C-6.7 185.1 -7.2 181.2 -5.0 180.0Z" fill="#cccccc" filter="url(#b1_5)"/>
<path d="M15.0 185.0 C15.8 184.4 18.2 183.9 20.0 184.0 C21.8 184.1 24.7 184.8 25.5 185.5 C26.3 186.2 26.1 187.4 25.0 188.0 C23.9 188.6 20.6 189.1 19.0 189.0 C17.4 188.9 16.2 188.2 15.5 187.5 C14.8 186.8 14.2 185.6 15.0 185.0Z" fill="#080808" filter="url(#b1_2)"/>
<path d="M48.3 152.7 C50.7 151.2 51.9 149.3 55.5 148.6 C59.1 147.8 65.9 148.4 70.0 148.1 C74.0 147.8 75.2 147.9 79.6 146.6 C84.0 145.4 93.3 140.2 96.5 140.6 C99.7 141.0 100.1 147.1 98.9 149.0 C97.7 150.9 92.3 151.1 89.3 151.9 C86.2 152.7 82.8 152.3 80.8 153.9 C78.9 155.4 79.0 158.9 77.7 161.1 C76.4 163.3 74.1 165.3 72.9 167.1 C71.6 168.9 72.1 170.3 70.0 172.0 C67.9 173.6 63.9 175.2 60.3 176.8 C56.7 178.4 51.9 180.4 48.3 181.6 C44.6 182.8 41.4 184.0 38.6 184.0 C35.8 184.0 33.3 183.2 31.4 181.6 C29.4 180.0 27.6 176.6 27.0 174.4 C26.4 172.2 26.6 170.3 27.7 168.3 C28.9 166.3 31.6 164.1 33.8 162.3 C36.0 160.5 38.6 159.1 41.0 157.5 C43.4 155.9 45.8 154.1 48.3 152.7Z" fill="#ffffff" filter="url(#b2_0)"/>
<path d="M-4.8 192.0 C-1.6 184.3 8.0 190.0 14.5 189.6 C20.9 189.2 28.1 189.8 33.8 189.6 C39.4 189.3 43.8 188.8 48.3 188.1 C52.7 187.5 56.3 186.5 60.3 185.7 C64.3 184.9 69.0 184.2 72.4 183.3 C75.8 182.4 77.9 180.5 80.8 180.4 C83.7 180.3 87.9 180.5 89.7 182.8 C91.6 185.1 92.3 191.4 92.2 194.4 C92.0 197.4 88.4 199.0 88.8 200.9 C89.2 202.8 92.9 203.8 94.6 205.7 C96.3 207.6 99.6 210.0 98.9 212.2 C98.2 214.5 92.4 216.9 90.5 219.0 C88.5 221.1 88.1 222.2 87.3 225.0 C86.5 227.8 101.0 234.1 85.6 235.9 C70.3 237.7 10.3 243.2 -4.8 235.9 C-19.9 228.6 -8.0 199.7 -4.8 192.0Z" fill="#595959" filter="url(#b2_2)"/>
<path d="M-4.8 197.8 C-1.6 190.9 8.0 195.4 14.5 194.9 C20.9 194.4 28.1 195.1 33.8 194.9 C39.4 194.7 43.8 194.3 48.3 193.7 C52.7 193.1 56.3 192.1 60.3 191.3 C64.3 190.5 69.2 189.6 72.4 188.8 C75.6 188.0 77.4 186.6 79.6 186.4 C81.8 186.2 84.4 186.2 85.6 187.6 C86.9 189.0 87.3 192.5 86.9 194.9 C86.4 197.3 82.8 200.1 83.2 202.1 C83.6 204.1 87.7 205.3 89.3 206.9 C90.9 208.5 93.7 210.4 92.9 211.8 C92.1 213.2 86.2 213.8 84.4 215.4 C82.6 217.0 82.8 218.0 82.0 221.4 C81.2 224.8 94.1 233.5 79.6 235.9 C65.1 238.3 9.2 242.2 -4.8 235.9 C-18.9 229.5 -8.0 204.6 -4.8 197.8Z" fill="#ffffff" filter="url(#b2_0)"/>
<path d="M85.6 172.0 C87.6 170.3 92.9 168.8 96.5 168.8 C100.1 168.8 104.1 170.6 107.4 172.0 C110.6 173.3 113.4 175.0 115.8 176.8 C118.2 178.6 121.4 180.8 121.8 182.8 C122.2 184.8 120.2 188.0 118.2 188.8 C116.2 189.6 112.6 188.3 109.8 187.6 C107.0 187.0 104.3 185.5 101.3 184.7 C98.3 183.9 94.4 183.9 91.7 182.8 C88.9 181.8 85.9 180.3 84.9 178.5 C83.9 176.7 83.7 173.6 85.6 172.0Z" fill="#4c4c4c" filter="url(#b1_8)"/>
<path d="M90.5 173.6 C91.3 172.2 95.3 171.4 97.7 171.5 C100.1 171.6 103.5 173.0 104.9 174.4 C106.4 175.8 107.4 178.6 106.6 179.9 C105.8 181.2 102.4 182.3 100.1 182.3 C97.8 182.4 94.5 181.8 92.9 180.4 C91.3 179.0 89.7 175.1 90.5 173.6Z" fill="#b8b8b8" filter="url(#b1_5)"/>
<path d="M6.8 146.6 C8.0 145.2 11.6 144.8 14.5 144.7 C17.4 144.6 22.0 145.0 24.1 146.1 C26.2 147.3 27.2 149.8 27.0 151.5 C26.8 153.1 25.2 155.4 22.9 156.3 C20.6 157.2 15.9 157.2 13.3 156.8 C10.7 156.3 8.3 155.1 7.2 153.4 C6.2 151.7 5.5 148.1 6.8 146.6Z" fill="#383838" filter="url(#b1_6)"/>
<path d="M-5.0 164.0 C-2.8 162.3 3.8 163.0 8.0 163.0 C12.2 163.0 16.8 163.2 20.0 164.0 C23.2 164.8 27.0 166.7 27.0 168.0 C27.0 169.3 23.2 171.2 20.0 172.0 C16.8 172.8 12.2 172.8 8.0 173.0 C3.8 173.2 -2.8 174.5 -5.0 173.0 C-7.2 171.5 -7.2 165.7 -5.0 164.0Z" fill="#4c4c4c" filter="url(#b1_6)"/>
</g>
<use href="#ln"/>
<text class="wm" x="181.9" y="205.6" textLength="21.6" lengthAdjust="spacing">from</text>
<text class="wm" x="207.2" y="205.6" textLength="17.9" lengthAdjust="spacing">grib</text>
<text class="wm" x="228.7" y="205.6" textLength="18.8" lengthAdjust="spacing">files</text>
<text class="wm" x="251.1" y="205.6" textLength="41.2" lengthAdjust="spacing">provided</text>
<text class="wm" x="295.9" y="205.6" textLength="11.0" lengthAdjust="spacing">by</text>
<text class="wm" x="310.5" y="205.6" textLength="35.0" lengthAdjust="spacing">ECMWF</text>
<text class="wm" x="240.4" y="223.9" textLength="32.4" lengthAdjust="spacing">©2025</text>
<text class="wm" x="276.3" y="223.9" textLength="68.8" lengthAdjust="spacing">sb@irizone.net</text>
</g>
<rect x="0" y="0" width="352" height="227.9" fill="none" stroke="#000" stroke-width="1"/>
</g>
<rect x="158.60" y="304.50" width="35.30" height="7.2" fill="rgb(255,250,5)"/>
<rect x="193.80" y="304.50" width="35.30" height="7.2" fill="rgb(255,208,5)"/>
<rect x="229.00" y="304.50" width="35.30" height="7.2" fill="rgb(255,165,10)"/>
<rect x="264.20" y="304.50" width="35.30" height="7.2" fill="rgb(255,135,10)"/>
<rect x="299.40" y="304.50" width="35.30" height="7.2" fill="rgb(255,95,10)"/>
<rect x="334.60" y="304.50" width="35.30" height="7.2" fill="rgb(245,28,14)"/>
<rect x="369.80" y="304.50" width="35.30" height="7.2" fill="rgb(208,8,8)"/>
<rect x="405.00" y="304.50" width="35.30" height="7.2" fill="rgb(158,4,4)"/>
<rect x="440.20" y="304.50" width="35.30" height="7.2" fill="rgb(108,2,2)"/>
<line x1="193.80" y1="304.50" x2="193.80" y2="311.70" stroke="#000" stroke-width="0.8"/>
<line x1="229.00" y1="304.50" x2="229.00" y2="311.70" stroke="#000" stroke-width="0.8"/>
<line x1="264.20" y1="304.50" x2="264.20" y2="311.70" stroke="#000" stroke-width="0.8"/>
<line x1="299.40" y1="304.50" x2="299.40" y2="311.70" stroke="#000" stroke-width="0.8"/>
<line x1="334.60" y1="304.50" x2="334.60" y2="311.70" stroke="#000" stroke-width="0.8"/>
<line x1="369.80" y1="304.50" x2="369.80" y2="311.70" stroke="#000" stroke-width="0.8"/>
<line x1="405.00" y1="304.50" x2="405.00" y2="311.70" stroke="#000" stroke-width="0.8"/>
<line x1="440.20" y1="304.50" x2="440.20" y2="311.70" stroke="#000" stroke-width="0.8"/>
<rect x="158.60" y="304.50" width="316.8" height="7.2" fill="none" stroke="#000" stroke-width="0.9"/>
<g transform="translate(141,586.45)">
<g clip-path="url(#cp)">
<g filter="url(#cm)">
<rect x="-40" y="-40" width="432" height="307.9" fill="#000000"/>
<path d="M21.0 133.0 C20.3 131.1 22.5 128.2 24.0 126.0 C25.5 123.8 27.3 122.2 30.0 119.5 C32.7 116.8 36.3 112.6 40.0 110.0 C43.7 107.4 47.7 106.0 52.0 104.0 C56.3 102.0 61.3 99.8 66.0 98.0 C70.7 96.2 76.3 94.2 80.0 93.0 C83.7 91.8 85.7 91.5 88.0 91.0 C90.3 90.5 91.3 90.5 94.0 90.0 C96.7 89.5 100.7 88.8 104.0 88.0 C107.3 87.2 111.7 85.0 114.0 85.0 C116.3 85.0 118.3 86.3 118.0 88.0 C117.7 89.7 113.8 92.8 112.0 95.0 C110.2 97.2 107.9 98.3 107.0 101.0 C106.1 103.7 106.6 107.3 106.5 111.0 C106.4 114.7 106.9 119.0 106.6 123.0 C106.3 127.0 105.3 132.1 104.5 135.0 C103.7 137.9 103.0 139.4 101.5 140.5 C100.0 141.6 99.8 141.6 95.5 141.5 C91.2 141.4 82.4 140.4 76.0 140.2 C69.6 139.9 63.0 140.2 57.0 140.0 C51.0 139.8 44.8 139.4 40.0 139.0 C35.2 138.6 31.2 138.5 28.0 137.5 C24.8 136.5 21.7 134.9 21.0 133.0Z" fill="#383838" filter="url(#b2_0)"/>
<path d="M33.8 130.3 C32.8 128.3 35.4 124.3 37.4 121.9 C39.4 119.5 42.4 117.7 45.8 115.9 C49.3 114.1 53.5 112.2 57.9 111.0 C62.3 109.8 68.0 108.8 72.4 108.6 C76.8 108.4 81.0 108.6 84.4 109.8 C87.9 111.0 91.1 113.5 92.9 115.9 C94.7 118.3 95.5 121.9 95.3 124.3 C95.1 126.7 93.9 128.7 91.7 130.3 C89.5 131.9 85.6 133.2 82.0 134.0 C78.4 134.8 74.4 135.0 70.0 135.2 C65.5 135.3 59.9 134.9 55.5 134.7 C51.1 134.5 47.0 134.7 43.4 134.0 C39.8 133.2 34.8 132.3 33.8 130.3Z" fill="#808080" filter="url(#b2_0)"/>
<path d="M39.8 127.9 C38.8 126.1 42.2 122.7 44.6 120.7 C47.0 118.7 50.5 117.1 54.3 115.9 C58.1 114.6 63.3 113.5 67.6 113.0 C71.8 112.5 76.2 112.3 79.6 113.0 C83.0 113.7 86.2 115.2 88.1 117.1 C89.9 119.0 90.9 122.3 90.5 124.3 C90.1 126.3 88.3 128.0 85.6 129.1 C83.0 130.2 78.6 130.4 74.8 130.8 C71.0 131.2 66.7 131.4 62.7 131.5 C58.7 131.7 54.5 132.1 50.7 131.5 C46.8 130.9 40.8 129.7 39.8 127.9Z" fill="#cccccc" filter="url(#b1_8)"/>
<path d="M51.9 127.9 C51.1 126.8 53.5 124.5 55.5 123.1 C57.5 121.7 61.1 120.7 63.9 119.5 C66.7 118.3 69.4 116.5 72.4 115.9 C75.4 115.3 79.8 115.1 82.0 115.9 C84.2 116.7 85.4 119.1 85.6 120.7 C85.8 122.3 85.0 124.5 83.2 125.5 C81.4 126.5 77.4 126.3 74.8 126.7 C72.2 127.1 70.0 127.4 67.6 127.9 C65.1 128.4 62.9 129.9 60.3 129.9 C57.7 129.9 52.7 129.1 51.9 127.9Z" fill="#ffffff" filter="url(#b1_5)"/>
<path d="M106.2 118.8 C107.0 118.6 108.6 121.1 111.0 121.9 C113.4 122.7 117.4 123.2 120.6 123.6 C123.8 124.0 127.1 124.5 130.3 124.3 C133.5 124.1 136.5 123.2 139.9 122.6 C143.3 122.0 148.9 119.8 150.8 120.7 C152.7 121.6 152.5 126.1 151.5 127.9 C150.5 129.7 146.3 129.5 144.8 131.5 C143.2 133.6 141.5 137.2 142.3 140.0 C143.1 142.8 148.2 145.8 149.6 148.4 C151.0 151.0 152.0 154.7 150.8 155.7 C149.6 156.7 145.2 155.3 142.3 154.5 C139.5 153.7 137.1 152.1 133.9 150.8 C130.7 149.6 126.9 148.2 123.0 147.2 C119.2 146.2 114.4 145.6 111.0 144.8 C107.6 144.0 103.7 144.4 102.5 142.4 C101.3 140.4 103.2 136.0 103.7 132.8 C104.3 129.5 105.3 125.4 105.7 123.1 C106.1 120.8 105.3 119.0 106.2 118.8Z" fill="#2b2b2b" filter="url(#b1_8)"/>
<path d="M127.9 134.7 C129.1 133.4 132.7 132.2 135.1 132.3 C137.5 132.3 141.3 133.7 142.3 135.2 C143.3 136.7 142.5 139.8 141.1 141.2 C139.7 142.6 136.1 143.8 133.9 143.6 C131.7 143.4 128.9 141.5 127.9 140.0 C126.9 138.5 126.7 136.0 127.9 134.7Z" fill="#000000" filter="url(#b1_5)"/>
<path d="M16.9 176.2 C17.7 172.8 21.3 168.1 24.1 165.3 C26.9 162.6 30.2 161.6 33.8 159.8 C37.4 158.0 41.8 156.1 45.8 154.5 C49.9 152.9 53.9 151.3 57.9 150.1 C61.9 148.9 66.3 148.5 70.0 147.2 C73.6 145.9 76.8 143.6 79.6 142.4 C82.4 141.2 83.6 140.2 86.9 140.0 C90.1 139.8 96.8 139.6 98.9 141.2 C101.0 142.8 100.6 147.4 99.4 149.6 C98.2 151.8 93.6 152.7 91.7 154.5 C89.8 156.3 88.1 158.3 88.1 160.5 C88.1 162.7 90.3 165.7 91.7 167.7 C93.0 169.7 95.6 171.2 96.0 172.6 C96.4 174.0 95.8 175.8 94.1 176.2 C92.4 176.6 88.5 175.0 85.6 175.0 C82.8 175.0 80.2 175.0 77.2 176.2 C74.2 177.4 71.0 180.8 67.6 182.2 C64.1 183.6 60.1 184.2 56.7 184.6 C53.3 185.0 49.9 184.0 47.0 184.6 C44.2 185.2 42.4 187.0 39.8 188.2 C37.2 189.4 34.0 191.3 31.4 191.9 C28.7 192.5 26.1 192.9 24.1 191.9 C22.1 190.9 20.5 188.4 19.3 185.8 C18.1 183.2 16.1 179.6 16.9 176.2Z" fill="#333333" filter="url(#b2_0)"/>
<path d="M26.5 171.4 C28.3 168.5 31.0 166.3 33.8 164.1 C36.6 161.9 40.2 159.9 43.4 158.1 C46.6 156.3 49.5 154.5 53.1 153.3 C56.7 152.1 61.5 151.8 65.1 150.8 C68.8 149.8 71.6 148.6 74.8 147.2 C78.0 145.8 81.2 143.2 84.4 142.4 C87.7 141.6 92.3 141.4 94.1 142.4 C95.9 143.4 96.5 146.8 95.3 148.4 C94.1 150.0 89.3 150.4 86.9 152.1 C84.4 153.7 81.2 156.1 80.8 158.1 C80.4 160.1 84.6 162.5 84.4 164.1 C84.2 165.7 81.6 166.1 79.6 167.7 C77.6 169.3 74.8 172.0 72.4 173.8 C70.0 175.6 68.0 177.4 65.1 178.6 C62.3 179.8 58.7 180.8 55.5 181.0 C52.3 181.2 48.7 179.4 45.8 179.8 C43.0 180.2 41.0 182.2 38.6 183.4 C36.2 184.6 33.6 186.2 31.4 187.0 C29.2 187.8 26.7 189.2 25.3 188.2 C23.9 187.2 22.7 183.8 22.9 181.0 C23.1 178.2 24.7 174.2 26.5 171.4Z" fill="#8c8c8c" filter="url(#b2_0)"/>
<path d="M41.0 165.3 C42.2 163.5 45.4 160.9 48.3 159.3 C51.1 157.7 54.7 156.3 57.9 155.7 C61.1 155.1 65.1 154.9 67.6 155.7 C70.0 156.5 72.0 158.7 72.4 160.5 C72.8 162.3 71.0 164.5 70.0 166.5 C69.0 168.5 68.0 170.9 66.3 172.6 C64.7 174.2 62.7 175.4 60.3 176.2 C57.9 177.0 54.5 177.6 51.9 177.4 C49.3 177.2 46.4 176.2 44.6 175.0 C42.8 173.8 41.6 171.8 41.0 170.1 C40.4 168.5 39.8 167.1 41.0 165.3Z" fill="#ffffff" filter="url(#b1_8)"/>
<path d="M70.0 155.7 C70.0 154.3 71.8 151.8 73.6 150.8 C75.4 149.9 79.2 151.0 80.8 150.1 C82.4 149.2 81.8 146.3 83.2 145.3 C84.6 144.3 88.1 143.6 89.3 144.3 C90.5 145.1 91.5 148.2 90.5 149.6 C89.5 151.1 85.0 152.0 83.2 153.3 C81.4 154.5 81.2 156.4 79.6 157.4 C78.0 158.3 75.2 159.1 73.6 158.8 C72.0 158.5 70.0 157.0 70.0 155.7Z" fill="#f2f2f2" filter="url(#b1_5)"/>
<path d="M96.5 178.6 C97.1 177.6 101.2 177.5 102.5 178.1 C103.8 178.7 104.8 181.2 104.2 182.2 C103.6 183.2 100.2 184.5 98.9 183.9 C97.6 183.3 95.9 179.6 96.5 178.6Z" fill="#333333" filter="url(#b1_2)"/>
<path d="M-4.8 173.3 C-2.8 170.7 3.6 172.3 7.2 172.6 C10.9 172.8 15.1 173.2 16.9 175.0 C18.7 176.8 18.9 181.1 18.1 183.4 C17.3 185.7 14.7 187.7 12.1 188.7 C9.4 189.7 5.2 189.5 2.4 189.4 C-0.4 189.4 -3.6 190.9 -4.8 188.2 C-6.0 185.5 -6.8 175.9 -4.8 173.3Z" fill="#404040" filter="url(#b1_8)"/>
<path d="M1.9 179.1 C2.9 177.7 6.7 177.7 8.4 178.1 C10.2 178.5 12.3 180.2 12.5 181.5 C12.7 182.8 11.3 185.0 9.7 185.8 C8.0 186.6 4.2 187.4 2.9 186.3 C1.6 185.2 1.0 180.4 1.9 179.1Z" fill="#808080" filter="url(#b1_4)"/>
<path d="M-4.8 193.5 C-2.4 186.4 5.6 191.9 9.7 191.1 C13.7 190.3 15.7 189.1 19.3 188.7 C22.9 188.3 27.3 188.5 31.4 188.7 C35.4 188.9 39.4 189.7 43.4 189.9 C47.4 190.1 51.7 189.7 55.5 189.9 C59.3 190.1 62.9 190.4 66.3 191.1 C69.8 191.9 73.6 192.3 76.0 194.3 C78.4 196.2 79.3 200.1 80.8 202.7 C82.3 205.3 84.7 207.2 84.9 210.0 C85.1 212.7 83.5 216.7 82.0 219.1 C80.5 221.5 77.4 221.9 76.0 224.4 C74.6 226.9 87.1 232.5 73.6 234.1 C60.1 235.7 8.2 240.8 -4.8 234.1 C-17.9 227.3 -7.2 200.7 -4.8 193.5Z" fill="#595959" filter="url(#b2_2)"/>
<path d="M-4.8 199.6 C-2.4 193.3 5.6 197.6 9.7 196.7 C13.7 195.8 15.7 194.7 19.3 194.3 C22.9 193.9 27.3 194.1 31.4 194.3 C35.4 194.5 39.4 195.3 43.4 195.5 C47.4 195.7 51.9 195.3 55.5 195.5 C59.1 195.7 62.3 196.1 65.1 196.7 C68.0 197.3 70.8 197.7 72.4 199.1 C74.0 200.5 74.0 203.3 74.8 205.1 C75.6 206.9 77.2 207.9 77.2 210.0 C77.2 212.0 76.0 215.2 74.8 217.2 C73.6 219.2 71.2 219.2 70.0 222.0 C68.8 224.8 80.0 232.1 67.6 234.1 C55.1 236.1 7.2 239.8 -4.8 234.1 C-16.9 228.3 -7.2 205.8 -4.8 199.6Z" fill="#ffffff" filter="url(#b2_0)"/>
<path d="M265.0 130.8 C265.0 128.7 266.8 127.0 269.0 126.2 C271.2 125.4 274.8 125.5 278.0 125.8 C281.2 126.1 284.7 127.4 288.0 128.2 C291.3 129.0 295.0 129.7 298.0 130.8 C301.0 131.9 303.3 133.5 306.0 134.8 C308.7 136.1 311.7 137.1 314.0 138.8 C316.3 140.5 318.5 142.8 320.0 144.8 C321.5 146.8 323.0 148.8 323.0 150.8 C323.0 152.8 321.5 155.1 320.0 156.8 C318.5 158.5 316.3 159.8 314.0 160.8 C311.7 161.8 308.7 162.5 306.0 162.8 C303.3 163.1 300.7 163.5 298.0 162.8 C295.3 162.1 292.3 160.3 290.0 158.8 C287.7 157.3 286.3 156.0 284.0 153.8 C281.7 151.6 278.5 148.3 276.0 145.8 C273.5 143.3 270.8 141.3 269.0 138.8 C267.2 136.3 265.0 132.9 265.0 130.8Z" fill="#383838" filter="url(#b2_0)"/>
<path d="M273.0 131.8 C273.8 130.6 276.5 129.5 279.0 129.4 C281.5 129.3 285.0 130.7 288.0 131.4 C291.0 132.1 294.2 132.8 297.0 133.8 C299.8 134.8 302.3 136.1 305.0 137.4 C307.7 138.7 310.8 140.1 313.0 141.8 C315.2 143.5 317.1 146.0 318.0 147.8 C318.9 149.6 319.1 151.2 318.4 152.8 C317.7 154.4 316.1 156.3 314.0 157.4 C311.9 158.5 308.7 159.2 306.0 159.4 C303.3 159.6 300.5 159.6 298.0 158.8 C295.5 158.0 293.2 156.5 291.0 154.8 C288.8 153.1 287.1 151.0 285.0 148.8 C282.9 146.6 280.2 143.8 278.4 141.8 C276.6 139.8 274.9 138.5 274.0 136.8 C273.1 135.1 272.2 133.0 273.0 131.8Z" fill="#808080" filter="url(#b2_0)"/>
<path d="M280.0 133.8 C280.8 132.7 285.3 133.1 288.0 133.4 C290.7 133.7 293.3 134.5 296.0 135.4 C298.7 136.3 301.5 137.5 304.0 138.8 C306.5 140.1 309.2 141.7 311.0 143.4 C312.8 145.1 314.5 147.1 315.0 148.8 C315.5 150.5 315.2 152.6 314.0 153.8 C312.8 155.0 310.2 155.9 308.0 156.2 C305.8 156.5 303.3 156.1 301.0 155.4 C298.7 154.7 296.2 153.4 294.0 151.8 C291.8 150.2 289.8 147.8 288.0 145.8 C286.2 143.8 284.3 141.8 283.0 139.8 C281.7 137.8 279.2 134.9 280.0 133.8Z" fill="#cccccc" filter="url(#b1_8)"/>
<path d="M290.0 138.8 C290.8 137.5 293.2 136.2 295.0 136.2 C296.8 136.2 299.3 137.7 301.0 138.8 C302.7 139.9 303.5 141.6 305.0 142.8 C306.5 144.0 308.7 144.5 310.0 145.8 C311.3 147.1 313.0 149.4 313.0 150.8 C313.0 152.2 311.5 153.6 310.0 154.2 C308.5 154.8 305.8 154.6 304.0 154.2 C302.2 153.8 300.7 152.9 299.0 151.8 C297.3 150.7 295.5 149.1 294.0 147.8 C292.5 146.5 290.7 145.3 290.0 143.8 C289.3 142.3 289.2 140.1 290.0 138.8Z" fill="#ffffff" filter="url(#b1_5)"/>
</g>
<use href="#ln"/>
<text class="wm" x="181.9" y="205.6" textLength="21.6" lengthAdjust="spacing">from</text>
<text class="wm" x="207.2" y="205.6" textLength="17.9" lengthAdjust="spacing">grib</text>
<text class="wm" x="228.7" y="205.6" textLength="18.8" lengthAdjust="spacing">files</text>
<text class="wm" x="251.1" y="205.6" textLength="41.2" lengthAdjust="spacing">provided</text>
<text class="wm" x="295.9" y="205.6" textLength="11.0" lengthAdjust="spacing">by</text>
<text class="wm" x="310.5" y="205.6" textLength="35.0" lengthAdjust="spacing">ECMWF</text>
<text class="wm" x="240.4" y="223.9" textLength="32.4" lengthAdjust="spacing">©2025</text>
<text class="wm" x="276.3" y="223.9" textLength="68.8" lengthAdjust="spacing">sb@irizone.net</text>
</g>
<rect x="0" y="0" width="352" height="227.9" fill="none" stroke="#000" stroke-width="1"/>
</g>
<rect x="158.60" y="573.10" width="35.30" height="7.2" fill="rgb(255,250,5)"/>
<rect x="193.80" y="573.10" width="35.30" height="7.2" fill="rgb(255,208,5)"/>
<rect x="229.00" y="573.10" width="35.30" height="7.2" fill="rgb(255,165,10)"/>
<rect x="264.20" y="573.10" width="35.30" height="7.2" fill="rgb(255,135,10)"/>
<rect x="299.40" y="573.10" width="35.30" height="7.2" fill="rgb(255,95,10)"/>
<rect x="334.60" y="573.10" width="35.30" height="7.2" fill="rgb(245,28,14)"/>
<rect x="369.80" y="573.10" width="35.30" height="7.2" fill="rgb(208,8,8)"/>
<rect x="405.00" y="573.10" width="35.30" height="7.2" fill="rgb(158,4,4)"/>
<rect x="440.20" y="573.10" width="35.30" height="7.2" fill="rgb(108,2,2)"/>
<line x1="193.80" y1="573.10" x2="193.80" y2="580.30" stroke="#000" stroke-width="0.8"/>
<line x1="229.00" y1="573.10" x2="229.00" y2="580.30" stroke="#000" stroke-width="0.8"/>
<line x1="264.20" y1="573.10" x2="264.20" y2="580.30" stroke="#000" stroke-width="0.8"/>
<line x1="299.40" y1="573.10" x2="299.40" y2="580.30" stroke="#000" stroke-width="0.8"/>
<line x1="334.60" y1="573.10" x2="334.60" y2="580.30" stroke="#000" stroke-width="0.8"/>
<line x1="369.80" y1="573.10" x2="369.80" y2="580.30" stroke="#000" stroke-width="0.8"/>
<line x1="405.00" y1="573.10" x2="405.00" y2="580.30" stroke="#000" stroke-width="0.8"/>
<line x1="440.20" y1="573.10" x2="440.20" y2="580.30" stroke="#000" stroke-width="0.8"/>
<rect x="158.60" y="573.10" width="316.8" height="7.2" fill="none" stroke="#000" stroke-width="0.9"/>
<text class="tt" x="22.8" y="23.4" textLength="19.0" lengthAdjust="spacing">IFS</text>
<text class="tt" x="45.8" y="23.4">-</text>
<text class="tt" x="55.0" y="23.4" textLength="43.1" lengthAdjust="spacing">Probas</text>
<text class="tt" x="101.8" y="23.4" textLength="31.9" lengthAdjust="spacing">T850</text>
<text class="tt" x="142.2" y="23.4" textLength="82.0" lengthAdjust="spacing">standardized</text>
<text class="tt" x="230.0" y="23.4" textLength="23.5" lengthAdjust="spacing">ano</text>
<text class="tt" x="259.6" y="23.4">&gt;</text>
<text class="tt" x="273.3" y="23.4" textLength="28.8" lengthAdjust="spacing">than</text>
<text class="tt" x="307.9" y="23.4">1</text>
<text class="tt" x="318.3" y="23.4" textLength="11.9" lengthAdjust="spacing">σ,</text>
<text class="tt" x="334.3" y="23.4" textLength="24.5" lengthAdjust="spacing">Init:</text>
<text class="tt" x="364.0" y="23.4" textLength="62.4" lengthAdjust="spacing">20251104</text>
<text class="tt" x="431.7" y="23.4" textLength="21.9" lengthAdjust="spacing">00z</text>
<text class="tt" x="458.6" y="23.4">-</text>
<text class="tt" x="466.7" y="23.4" textLength="35.8" lengthAdjust="spacing">Valid:</text>
<text class="tt" x="507.3" y="23.4" textLength="81.5" lengthAdjust="spacing">20251105:00</text>
<text class="tt" x="594.7" y="23.4" textLength="16.9" lengthAdjust="spacing">TU</text>
<text class="tk" x="158.6" y="31.8" text-anchor="middle" textLength="10.8" lengthAdjust="spacing">10</text>
<text class="tk" x="193.8" y="31.8" text-anchor="middle" textLength="10.8" lengthAdjust="spacing">25</text>
<text class="tk" x="229.0" y="31.8" text-anchor="middle" textLength="10.8" lengthAdjust="spacing">40</text>
<text class="tk" x="264.2" y="31.8" text-anchor="middle" textLength="10.8" lengthAdjust="spacing">50</text>
<text class="tk" x="299.4" y="31.8" text-anchor="middle" textLength="10.8" lengthAdjust="spacing">60</text>
<text class="tk" x="334.6" y="31.8" text-anchor="middle" textLength="10.8" lengthAdjust="spacing">70</text>
<text class="tk" x="369.8" y="31.8" text-anchor="middle" textLength="10.8" lengthAdjust="spacing">80</text>
<text class="tk" x="405.0" y="31.8" text-anchor="middle" textLength="10.8" lengthAdjust="spacing">90</text>
<text class="tk" x="440.2" y="31.8" text-anchor="middle" textLength="10.8" lengthAdjust="spacing">95</text>
<text class="tk" x="475.4" y="31.8" text-anchor="middle" textLength="16.8" lengthAdjust="spacing">100</text>
<text class="tt" x="16.7" y="292.0" textLength="19.0" lengthAdjust="spacing">IFS</text>
<text class="tt" x="39.7" y="292.0">-</text>
<text class="tt" x="48.9" y="292.0" textLength="43.1" lengthAdjust="spacing">Probas</text>
<text class="tt" x="95.7" y="292.0" textLength="31.9" lengthAdjust="spacing">T850</text>
<text class="tt" x="136.1" y="292.0" textLength="82.0" lengthAdjust="spacing">standardized</text>
<text class="tt" x="223.9" y="292.0" textLength="23.5" lengthAdjust="spacing">ano</text>
<text class="tt" x="253.5" y="292.0">&gt;</text>
<text class="tt" x="267.2" y="292.0" textLength="28.8" lengthAdjust="spacing">than</text>
<text class="tt" x="301.2" y="292.0" textLength="19.4" lengthAdjust="spacing">1.5</text>
<text class="tt" x="324.4" y="292.0" textLength="11.9" lengthAdjust="spacing">σ,</text>
<text class="tt" x="340.4" y="292.0" textLength="24.5" lengthAdjust="spacing">Init:</text>
<text class="tt" x="370.1" y="292.0" textLength="62.4" lengthAdjust="spacing">20251104</text>
<text class="tt" x="437.8" y="292.0" textLength="21.9" lengthAdjust="spacing">00z</text>
<text class="tt" x="464.7" y="292.0">-</text>
<text class="tt" x="472.8" y="292.0" textLength="35.8" lengthAdjust="spacing">Valid:</text>
<text class="tt" x="513.4" y="292.0" textLength="81.5" lengthAdjust="spacing">20251105:00</text>
<text class="tt" x="600.8" y="292.0" textLength="16.9" lengthAdjust="spacing">TU</text>
<text class="tk" x="158.6" y="300.4" text-anchor="middle" textLength="10.8" lengthAdjust="spacing">10</text>
<text class="tk" x="193.8" y="300.4" text-anchor="middle" textLength="10.8" lengthAdjust="spacing">25</text>
<text class="tk" x="229.0" y="300.4" text-anchor="middle" textLength="10.8" lengthAdjust="spacing">40</text>
<text class="tk" x="264.2" y="300.4" text-anchor="middle" textLength="10.8" lengthAdjust="spacing">50</text>
<text class="tk" x="299.4" y="300.4" text-anchor="middle" textLength="10.8" lengthAdjust="spacing">60</text>
<text class="tk" x="334.6" y="300.4" text-anchor="middle" textLength="10.8" lengthAdjust="spacing">70</text>
<text class="tk" x="369.8" y="300.4" text-anchor="middle" textLength="10.8" lengthAdjust="spacing">80</text>
<text class="tk" x="405.0" y="300.4" text-anchor="middle" textLength="10.8" lengthAdjust="spacing">90</text>
<text class="tk" x="440.2" y="300.4" text-anchor="middle" textLength="10.8" lengthAdjust="spacing">95</text>
<text class="tk" x="475.4" y="300.4" text-anchor="middle" textLength="16.8" lengthAdjust="spacing">100</text>
<text class="tt" x="22.8" y="560.6" textLength="19.0" lengthAdjust="spacing">IFS</text>
<text class="tt" x="45.8" y="560.6">-</text>
<text class="tt" x="55.0" y="560.6" textLength="43.1" lengthAdjust="spacing">Probas</text>
<text class="tt" x="101.8" y="560.6" textLength="31.9" lengthAdjust="spacing">T850</text>
<text class="tt" x="142.2" y="560.6" textLength="82.0" lengthAdjust="spacing">standardized</text>
<text class="tt" x="230.0" y="560.6" textLength="23.5" lengthAdjust="spacing">ano</text>
<text class="tt" x="259.6" y="560.6">&gt;</text>
<text class="tt" x="273.3" y="560.6" textLength="28.8" lengthAdjust="spacing">than</text>
<text class="tt" x="307.9" y="560.6">2</text>
<text class="tt" x="318.3" y="560.6" textLength="11.9" lengthAdjust="spacing">σ,</text>
<text class="tt" x="334.3" y="560.6" textLength="24.5" lengthAdjust="spacing">Init:</text>
<text class="tt" x="364.0" y="560.6" textLength="62.4" lengthAdjust="spacing">20251104</text>
<text class="tt" x="431.7" y="560.6" textLength="21.9" lengthAdjust="spacing">00z</text>
<text class="tt" x="458.6" y="560.6">-</text>
<text class="tt" x="466.7" y="560.6" textLength="35.8" lengthAdjust="spacing">Valid:</text>
<text class="tt" x="507.3" y="560.6" textLength="81.5" lengthAdjust="spacing">20251105:00</text>
<text class="tt" x="594.7" y="560.6" textLength="16.9" lengthAdjust="spacing">TU</text>
<text class="tk" x="158.6" y="569.0" text-anchor="middle" textLength="10.8" lengthAdjust="spacing">10</text>
<text class="tk" x="193.8" y="569.0" text-anchor="middle" textLength="10.8" lengthAdjust="spacing">25</text>
<text class="tk" x="229.0" y="569.0" text-anchor="middle" textLength="10.8" lengthAdjust="spacing">40</text>
<text class="tk" x="264.2" y="569.0" text-anchor="middle" textLength="10.8" lengthAdjust="spacing">50</text>
<text class="tk" x="299.4" y="569.0" text-anchor="middle" textLength="10.8" lengthAdjust="spacing">60</text>
<text class="tk" x="334.6" y="569.0" text-anchor="middle" textLength="10.8" lengthAdjust="spacing">70</text>
<text class="tk" x="369.8" y="569.0" text-anchor="middle" textLength="10.8" lengthAdjust="spacing">80</text>
<text class="tk" x="405.0" y="569.0" text-anchor="middle" textLength="10.8" lengthAdjust="spacing">90</text>
<text class="tk" x="440.2" y="569.0" text-anchor="middle" textLength="10.8" lengthAdjust="spacing">95</text>
<text class="tk" x="475.4" y="569.0" text-anchor="middle" textLength="16.8" lengthAdjust="spacing">100</text>
</svg>
</body></html>
